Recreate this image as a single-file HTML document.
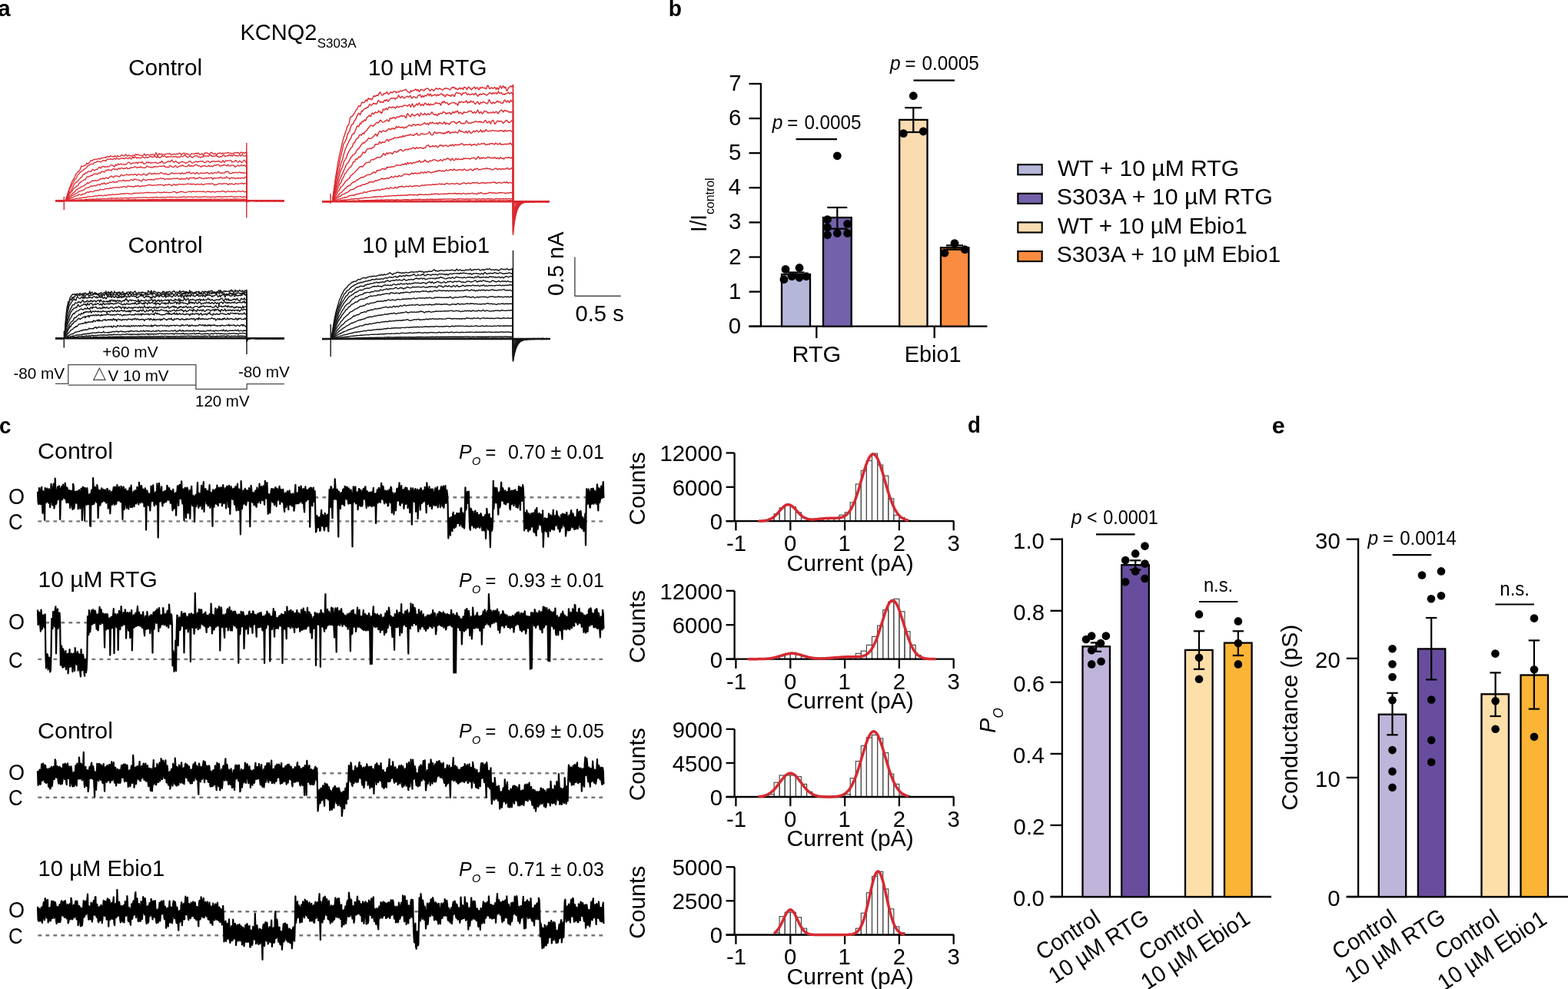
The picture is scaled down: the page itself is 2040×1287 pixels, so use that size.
<!DOCTYPE html>
<html><head><meta charset="utf-8"><title>KCNQ2 S303A figure</title>
<style>html,body{margin:0;padding:0;background:#fff;overflow:hidden}svg{display:block}text{font-family:"Liberation Sans", sans-serif}</style>
</head><body>
<svg width="2040" height="1287" viewBox="0 0 2040 1287">
<rect width="2040" height="1287" fill="#fff"/>
<text x="-2.7" y="21.0" font-size="30.39" font-weight="bold" textLength="16.41" lengthAdjust="spacingAndGlyphs">a</text>
<text x="869.7" y="20.6" font-size="28.84" font-weight="bold" textLength="17.18" lengthAdjust="spacingAndGlyphs">b</text>
<text x="-0.9" y="563.5" font-size="28.84" font-weight="bold" textLength="15.48" lengthAdjust="spacingAndGlyphs">c</text>
<text x="1259.1" y="563.0" font-size="28.84" font-weight="bold" textLength="16.81" lengthAdjust="spacingAndGlyphs">d</text>
<text x="1654.8" y="564.0" font-size="28.84" font-weight="bold" textLength="17.03" lengthAdjust="spacingAndGlyphs">e</text>
<text x="312.5" y="52.1" font-size="30.18" textLength="99.93" lengthAdjust="spacingAndGlyphs">KCNQ2</text>
<text x="412.8" y="61.7" font-size="17.00" textLength="50.75" lengthAdjust="spacingAndGlyphs">S303A</text>
<text x="166.9" y="98.3" font-size="30.18" textLength="96.35" lengthAdjust="spacingAndGlyphs">Control</text>
<text x="478.7" y="98.2" font-size="30.18" textLength="155.00" lengthAdjust="spacingAndGlyphs">10 µM RTG</text>
<text x="166.5" y="329.0" font-size="30.18" textLength="97.28" lengthAdjust="spacingAndGlyphs">Control</text>
<text x="471.3" y="329.2" font-size="30.18" textLength="165.93" lengthAdjust="spacingAndGlyphs">10 µM Ebio1</text>
<text x="133.2" y="465.3" font-size="21.12" textLength="72.43" lengthAdjust="spacingAndGlyphs">+60 mV</text>
<text x="17.4" y="493.4" font-size="21.12" textLength="66.70" lengthAdjust="spacingAndGlyphs">-80 mV</text>
<text x="140.6" y="495.5" font-size="21.12" textLength="78.96" lengthAdjust="spacingAndGlyphs">V 10 mV</text>
<text x="120.8" y="492.2" font-size="22.5" fill="#444" style="font-family:'DejaVu Sans', sans-serif">△</text>
<text x="309.9" y="490.6" font-size="21.12" textLength="66.91" lengthAdjust="spacingAndGlyphs">-80 mV</text>
<text x="254.0" y="529.0" font-size="21.12" textLength="70.57" lengthAdjust="spacingAndGlyphs">120 mV</text>
<text x="733.4" y="385.0" font-size="30.18" transform="rotate(-90 733.4 385.0)" textLength="83.39" lengthAdjust="spacingAndGlyphs">0.5 nA</text>
<text x="748.6" y="418.2" font-size="30.18" textLength="63.12" lengthAdjust="spacingAndGlyphs">0.5 s</text>
<text x="1004.7" y="167.6" font-size="25.23" font-style="italic" textLength="13.63" lengthAdjust="spacingAndGlyphs">p</text>
<text x="1024.3" y="167.6" font-size="25.23" textLength="13.97" lengthAdjust="spacingAndGlyphs">=</text>
<text x="1046.4" y="167.6" font-size="25.23" textLength="74.11" lengthAdjust="spacingAndGlyphs">0.0005</text>
<text x="1157.9" y="91.0" font-size="25.23" font-style="italic" textLength="13.63" lengthAdjust="spacingAndGlyphs">p</text>
<text x="1177.5" y="91.0" font-size="25.23" textLength="13.97" lengthAdjust="spacingAndGlyphs">=</text>
<text x="1199.6" y="91.0" font-size="25.23" textLength="74.11" lengthAdjust="spacingAndGlyphs">0.0005</text>
<text x="1030.5" y="471.0" font-size="30.18" textLength="63.86" lengthAdjust="spacingAndGlyphs">RTG</text>
<text x="1176.7" y="471.0" font-size="30.18" textLength="73.78" lengthAdjust="spacingAndGlyphs">Ebio1</text>
<text x="919.2" y="301.9" font-size="30.18" transform="rotate(-90 919.2 301.9)" textLength="22.70" lengthAdjust="spacingAndGlyphs">I/I</text>
<text x="929.0" y="279.1" font-size="17.00" transform="rotate(-90 929.0 279.1)" textLength="47.69" lengthAdjust="spacingAndGlyphs">control</text>
<text x="1375.9" y="228.6" font-size="30.18" textLength="236.20" lengthAdjust="spacingAndGlyphs">WT + 10 µM RTG</text>
<text x="1374.7" y="266.2" font-size="30.18" textLength="281.15" lengthAdjust="spacingAndGlyphs">S303A + 10 µM RTG</text>
<text x="1375.9" y="303.8" font-size="30.18" textLength="246.82" lengthAdjust="spacingAndGlyphs">WT + 10 µM Ebio1</text>
<text x="1374.7" y="341.4" font-size="30.18" textLength="291.56" lengthAdjust="spacingAndGlyphs">S303A + 10 µM Ebio1</text>
<text x="49.1" y="597.4" font-size="30.18" textLength="97.91" lengthAdjust="spacingAndGlyphs">Control</text>
<text x="10.9" y="655.5" font-size="30.18" textLength="21.01" lengthAdjust="spacingAndGlyphs">O</text>
<text x="10.9" y="689.0" font-size="30.18" textLength="18.65" lengthAdjust="spacingAndGlyphs">C</text>
<text x="596.9" y="597.4" font-size="25.75" font-style="italic" textLength="16.68" lengthAdjust="spacingAndGlyphs">P</text>
<text x="614.0" y="605.4" font-size="14.94" font-style="italic" textLength="11.28" lengthAdjust="spacingAndGlyphs">O</text>
<text x="631.5" y="597.4" font-size="25.75" textLength="13.85" lengthAdjust="spacingAndGlyphs">=</text>
<text x="660.9" y="597.4" font-size="25.75" textLength="124.93" lengthAdjust="spacingAndGlyphs">0.70 ± 0.01</text>
<text x="49.5" y="764.0" font-size="30.18" textLength="155.31" lengthAdjust="spacingAndGlyphs">10 µM RTG</text>
<text x="10.9" y="818.5" font-size="30.18" textLength="21.01" lengthAdjust="spacingAndGlyphs">O</text>
<text x="10.9" y="868.5" font-size="30.18" textLength="18.65" lengthAdjust="spacingAndGlyphs">C</text>
<text x="596.9" y="764.1" font-size="25.75" font-style="italic" textLength="16.68" lengthAdjust="spacingAndGlyphs">P</text>
<text x="614.0" y="772.1" font-size="14.94" font-style="italic" textLength="11.28" lengthAdjust="spacingAndGlyphs">O</text>
<text x="631.5" y="764.1" font-size="25.75" textLength="13.85" lengthAdjust="spacingAndGlyphs">=</text>
<text x="660.9" y="764.1" font-size="25.75" textLength="124.93" lengthAdjust="spacingAndGlyphs">0.93 ± 0.01</text>
<text x="49.1" y="960.6" font-size="30.18" textLength="97.91" lengthAdjust="spacingAndGlyphs">Control</text>
<text x="10.9" y="1014.5" font-size="30.18" textLength="21.01" lengthAdjust="spacingAndGlyphs">O</text>
<text x="10.9" y="1048.3" font-size="30.18" textLength="18.65" lengthAdjust="spacingAndGlyphs">C</text>
<text x="596.9" y="960.2" font-size="25.75" font-style="italic" textLength="16.68" lengthAdjust="spacingAndGlyphs">P</text>
<text x="614.0" y="968.2" font-size="14.94" font-style="italic" textLength="11.28" lengthAdjust="spacingAndGlyphs">O</text>
<text x="631.5" y="960.2" font-size="25.75" textLength="13.85" lengthAdjust="spacingAndGlyphs">=</text>
<text x="660.9" y="960.2" font-size="25.75" textLength="124.93" lengthAdjust="spacingAndGlyphs">0.69 ± 0.05</text>
<text x="49.6" y="1140.1" font-size="30.18" textLength="164.60" lengthAdjust="spacingAndGlyphs">10 µM Ebio1</text>
<text x="10.9" y="1194.4" font-size="30.18" textLength="21.01" lengthAdjust="spacingAndGlyphs">O</text>
<text x="10.9" y="1227.8" font-size="30.18" textLength="18.65" lengthAdjust="spacingAndGlyphs">C</text>
<text x="596.9" y="1140.2" font-size="25.75" font-style="italic" textLength="16.68" lengthAdjust="spacingAndGlyphs">P</text>
<text x="614.0" y="1148.2" font-size="14.94" font-style="italic" textLength="11.28" lengthAdjust="spacingAndGlyphs">O</text>
<text x="631.5" y="1140.2" font-size="25.75" textLength="13.85" lengthAdjust="spacingAndGlyphs">=</text>
<text x="660.9" y="1140.2" font-size="25.75" textLength="124.93" lengthAdjust="spacingAndGlyphs">0.71 ± 0.03</text>
<path d="M72 261.4l4 .1 4-.1 3.8-.1 1 0 1-1.7 1-3.7 1-3.3 1-2.9 1-2.9 1-2.8 1-2.5 1-2.7 1-2.5 1-2 1-1.6 1-1.6 1-2.2 1-2 1-1.5 1-1 1-1.4 1-.6 1-.5 1-3.1 1-2.6 1 .4 1-.2 1-.6 1-.5 1 .3 1-1.4 1-2 1 1.1 1 0 1-1.3 1-1.2 1-1.8 1 0 1 .5 1-1.2 1-.8 1 .3 1-.5 1-.3 1 .3 1-.2 1-.6 1 0 1 .6 1-.4 1-1.2 1 .1 1 0 1-.1 1-.5 1-.2 1 .5 1-1.4 1-.4 1 .7 1 .2 1-.7 1-1 1 .6 1 .3 1 0 1 .6 1-1.2 1-.4 1 1.6 1-.4 1-1.3 1 .6 1 .6 1 0 1-.4 1-1.6 1 .1 1 .6 1 .5 1 .3 1-1.5 1-.9 1 1.5 1 1.1 1-1 1-.5 1 .7 1 .2 1 .2 1-.1 1-.7 1-.3 1 .6 1-1.2 1-.8 1 1.4 1-.9 1 .2 1 .4 1 .3 1 .3 1-.1 1 .8 1-.2 1-1.4 1-1.2 1 1.6 1 .9 1-1.6 1 .2 1 .2 1 .5 1 .1 1-.6 1-.5 1 .3 1-.2 1 .1 1 1.5 1-1.4 1-2.5 1 1.3 1 3.1 1-1 1-2.4 1 1 1 .2 1-.7 1 .3 1 .6 1 0 1-.2 1 .1 1-.7 1-.1 1-.1 1 .2 1-.2 1-.7 1 1.6 1 .6 1-.9 1 .3 1-.2 1-.5 1 .5 1 .3 1-1 1 .3 1 .3 1-1.2 1-.2 1 .4 1 1.6 1-.5 1-1 1-.6 1-.1 1 1.9 1-.2 1-1 1 .3 1 .8 1 .3 1 .7 1-.3 1-1.6 1-.2 1 .3 1 .1 1 0 1 .1 1-1.1 1 .4 1 .7 1-1.3 1 .8 1 1.5 1-.1 1-.7 1-.9 1 1.6 1 1.2 1-2.6 1-1 1 .7 1-.5 1 .1 1 .6 1 .7 1 .9 1-2.5 1-.6 1 .7 1 .6 1 1.1 1-.4 1-.7 1 .8 1 1.9 1-1.9 1-1 1 .2 1-.2 1-.4 1 1.2 1 .1 1-1.3 1 .9 1-.3 1-.4 1 0 1 .1 1-.4 1-.2 1 .5 1 .1 1 .2 1 0 1 .4 1 0 1-.6 1-.2 1-.3 1-.4 1 .7 1 0 1-.8 1 1 1 .7 1-.5 1-1.6 1 .5 1 1.5 1-1.2 1 .3 1 .5 1-1.2 1 .4 0 64.6 .7-.7 1-.6 1-.3 1-.1 1-.1 1-.1 1 0 1 0 1 0 1 0 1 0 1 .1 1-.5 1 .9 1-.7 1-.2 1 .6 1-.3 1 .2 1-.2 1 .1 1 .1 1-.3 1 .4 1-.3 1-.1 1 .2 1 .1 1-.2 1-.1 1 .4 1-.6 1 .1 1 .3 1-.3 1 .3 1 0 1 .2 1-.4 1 0 1 .3 1-.7 1 1.4 1-1 1 0 1 .4 1-.2 1-.4 1 .6" fill="none" stroke="#dc2830" stroke-width="1.3" stroke-linejoin="round"/>
<path d="M72 261.5l4-.3 4 0 3.8 .1 1 0 1-1.6 1-2.9 1-3 1-3.1 1-2.4 1-2.3 1-1.9 1-1.7 1-2.1 1-1.8 1-2 1-2.1 1-1.4 1-.4 1-1.8 1-2.4 1-1.2 1-1.2 1-1.4 1-.7 1-.8 1-.3 1-.8 1-1.4 1-.3 1-1.1 1-.4 1-.9 1-1.8 1-.5 1-.2 1-1.1 1-.5 1-.6 1 .3 1 .4 1-1.5 1-.9 1-.2 1 0 1-.7 1-.7 1 .2 1-.1 1 .4 1 .7 1-.8 1-.6 1-1 1-.1 1 .6 1-.3 1 .7 1-1.7 1-1 1 .5 1 .1 1-.3 1-.7 1 .7 1 .5 1-.2 1-.9 1-.5 1 .9 1 .2 1-1.6 1 .4 1 1.2 1-.1 1-.5 1-.1 1-.5 1-.2 1 .2 1 0 1 .8 1-.9 1-.6 1 .4 1 .6 1 .4 1-1.5 1-.2 1 1.1 1 1 1-1.5 1-1.7 1 1.8 1-.5 1-1.6 1 1.1 1 1.3 1-.8 1-.3 1 .4 1 .6 1-.1 1-.4 1-.6 1-.7 1 .5 1 .7 1 .4 1-1.2 1 .1 1 .8 1-.5 1-.6 1-.1 1-.9 1 .2 1 1.1 1-.6 1 .3 1-.4 1-.8 1 .5 1 1.6 1-.8 1-.8 1 1.5 1-.2 1 .2 1-.9 1-2.1 1 1 1 .7 1-.7 1 0 1 .8 1 1.2 1-1.1 1 0 1 .5 1-.7 1 0 1-.1 1 .3 1 .3 1-.6 1 .4 1-.1 1-.5 1 .6 1 .7 1-.6 1 .2 1 .4 1-1.2 1-.6 1 .5 1 .4 1-1 1-.8 1 .4 1 .2 1 1 1 1.2 1-.1 1-.7 1-.8 1-.2 1 .8 1 1.3 1 0 1-1.5 1-.6 1-.1 1-.5 1 .1 1 .6 1 1.2 1-.1 1-.3 1 1.1 1-.8 1-.2 1 .4 1-1.2 1-.3 1 .2 1-.3 1-.1 1 .2 1 .4 1-.7 1-.3 1-.4 1 .2 1 1.3 1-.1 1-.2 1 .2 1-.6 1-.5 1 .7 1 .8 1-.1 1 .9 1-.3 1-1 1 .9 1-.7 1-1.3 1-.7 1 .6 1 1.4 1 0 1-.5 1-.4 1 .2 1-1.1 1-.2 1 1.3 1-1 1 1.3 1 0 1-2 1 .1 1 1.3 1 .2 1-.3 1 .9 1-.3 1-1.1 1-.6 1 1.8 1-.4 1-1.5 1 .7 1 .9 1 .3 1-.1 1-.8 1 .1 0 60.8 .7-.7 1-.5 1-.3 1-.1 1-.1 1-.1 1 0 1 0 1 0 1 0 1 .1 1-.5 1 .8 1 .2 1-.8 1 .2 1 .3 1-.7 1-.1 1 .2 1 .2 1 0 1 .3 1-.1 1-.4 1 .4 1 .4 1-.2 1-.1 1-.2 1 .2 1-.4 1 .4 1-.2 1 .3 1-.2 1-.4 1 .3 1 .3 1-.6 1 .2 1-.1 1-.2 1 .6 1 .1 1-.1 1-.1 1-.1 1 .1" fill="none" stroke="#dc2830" stroke-width="1.3" stroke-linejoin="round"/>
<path d="M72 261.1l4 .4 4 .1 3.8-.3 1 0 1-1.2 1-2.2 1-1.8 1-1.9 1-2.8 1-1.9 1-.7 1-1.5 1-1.9 1-1.7 1-2.4 1-2.1 1-1.1 1-.6 1-.6 1-.8 1-1.3 1-.9 1-1 1-1.6 1-.4 1-1 1-2.4 1-.8 1 .5 1-1.6 1-.9 1 .6 1-1.1 1-1.1 1-.1 1-.1 1 .3 1 0 1-1.8 1-1.1 1 .7 1 1 1-.5 1-1.2 1 .4 1-.5 1-1.4 1-1 1-.4 1 1.6 1-.7 1-1.4 1-.3 1-.1 1 1 1-.5 1-.2 1 .3 1-.4 1 .4 1 0 1-1.2 1-1 1-.4 1 .5 1 .1 1 1.1 1 1.1 1-1.8 1-1.3 1 1 1-1 1-1.3 1 1.5 1-.4 1-.8 1 .2 1 .5 1 .2 1-.2 1 .2 1-.3 1 .2 1-.5 1-1.5 1-.6 1-.2 1 .6 1 1.4 1 .4 1-1 1-.7 1 0 1 .3 1-.1 1-.6 1 0 1 1.3 1-1 1-.7 1 0 1 .2 1 .7 1-1.3 1 .4 1 2.2 1-.1 1-.4 1-.1 1-1.9 1 .3 1 .9 1-1.1 1 .7 1 .9 1-.8 1 .3 1-.2 1-.1 1-.1 1-.1 1-.1 1 .5 1 .7 1 0 1-.6 1-1.1 1 .9 1-1.3 1-1.1 1 2.1 1 .8 1 0 1-.5 1-.2 1-.3 1-1.1 1-.6 1 .5 1 .6 1-.1 1-1.7 1-.8 1 1.7 1 1.3 1-.1 1-.6 1-1 1 1.6 1 .6 1-.2 1 1.5 1-.8 1-1.2 1-.1 1-.4 1 .1 1 .6 1 .2 1 .5 1 .7 1-.8 1-.4 1-.3 1-1.1 1 .1 1-.1 1 .9 1 1.1 1 .2 1-.6 1-.6 1-.3 1-.8 1 .5 1 .8 1-.9 1 .2 1-.4 1-.4 1 .6 1-.2 1-.3 1 .8 1 1 1 .1 1-.3 1-1.4 1-.3 1 0 1 .5 1 1.3 1 0 1-1.1 1-.4 1 .5 1-.7 1 0 1 .9 1-.4 1-.4 1 .4 1-.2 1-.6 1 .9 1 .6 1 .5 1-.7 1-2 1 1.1 1 1.6 1-1 1-1.4 1 .4 1-.2 1-.2 1-.2 1 0 1 0 1 0 1 2.1 1 0 1-.5 1-.2 1-1 1-.5 1 1.1 1 .8 1 .4 1-.7 1-1.1 1 .8 1 .9 1 1 1-1.2 1-1.7 1-.7 1 1.4 1 1 1-1.2 0 53.4 .7-.6 1-.5 1-.2 1-.2 1 0 1-.1 1 0 1 0 1 0 1 0 1 0 1-.7 1 .3 1 .6 1-.1 1-.1 1-.3 1 .4 1 .3 1-.7 1 .3 1-.1 1 .2 1-.1 1-.1 1-.1 1 .2 1-.2 1 .1 1 .1 1 .2 1-.4 1 .1 1 .4 1-.4 1 0 1 .3 1-.1 1-.1 1 0 1-.3 1 .4 1 .2 1-.2 1-.5 1 .5 1-.3 1 .1 1 .1" fill="none" stroke="#dc2830" stroke-width="1.3" stroke-linejoin="round"/>
<path d="M72 261l4 .6 4-.3 3.8 0 1 0 1-.8 1-1.6 1-2 1-1.9 1-1.7 1-1.7 1-.7 1-1 1-1.1 1-1.6 1-1.5 1-1 1-.8 1-.5 1-1.6 1-.2 1-.7 1-2.5 1-.6 1-.4 1-.8 1-1.3 1-.3 1-.4 1-.7 1 0 1-1.8 1-1.7 1-.4 1 0 1-.1 1-.5 1-.8 1-.4 1 .6 1-1.3 1-1.1 1 .3 1-.3 1-.6 1 .6 1 .4 1-.8 1-1.3 1 .4 1 .3 1-1.7 1-.6 1-.2 1 1 1 .1 1-1.3 1-1.3 1 .1 1 .3 1-1.1 1 .7 1-.1 1 0 1 .8 1-1.5 1-.8 1 0 1-.1 1 1.1 1-.8 1 .3 1 .5 1-1.7 1 0 1 .9 1-.8 1-.5 1-.1 1 .6 1 .7 1-1 1 .4 1-.5 1-.9 1 1.6 1 .1 1-.4 1 .1 1-1.1 1-.3 1 .3 1-.1 1-.6 1-.2 1-.4 1 .4 1 .9 1 .3 1-1.2 1 0 1 .9 1-1.2 1 0 1 1.1 1 .2 1-.1 1 .2 1 0 1-.5 1-1.6 1-.4 1 1.2 1 .1 1 .2 1 .6 1-.4 1 .6 1-.6 1-.5 1 .2 1-.9 1 .5 1 .1 1 .1 1-.3 1-.5 1 .1 1-.1 1 .2 1-.5 1 .5 1-.1 1-.9 1 1.2 1 1 1-.2 1-.3 1 .8 1-.8 1-1.7 1 .1 1 .9 1 .7 1 .1 1 .3 1-.7 1-1 1-.4 1 1.6 1 1 1-.9 1-.7 1-.4 1-.1 1 0 1-1.2 1 .2 1 1 1 .2 1 .3 1 .3 1-.1 1-.1 1-1.4 1-1 1 2.3 1-.1 1-1.1 1 1 1-.3 1 0 1-.3 1-1.4 1 0 1 .1 1 .7 1 .7 1 .2 1-.4 1 1.2 1 .5 1-1.4 1 .2 1-.1 1-.6 1 .2 1 .8 1 .3 1 0 1-.7 1-.9 1 1.4 1 .3 1-.9 1 .5 1 .5 1-1.1 1-1 1 .4 1 .1 1-1 1 .1 1-.3 1 .2 1 1.8 1 .2 1-1 1 .2 1 .2 1-1.2 1-.1 1 .2 1 .6 1 .9 1-1.2 1-.8 1 1.7 1 .4 1-.3 1-.9 1 .2 1 0 1-.4 1 1.5 1 1 1-.5 1-.6 1-.6 1-.7 1 .9 1 .3 1-.7 1-.8 1 .1 1 1.1 1-.5 1-.6 1 1.3 1 .3 1-1 0 47.4 .7-.5 1-.4 1-.3 1-.1 1 0 1-.1 1 0 1 0 1 0 1 0 1-.3 1 .1 1 .1 1 .4 1-.5 1 .6 1-.6 1 .1 1 .3 1-.3 1-.1 1 .2 1 .1 1-.5 1 .3 1 .1 1-.1 1 .3 1-.3 1 0 1 .1 1 .2 1-.3 1 .5 1-.6 1 .5 1-.5 1 .2 1 .1 1 .4 1-.3 1-.3 1 .4 1-.4 1-.1 1 .3 1-.1 1 .2 1-.3" fill="none" stroke="#dc2830" stroke-width="1.3" stroke-linejoin="round"/>
<path d="M72 261.4l4 .1 4-.1 3.8-.1 1 0 1-.6 1-1.1 1-1.2 1-1.2 1-1.2 1-1.2 1-1 1-.6 1-.9 1-.9 1-.8 1-.7 1-.9 1-1.7 1-.6 1-.3 1-1.1 1-.4 1-.3 1-.7 1-.8 1-.7 1-.3 1 0 1-.9 1-1.1 1-.1 1-1.2 1-1.2 1 1.1 1-.5 1-1.1 1 0 1-.9 1-.9 1-.4 1 .8 1-.5 1-.5 1 .4 1 .3 1-.6 1-.6 1 .3 1-.9 1-1.3 1 .5 1-.1 1-1.1 1 .7 1 .5 1-.9 1-.7 1 0 1 .4 1 1 1-1.5 1-.9 1-.6 1-.6 1 .7 1 .7 1 .4 1-1.3 1-.5 1 0 1 .2 1 0 1 .1 1 .7 1-.1 1-1.4 1-1.1 1 .1 1 1.1 1 .1 1-.9 1 .1 1-.4 1-.7 1 .8 1 .3 1-.5 1 .2 1-.1 1-.5 1 0 1 .5 1 .2 1-.9 1-.3 1 .8 1 1 1-.9 1-.8 1 .4 1 .2 1 .3 1 .2 1 0 1-1 1-.5 1 .4 1 .4 1 .9 1 .5 1-1.7 1-.7 1-.1 1-1 1 1 1 1 1-.9 1 .5 1 0 1-1.4 1 .8 1 .6 1-.4 1-.2 1 .2 1-.1 1-.2 1-.9 1-.5 1 1.1 1 .3 1 0 1 .9 1-.5 1-.5 1 1.2 1 .1 1-.1 1 .4 1-.6 1-.8 1-.7 1-.5 1 .6 1 .7 1-.3 1 .1 1-.2 1 .1 1 .3 1-.5 1-.1 1 0 1 1.1 1-.7 1-1.1 1 1.3 1 .3 1-.8 1 .5 1-.4 1-1.5 1 .8 1-.1 1-1.4 1 1.1 1 1.5 1-.1 1-.6 1-.3 1-.2 1 .7 1 .8 1-.4 1-1.4 1 .1 1 1.6 1 .2 1-.4 1-.6 1-.5 1 .3 1 .3 1-.2 1-.3 1 .6 1-.4 1-.8 1 .3 1 .5 1 .9 1 .1 1-.3 1-1.3 1 .6 1 .9 1-1 1-.3 1-.1 1 .2 1 .3 1-.4 1-1.4 1 .2 1 1.4 1 .3 1-.3 1-.1 1 .6 1-.5 1 .2 1-.7 1-1.3 1 .5 1-.6 1 0 1 1.7 1 1.1 1-.6 1 .3 1 0 1-1.1 1 0 1 .2 1 .2 1-.6 1 .1 1 .5 1-.1 1-.5 1-.6 1 .7 1 .7 1-.7 1 .4 1 .8 1-1.1 1 .4 1 .3 1 0 0 37.2 .7-.4 1-.3 1-.2 1-.1 1-.1 1 0 1 0 1 0 1 0 1 0 1 .6 1-.4 1-.3 1 0 1 .2 1 0 1-.3 1 0 1 .4 1 .4 1-1.3 1 .9 1-.3 1 .3 1 0 1-.2 1-.3 1 0 1-.2 1 .8 1-.4 1 0 1 0 1-.2 1 .4 1 .2 1 0 1-.7 1 .7 1-.5 1-.3 1 .2 1 .1 1 .2 1-.3 1-.1 1 .3 1 .6 1-.7" fill="none" stroke="#dc2830" stroke-width="1.3" stroke-linejoin="round"/>
<path d="M72 261.4l4-.1 4 .7 3.8-.7 1 0 1-.4 1-1 1-.8 1-.3 1-.8 1-1.5 1-.4 1-.5 1-1 1-.5 1-.6 1-.6 1-.6 1-.4 1-.4 1-.8 1-.9 1-.7 1-.2 1-.2 1-.5 1-.2 1-.1 1-.6 1-.7 1-.8 1-1 1-.1 1-.4 1 0 1-.4 1-.6 1-.7 1-.7 1 .4 1 0 1-.8 1-.2 1 .7 1-.1 1-.8 1-.7 1-.4 1 .2 1 .7 1-.7 1-1.3 1 0 1 .7 1-1.3 1-.4 1 1.7 1 0 1-.7 1-.4 1 .1 1-.7 1-.9 1 .3 1 0 1-.2 1-.7 1 .1 1 .9 1-.4 1-.4 1 .5 1-.6 1-1.1 1-.1 1 .1 1-.1 1 .1 1 0 1-.7 1-.5 1 1 1 .5 1-.6 1-.1 1 0 1 .2 1 .2 1-.6 1-.7 1-.2 1-.3 1 1 1 0 1-1.5 1 0 1 .5 1 .4 1-.1 1 0 1 .5 1 .2 1 .7 1 .6 1-.3 1-1.8 1-.8 1 .6 1 1 1 .1 1-.4 1-.4 1-.3 1 .3 1-.4 1-.1 1 .7 1-.5 1 0 1 .7 1-.4 1-.8 1-.2 1-.3 1 .2 1 .1 1-.3 1-.2 1-.5 1-.1 1 .8 1-.2 1-.4 1 1.2 1 .7 1-1 1-.3 1 0 1 .4 1 0 1-.6 1 .8 1-.4 1-.1 1 0 1-.5 1 .2 1-.1 1 .1 1 0 1-.5 1 .4 1 .7 1 .2 1 .3 1-1.2 1-.1 1 1.2 1-.8 1-.2 1 .9 1-.7 1-1.2 1 0 1 1.8 1 .2 1-1.7 1-.2 1 .1 1-.1 1 .4 1-.9 1 .1 1 1.7 1-.3 1-.7 1 .5 1-.4 1-1 1-.1 1 .5 1 .7 1 .1 1 0 1 .4 1 0 1-.7 1-.4 1 .9 1-.4 1-.6 1 .2 1 .1 1-.3 1-.5 1 1.5 1 1 1-1.4 1-.5 1 .6 1-.1 1 0 1-.2 1-.4 1 .2 1 0 1-1.1 1 .2 1 1.2 1 .2 1-.5 1-.1 1 .5 1-.9 1-1.1 1 1 1 .5 1 .2 1 1.4 1-.7 1-1.2 1 .2 1 .6 1-.5 1 .2 1 .9 1-.2 1-.7 1 .1 1 .6 1-.9 1 .5 1 .4 1-.7 1-.2 1 0 1 .8 1-.5 1-1.3 1 .2 1 .1 0 31.5 .7-.3 1-.3 1-.1 1-.1 1-.1 1 0 1 0 1 0 1 0 1 0 1-.2 1 .2 1 0 1 .3 1-.6 1 .4 1-.2 1 .4 1 .3 1-.5 1 .3 1-.5 1-.3 1 .1 1-.1 1 .2 1 .1 1 .4 1-.1 1-.1 1-.2 1-.1 1 .2 1 0 1 .1 1 0 1-.1 1-.5 1 .2 1 .1 1 .6 1-.5 1 .3 1 .2 1-.3 1-.2 1 0 1-.2 1 .4" fill="none" stroke="#dc2830" stroke-width="1.3" stroke-linejoin="round"/>
<path d="M72 261.6l4-.2 4 .1 3.8-.2 1 0 1-.2 1-.6 1-.4 1-.3 1-.9 1-.7 1-.1 1-.6 1-.2 1-.2 1-.6 1-.8 1-.6 1-.2 1-.1 1-.4 1-.9 1-.4 1 0 1 .4 1 .4 1-.8 1-.7 1 .2 1-.2 1-.7 1-.9 1-.4 1-.4 1-.1 1 .5 1-.9 1-.4 1 .3 1 .2 1 .1 1-.4 1-.8 1-.5 1 .3 1-.2 1-.6 1 .4 1-.1 1-1 1-.4 1 .5 1-.2 1 0 1 .3 1-.7 1-.7 1 0 1-.3 1 0 1 .2 1 0 1-.3 1-.7 1 .7 1-.1 1-.9 1-.1 1 0 1-.2 1 0 1-.1 1-.2 1 .2 1 .3 1-.1 1-.5 1-.2 1 .2 1-.3 1-.6 1 .1 1 .5 1 .3 1 .2 1-1.1 1-.8 1 .8 1 .1 1-.3 1 .1 1 .5 1 0 1-.2 1 .3 1-.7 1-.7 1 .7 1 0 1-.9 1 .4 1 1.2 1-.5 1-.5 1-.1 1 0 1-.1 1-.1 1 .3 1-.6 1-.2 1-.1 1-.6 1-.2 1 .4 1-.1 1 .2 1 .5 1 0 1-.4 1-.2 1 .1 1 .4 1-.3 1-.6 1 .1 1 .1 1-.2 1-.2 1 .6 1-.1 1 0 1 .9 1 .1 1-1.4 1-.2 1 .8 1-.1 1-.8 1 0 1 .2 1 .2 1 .8 1 .4 1-.6 1-1.5 1 .5 1 .9 1-.6 1 .2 1 .4 1-1 1-.4 1 .3 1 0 1 .2 1-.2 1-.2 1 .5 1 0 1-.3 1-.1 1 0 1-.6 1 .1 1 .3 1 0 1-.2 1 .3 1 .6 1-.8 1-.1 1 .3 1 .5 1 .5 1-1 1-.1 1 .3 1 .3 1 .1 1-.2 1-.6 1 .1 1 1.2 1-.1 1-.8 1-.2 1-.3 1 0 1-.1 1-.1 1 .3 1-.3 1 .3 1-.2 1-.3 1 .1 1 .7 1 1.2 1-.4 1 0 1-.1 1-.5 1-.4 1-.6 1 .2 1 .1 1-.2 1 .5 1 .1 1-.9 1 0 1 .3 1-.1 1-.1 1 .6 1 1.1 1-.9 1-.5 1 .7 1-.7 1-.2 1 .9 1 .3 1 .1 1-.8 1-.9 1 .6 1 .4 1-.1 1-.3 1-.2 1-.1 1 .3 1-.8 1 .5 1 .8 1-1.2 1 .4 1 0 1 0 0 23.2 .7-.3 1-.2 1-.1 1 0 1-.1 1 0 1 0 1 0 1 0 1 0 1-.1 1 .3 1 0 1 .1 1-.4 1 0 1 .1 1-.3 1 .5 1-.2 1-.3 1 .6 1 .1 1-.7 1 .5 1 .1 1-.1 1-.4 1-.1 1 .3 1-.1 1 .1 1 0 1 .1 1-.2 1 .1 1 .7 1-.7 1 .2 1-.1 1 0 1-.3 1 .3 1-.1 1 .2 1 .3 1-.4 1 .1 1-.4" fill="none" stroke="#dc2830" stroke-width="1.3" stroke-linejoin="round"/>
<path d="M72 261.3l4 .4 4-.4 3.8 0 1 0 1-.1 1-.2 1-.3 1 0 1-.3 1-.4 1-.2 1 0 1-.1 1-.2 1-.2 1-.3 1-.4 1 0 1 .1 1-.3 1-.2 1-.3 1-.3 1 0 1 .1 1-.4 1-.3 1 0 1-.1 1 .1 1 .1 1-.6 1-.4 1-.1 1-.1 1-.1 1 .1 1 0 1-.1 1-.3 1 0 1-.3 1-.2 1 .2 1 0 1-.6 1-.3 1-.2 1 .5 1-.1 1-.5 1 .6 1 .2 1-.2 1-.4 1-.2 1 .6 1-.2 1-.7 1-.1 1-.2 1 .1 1 .2 1-.3 1-.7 1 .1 1 .3 1 .2 1 .1 1-.5 1-.1 1 .3 1-.1 1-.4 1 0 1-.1 1-.6 1 .3 1 .1 1-.5 1 .2 1 0 1-.1 1-.3 1 .1 1 .3 1-.1 1 .2 1 .2 1 0 1 .2 1-.3 1-.9 1-.1 1 .3 1 0 1-.2 1-.3 1 .3 1 .4 1-.5 1-.1 1 .2 1-.3 1 .2 1 0 1-.3 1 0 1-.4 1-.2 1 .3 1-.2 1 .1 1 .4 1-.2 1-.2 1 .3 1 .3 1-.4 1-.2 1 .4 1-.1 1-.5 1-.2 1 .1 1-.1 1 .6 1 .1 1-.5 1 .2 1 0 1-.1 1-.6 1 .5 1 .3 1-.4 1 .1 1 .3 1 .1 1-.1 1 0 1-.2 1-.2 1-.3 1-.6 1 .1 1 .2 1 .8 1 .7 1-.4 1-.6 1 .2 1-.3 1-.9 1 .2 1 .1 1 .2 1 .3 1 .5 1 .2 1-.2 1-.2 1-.4 1-.3 1-.4 1 0 1 .3 1 .4 1-.4 1-.6 1 .5 1 .1 1 0 1 .2 1-.3 1-.3 1 .2 1 .1 1-.1 1 0 1 .2 1 .2 1-.5 1-.1 1 .6 1 .3 1 .1 1-.3 1-.5 1-.3 1 .6 1 0 1 0 1 .6 1-.6 1-.3 1 .3 1 .4 1 .3 1-.7 1-.2 1-.1 1-.1 1 .3 1 0 1 .1 1-.3 1-.7 1 .2 1 .3 1-.1 1 .8 1 .5 1-.7 1-.7 1-.3 1 .5 1 .6 1-.1 1-.3 1 .1 1 .3 1-.6 1-.3 1 .7 1 .2 1 0 1-.6 1-.3 1-.1 1 .2 1 .5 1 .1 1-.4 1-.4 1 .7 1 .3 1 .1 1 0 1-.9 0 12.9 .7-.2 1-.1 1 0 1-.1 1 0 1 0 1 0 1 0 1 0 1 0 1 .2 1 .1 1-.4 1-.4 1 .7 1-.2 1 .1 1-.8 1 .8 1-.8 1 .5 1 .4 1-.7 1 0 1 .4 1 .5 1 0 1-.6 1 .4 1-.1 1 0 1 0 1-.3 1 .4 1 .1 1 .4 1-.5 1-.8 1 .3 1 .4 1-.1 1-.5 1 .5 1-.1 1 .1 1 0 1 .2 1 .2 1-.2" fill="none" stroke="#dc2830" stroke-width="1.3" stroke-linejoin="round"/>
<path d="M72 261l4 .1 4 0 3.8 .2 1 0 1 0 1-.1 1-.1 1 0 1 0 1-.2 1 0 1-.2 1-.1 1-.1 1 .1 1-.1 1-.2 1 0 1 .1 1-.1 1-.1 1-.1 1-.1 1 0 1-.1 1 .1 1 .1 1 0 1-.1 1-.3 1-.1 1-.1 1 .1 1-.3 1-.1 1 0 1-.1 1 .3 1-.1 1-.5 1 .2 1 .4 1-.1 1-.1 1-.2 1 0 1 .2 1-.1 1-.2 1 .1 1 0 1-.3 1 0 1 .2 1-.2 1 0 1 .1 1-.1 1-.2 1-.1 1-.1 1-.1 1-.2 1-.2 1 .2 1 .2 1 0 1 0 1 0 1-.2 1-.1 1 .1 1-.1 1 0 1-.1 1-.1 1 0 1 .1 1 .4 1-.2 1-.3 1-.1 1 .1 1 .2 1-.3 1 .2 1 .2 1-.5 1-.1 1 .2 1 0 1 0 1 0 1 0 1-.2 1 .2 1-.3 1-.3 1 .1 1 0 1 .1 1 0 1 0 1-.1 1-.2 1 0 1 .3 1-.1 1-.2 1 0 1 .4 1 .1 1-.2 1-.1 1-.2 1-.1 1 .3 1-.1 1-.3 1 .3 1-.1 1-.3 1-.2 1 .5 1 0 1 0 1 .2 1-.1 1 .1 1-.4 1-.2 1 .3 1-.1 1 .1 1 .1 1-.3 1-.1 1 .1 1 0 1-.1 1-.1 1 .3 1-.1 1-.2 1 .3 1 0 1-.2 1 .1 1 .3 1-.1 1-.2 1 0 1 0 1-.1 1 0 1 .2 1-.4 1-.5 1 .2 1 .4 1 .2 1 .1 1-.3 1-.3 1 .1 1 .1 1-.2 1 .1 1 .4 1 0 1-.4 1 0 1 0 1-.3 1 .3 1 .1 1 .1 1 .2 1-.4 1 0 1 .4 1-.1 1-.4 1-.1 1 0 1-.1 1-.1 1 .3 1 .4 1-.1 1-.1 1 .2 1 .2 1-.2 1-.4 1 .1 1 .1 1 0 1 .2 1-.2 1-.2 1-.1 1 0 1 0 1-.1 1 .1 1 0 1 .1 1 .3 1-.4 1 0 1-.1 1-.1 1 .5 1-.2 1-.2 1 0 1 .2 1-.4 1-.4 1 .3 1 .2 1 .5 1 .2 1-.1 1-.2 1-.2 1 .1 1 .3 1-.4 1-.3 1 0 1 .4 1 .4 1 .1 1-.4 1-.4 1 .4 1 .1 1-.1 0 5.3 .7-.1 1 0 1-.1 1 0 1 0 1 0 1 0 1 0 1 0 1 0 1-.3 1 .2 1 .1 1-.1 1 0 1-.3 1 .8 1-.4 1-.4 1 .7 1-.3 1 .2 1-.2 1-.2 1 0 1 .3 1 .1 1-.1 1 .1 1 .1 1-.2 1 .2 1 0 1-.2 1-.1 1-.1 1-.2 1-.1 1 .7 1-.3 1-.1 1 .5 1-.1 1-.3 1 .3 1-.3 1 .1 1 .4 1-.2" fill="none" stroke="#dc2830" stroke-width="1.3" stroke-linejoin="round"/>
<path d="M72 261.2l4 .3 4 .1 3.8-.3 1 0 1 0 1 0 1-.1 1 0 1 .1 1 0 1-.1 1-.1 1-.1 1 .1 1 0 1 0 1 0 1-.1 1 .1 1-.1 1-.1 1 0 1 0 1-.1 1 0 1 .1 1-.1 1 0 1 0 1 0 1 0 1 0 1-.1 1-.1 1 .1 1-.1 1-.1 1 .1 1 .1 1 0 1 0 1-.1 1 0 1 .1 1-.1 1-.1 1 0 1-.2 1 0 1 .1 1 .1 1-.1 1 0 1 0 1-.1 1 .1 1-.1 1-.1 1 .1 1-.1 1 0 1 0 1 0 1-.2 1 .1 1 0 1 0 1 .1 1-.1 1-.1 1 .1 1 0 1 0 1-.1 1-.1 1 0 1-.1 1 0 1 .2 1 .1 1 .2 1-.2 1-.1 1 .1 1-.2 1-.3 1 .2 1 .3 1-.3 1 0 1 .2 1-.1 1 0 1-.1 1-.2 1 .2 1 .1 1 0 1 0 1 0 1-.1 1 .1 1 0 1-.1 1 0 1-.1 1 .1 1 0 1 .1 1 0 1-.2 1 0 1 0 1-.1 1-.1 1 .1 1 0 1-.2 1 .1 1 .1 1 0 1-.1 1-.1 1 .3 1 0 1-.2 1 .3 1 0 1-.3 1-.2 1 .1 1 0 1 0 1 0 1-.2 1 .3 1 .2 1-.1 1 .1 1-.2 1-.1 1 0 1 .1 1 .1 1-.1 1 .1 1 .1 1-.2 1-.1 1 0 1-.1 1 0 1 .1 1-.1 1 .1 1 0 1 .1 1-.1 1 0 1-.2 1-.2 1 .3 1 .3 1-.3 1 .1 1 .1 1-.2 1 .1 1 0 1 0 1-.2 1 0 1 .1 1 0 1 0 1-.1 1-.1 1 .2 1 0 1-.1 1 .2 1-.1 1 0 1 .1 1-.1 1-.1 1 .3 1-.1 1-.3 1 0 1 .3 1-.1 1-.2 1 .2 1-.1 1-.1 1 0 1-.1 1 .1 1 .2 1-.1 1 0 1 .1 1 .1 1-.2 1-.1 1 .1 1-.3 1 0 1 .3 1 .1 1-.2 1 .1 1 .2 1-.2 1-.1 1 .1 1 0 1 .1 1 0 1 0 1-.1 1-.3 1 .1 1 .1 1-.1 1 .1 1-.1 1 .2 1-.1 1 0 1 .1 1 0 1 .2 1-.2 1-.3 1 .2 1 .2 1-.2 1-.2 0 2.5 .7-.1 1 0 1 0 1 0 1 0 1 0 1 0 1 0 1 0 1 0 1-.4 1 .5 1 .3 1-.6 1 0 1 .3 1 0 1 0 1-.2 1-.4 1 .9 1-.5 1 .4 1-.8 1 .6 1-.2 1-.2 1 .5 1 .1 1-.4 1 .3 1-.5 1 .1 1 .1 1 0 1 .3 1-.5 1 .5 1 0 1-.3 1-.2 1-.3 1 .6 1-.2 1 .2 1-.3 1 .3 1 0 1 0" fill="none" stroke="#dc2830" stroke-width="1.3" stroke-linejoin="round"/>
<path d="M72 261.4l4 0 4 .1 3.8-.2 1 0 1 0 1 0 1 0 1 0 1 0 1 0 1-.1 1 .1 1-.1 1 0 1 0 1 0 1 0 1 0 1 0 1-.1 1 .1 1 0 1 0 1 0 1-.1 1 0 1 .1 1 0 1-.1 1 0 1 .1 1 0 1 0 1-.1 1 0 1 0 1 0 1 .1 1 0 1-.2 1 0 1 .1 1 0 1-.1 1 0 1 .1 1 0 1-.1 1 .1 1 0 1-.1 1 0 1 .1 1-.2 1 0 1 .1 1 0 1 0 1-.1 1 .1 1-.1 1 0 1 .1 1 0 1-.1 1 .1 1-.1 1-.1 1 .1 1 0 1 .1 1 0 1-.1 1 .1 1 0 1 0 1-.1 1 0 1 0 1 .1 1-.1 1-.1 1 .1 1 .1 1-.1 1 0 1-.1 1-.1 1 .1 1 .2 1 0 1-.1 1 0 1 0 1 0 1-.1 1 .1 1-.1 1 0 1 0 1 0 1 0 1 0 1 .1 1 .1 1-.2 1 .1 1 .1 1-.1 1-.1 1 0 1 .1 1 0 1 0 1-.1 1 .1 1 .1 1-.1 1-.1 1 0 1 .1 1 0 1 0 1-.1 1 .1 1-.1 1-.1 1 0 1 0 1 .1 1 0 1-.1 1 0 1-.1 1 .1 1 0 1 0 1 .2 1 0 1-.1 1-.1 1 0 1 0 1 0 1 0 1 .2 1 0 1-.2 1 0 1-.1 1 .1 1 .2 1-.1 1-.1 1 0 1 0 1 .1 1-.1 1-.1 1 .1 1-.1 1 0 1 .1 1-.1 1 0 1 .1 1 0 1-.1 1 0 1 .2 1-.1 1 0 1-.1 1 0 1 .3 1 .1 1-.2 1-.1 1 .1 1 0 1-.1 1 0 1-.1 1 0 1 .2 1 .1 1-.1 1-.1 1 0 1 0 1 0 1-.1 1-.1 1 .1 1 .1 1 0 1 0 1 .1 1 0 1-.2 1 .1 1 0 1 0 1-.1 1-.1 1 .1 1 .1 1 0 1-.1 1 0 1 .1 1 0 1-.1 1-.1 1 .2 1 0 1-.1 1 0 1-.1 1 0 1 .1 1 0 1 .1 1 0 1-.3 1 .1 1 0 1 .1 1 .1 1-.1 1 0 1 0 1 .1 1 0 1 0 1 0 1-.1 1 .1 1-.1 1 0 0 .7 .7 0 1 0 1 0 1 0 1 0 1 0 1 0 1 0 1 0 1 0 1-.1 1 .3 1-.3 1-.1 1 0 1 .6 1-.8 1 0 1 .6 1-.5 1 .2 1 0 1 .7 1-.8 1 0 1 .1 1 .2 1 0 1-.5 1 .5 1 .4 1-.9 1 .5 1 .1 1-.2 1-.1 1-.5 1 .9 1-.4 1 0 1 .4 1-.9 1 .6 1 .1 1 .1 1 0 1 .3 1-.4 1 .2" fill="none" stroke="#dc2830" stroke-width="1.3" stroke-linejoin="round"/>
<line x1="72.0" y1="261.3" x2="370.0" y2="261.3" stroke="#dc2830" stroke-width="2.4"/>
<line x1="83.3" y1="256.0" x2="83.3" y2="273.0" stroke="#dc2830" stroke-width="1.4"/>
<line x1="320.8" y1="186.0" x2="320.8" y2="283.5" stroke="#dc2830" stroke-width="1.4"/>
<path d="M419 262.3l4-.1 4 0 3.5 .1 1 0 1 0 1-8.2 1-7.8 1-7.1 1-7.5 1-6.2 1-6 1-6.4 1-5.7 1-4.7 1-4.4 1-4.4 1-4.6 1-4.2 1-4 1-3.1 1-2.5 1-3.5 1-2.8 1-3.8 1-2.3 1-.2 1-4.1 1-5.1 1-2 1 .1 1-.6 1-1.5 1-1.2 1-2.2 1-1.8 1-1.7 1-.8 1-2 1-2.2 1 .1 1 .8 1-1.8 1-3.3 1-.7 1 .9 1-.5 1-.4 1-2.1 1-.9 1 1.9 1-2.7 1-1.4 1 1.8 1-.6 1-.6 1 1.5 1-1 1-2.8 1-1.3 1 .5 1 .1 1-1 1-.3 1 .5 1-1.2 1-2.2 1-1.4 1 2.1 1 2 1 .1 1-.3 1-2.2 1 .2 1 .4 1-1.7 1-.9 1 2.5 1 .9 1-1.3 1-.7 1-1.2 1 .9 1 .4 1-1.6 1-.2 1-.2 1 .2 1 1.7 1-1.1 1 .2 1 .1 1-1.3 1-.2 1-.5 1 .7 1-.3 1-.7 1-.3 1-.2 1-.9 1 .4 1 1.7 1 1 1 .2 1 1.3 1-.4 1-2.7 1 1.3 1-.6 1-.8 1 0 1-.6 1-1 1 .4 1 1.6 1-1.7 1 1.6 1 1.5 1-1.6 1-1.4 1-.1 1 .5 1 .6 1 .8 1-1.3 1-1.3 1 .1 1-.8 1-.1 1 1.1 1 1.1 1 1.3 1-1.4 1-.8 1 .3 1 1.4 1 .3 1-1.5 1-.8 1-1.3 1 1 1 .4 1 .1 1-1.1 1 .2 1 .6 1 .9 1 .5 1-.6 1-1 1-.7 1 .4 1-.8 1 .8 1 .1 1 .2 1 .9 1 .3 1-.8 1-1.8 1-.7 1 1 1-1.2 1 .8 1 1.7 1-.9 1 1 1 .8 1-.7 1-1.5 1 0 1 1.2 1-1.1 1 .6 1 1.3 1-2.8 1-.4 1 .6 1 .9 1 1.9 1-2.1 1-1.6 1 1.1 1 .6 1 1.3 1 .8 1-1.6 1-.2 1-1.6 1-.3 1 2.6 1-.5 1-1.4 1 .6 1 2.4 1-.3 1-2.8 1 1.1 1-.7 1-.9 1 1.1 1 .4 1-.3 1 .4 1 1 1-2.8 1-2.1 1 1.3 1 2.9 1 .4 1-1.1 1-.4 1 .6 1 .6 1-.5 1-1.2 1 .8 1 2.1 1-2.3 1 .9 1 1.8 1-2.6 1-2.4 1 1 1 2.3 1-1.2 1-2.2 1 1.6 1 1.1 1-1.5 1 3.1 1 2.4 1-1.7 1-2.4 1-.3 1-1.7 1-.5 1 1.4 1-1.3 1-.8 0 193.2 .7-6.7 1-7.8 1-6.1 1-4.7 1-3.7 1-2.9 1-2.2 1-1.8 1-1.3 1-1.1 1-.7 1-.7 1-.5 1-.2 1-.7 1-.4 1-.3 1 .2 1 .2 1-.3 1 .1 1-.5 1 .1 1-.1 1-.1 1 .7 1-.2 1-.4 1-.1 1 .2 1-.3 1 .4 1-.4 1 .2 1-.1 1 .1 1-.2 1-.1 1 .2 1 0 1 .1 1 .1 1 .4 1-.2 1-.3 1 .3 1-.4" fill="none" stroke="#dc2830" stroke-width="1.4" stroke-linejoin="round"/>
<path d="M419 262.7l4-.3 4-.4 3.5 .3 1 0 1 0 1-7.7 1-6.4 1-6.7 1-6.4 1-5.3 1-4.8 1-4.4 1-3.7 1-4.9 1-5.1 1-3.8 1-4.4 1-4.4 1-4.9 1-3.1 1-1.4 1-1.3 1-2.9 1-3.4 1-3.5 1-1.7 1-.7 1-3.6 1-3.1 1-2.3 1-.7 1-.6 1-2.9 1-1.5 1-1.1 1-2 1-2.7 1-2 1-1.6 1 .3 1 2.1 1-2.8 1-2.7 1 .8 1-1.8 1-1 1-.9 1 0 1-.3 1-1.6 1 .4 1-1 1-2.7 1-.6 1 1.6 1-.2 1-.9 1-1.3 1-.6 1 1.2 1-.5 1 .6 1-.6 1-2.9 1-1.5 1 1.5 1 1.1 1-.5 1 .2 1 .3 1 .4 1-2 1-1.1 1 1.1 1-1.6 1 .1 1 2 1-.6 1-1.5 1-.7 1-1 1-.4 1 .3 1-.1 1-.1 1 .1 1 1.3 1-1.6 1-.3 1-.7 1-2.8 1 1.5 1 1.8 1 .3 1-1.5 1-.6 1 1.5 1 1 1-.3 1-.7 1-.8 1-.8 1 .4 1 .7 1-.5 1-1.5 1 1.3 1 2.3 1-.3 1-1.4 1-.7 1 .7 1 .7 1 .5 1-.3 1-2.4 1-.8 1-.1 1-.7 1 1.9 1 1.8 1-2.3 1 .8 1 1.3 1-2.5 1 .1 1 .7 1-1.1 1-1.7 1 .7 1 1.9 1-2.3 1 .2 1 2.7 1-.9 1-.5 1 .1 1-.9 1-.1 1 1.9 1-1 1-1 1 1.4 1-.9 1-.6 1-.6 1-.4 1 1.2 1 1 1-.8 1 2.3 1 .3 1-2.6 1 .2 1-.5 1 1.4 1-.1 1 0 1 1.4 1-2.2 1-.1 1 .3 1 1.5 1 .2 1-3.3 1-1.4 1-.3 1 1.1 1 .3 1-.6 1 .2 1 .9 1 1.9 1-1.4 1-1.8 1 .6 1-.8 1-.3 1 .5 1 1.7 1 .6 1-1.1 1 .7 1 .7 1-.8 1 .1 1-.6 1 .2 1 1.1 1-.9 1-1.5 1 1.7 1 1.1 1 1.3 1-.6 1-2 1 .2 1-.6 1 1.1 1-.9 1-.9 1 .8 1 .2 1 .4 1 .8 1 .2 1-.7 1-1.1 1-1.3 1-.3 1 .5 1 1.2 1 .2 1-1.8 1 .9 1 .4 1-1.3 1 .5 1 1.1 1-2 1-1.4 1 2.3 1 .6 1-.9 1-.2 1 2 1 .1 1-.6 1 1.1 1-1.1 1-.3 1 0 1-1 1-.6 1 1.3 1 .6 1-1.2 1-.7 1 2.1 1 1.6 0 178.2 .7-6.4 1-7.4 1-5.8 1-4.4 1-3.5 1-2.7 1-2.2 1-1.6 1-1.3 1-1 1-.8 1-.7 1-.7 1 .1 1-.3 1-.7 1 .5 1-.2 1-.6 1 0 1 0 1 .1 1-.1 1-.4 1 .8 1-.4 1 .3 1 0 1-.4 1 .1 1 .1 1 0 1-.2 1-.1 1 .1 1-.2 1 .1 1-.4 1 .5 1-.3 1 .2 1 .1 1 .1 1 .4 1-.4 1-.5 1 .4" fill="none" stroke="#dc2830" stroke-width="1.4" stroke-linejoin="round"/>
<path d="M419 262.2l4 .2 4-.3 3.5 .2 1 0 1 0 1-6 1-5.6 1-4.7 1-4.3 1-4.7 1-5 1-3.9 1-3.6 1-3.4 1-3.6 1-4.3 1-3 1-2.3 1-4.1 1-3.7 1-3.5 1-3 1-2.1 1-2.4 1-2 1-2.2 1-1.9 1-1.6 1-1.7 1-2.6 1-2.8 1-.4 1 .3 1-2.8 1-2.1 1-2.2 1-2.9 1-.3 1 1 1-1.8 1-2.8 1 .9 1-1.9 1-1.7 1 .9 1-1.6 1-1.1 1 1.4 1-1.8 1-3 1-.1 1-1 1-1.5 1 1.2 1 .6 1-3.3 1-1.3 1 1.2 1 .4 1-2 1-.9 1 1 1-.1 1-.3 1-2.2 1 .8 1 1.3 1-.4 1 1.8 1-1.9 1-3.7 1 .6 1 .5 1-1.3 1-1 1 1.5 1 .2 1-2.8 1-.2 1 0 1 .3 1 .4 1-1.2 1 .6 1 .2 1-.1 1 1.4 1-1.1 1-1.7 1 .3 1 1.1 1-.3 1-.8 1-.1 1 0 1 .4 1-1 1-1 1 .5 1-.3 1 0 1 .9 1-.2 1-1.1 1-.7 1 1.9 1 1.3 1-2.6 1-1.5 1 2.4 1 1.9 1-1.5 1-.4 1-1.4 1-1.1 1 1.8 1-1.6 1-1.4 1 2.2 1 1.6 1-1.3 1-.7 1 1.7 1-.6 1-2.5 1 .2 1 .7 1 1.1 1 .4 1-1.8 1 1.9 1 .2 1-1.7 1 .9 1 .2 1-.4 1-.2 1-.3 1-1.7 1-.2 1 1 1 0 1 .2 1-.4 1 1 1 1.8 1-3 1-1.4 1 1.2 1-2.2 1 .9 1 1.6 1-.7 1 0 1 1.2 1 1.6 1-.8 1-.5 1-.3 1-.5 1-.6 1-.1 1 0 1 .2 1 1.3 1-.1 1 .3 1 2 1-2.8 1-2.3 1 1.3 1-.5 1-.7 1 .4 1 1 1-.7 1 0 1 0 1-1.8 1 1.4 1 1.7 1-1.7 1 .5 1 .2 1-2.1 1 1.3 1 .4 1-1 1 1.5 1 1.3 1 .9 1-1 1-1.7 1-.5 1 1.5 1 1.9 1-.5 1-2.1 1 .4 1 .2 1-1.2 1 .1 1 .8 1 .4 1 .4 1 .8 1-.4 1-3.1 1-1.9 1 2.1 1 1.4 1 1.6 1 .1 1-2 1 .8 1 1 1-1 1-.5 1-.8 1-1.2 1 2 1-.4 1-.3 1 1.7 1-.1 1 .2 1-.2 1-2.6 1-1.4 1 1.3 1 1.6 1-.4 1-1.4 1 .6 1 1.7 1-.9 1-2.3 1 1.8 1-.7 1-.3 0 168 .7-5.9 1-6.8 1-5.3 1-4.2 1-3.2 1-2.5 1-1.9 1-1.5 1-1.2 1-1 1-.8 1-.8 1-.2 1-.5 1 .1 1-.2 1 .1 1-.5 1 0 1-.3 1 .1 1 .2 1-.8 1 .7 1-.4 1 .2 1 0 1 .1 1-.1 1-.2 1 .2 1-.1 1 0 1 .1 1 .1 1-.2 1 0 1-.3 1 .3 1-.5 1 .7 1-.4 1 .5 1 .4 1-.8 1 .4 1-.2" fill="none" stroke="#dc2830" stroke-width="1.4" stroke-linejoin="round"/>
<path d="M419 262.2l4-.1 4 .3 3.5-.1 1 0 1 0 1-4.9 1-4.1 1-3.5 1-3.8 1-4 1-3.3 1-3.7 1-3.8 1-3.2 1-3.9 1-2.7 1-1.8 1-2.4 1-3.5 1-3.5 1-1.3 1-1.6 1-2 1-2.8 1-2.8 1-1.9 1-1.8 1-1.7 1-1.6 1-.7 1-1.5 1-3.4 1-1.4 1 .1 1-2.7 1-2.3 1-.5 1-.3 1-1.5 1-2.6 1-.6 1 .2 1 .5 1-2 1-.9 1 1.3 1-2.4 1-.9 1-.9 1-1.3 1-1.4 1-1.3 1-.9 1-1.9 1-.1 1 .1 1 0 1 .9 1-1.1 1-1.4 1-.3 1-1.8 1-.4 1 .8 1-.6 1-1.3 1-1.9 1 .3 1 1.4 1 .8 1 .3 1-.3 1-.9 1-.5 1-.8 1-.7 1 .6 1 1.4 1-.8 1-3.4 1 .7 1 .1 1-1.3 1 .1 1-.9 1 1.1 1 1 1-1.7 1-.6 1-.1 1 .3 1-.1 1-1.3 1-.4 1 .1 1 .6 1-.5 1-.4 1 .9 1 1.8 1 .2 1-4.3 1-1.3 1 2 1 .5 1 1.5 1 .2 1-3.2 1-.4 1 1.8 1 0 1 .9 1-1.3 1-.3 1-.5 1-.9 1 1.5 1 1.7 1-.9 1-3.3 1 1 1 .8 1 .6 1-.1 1-2 1 1.5 1 .7 1-.2 1-1.3 1 .4 1 .7 1-.8 1-.4 1-1.9 1 .5 1 1.4 1 1.4 1 .1 1-.8 1 .2 1 1.9 1-1.2 1-1.5 1 .5 1-.9 1-.4 1 .7 1-.6 1-2 1 .8 1 .1 1 .7 1 1.6 1-1.2 1-.1 1 0 1-.7 1 .5 1 1.5 1 0 1-2.3 1-.8 1 1.7 1-.6 1-1.4 1 1 1-1.6 1-.1 1 2.7 1 .6 1-1.6 1 .4 1 1.1 1 1 1-1 1-2 1 .6 1 .2 1 0 1 0 1-.6 1-1.3 1 .1 1 .2 1-.5 1 .7 1 1.2 1 1.1 1-1.2 1-.5 1 1.5 1-.3 1-2 1-1.8 1 2 1 2.4 1-.4 1-1.6 1 .9 1 1.8 1-1.2 1-1.2 1-1.5 1 .7 1 .3 1-.1 1 1.9 1-.5 1 .7 1-.4 1-.8 1 .9 1-.3 1-1 1 .8 1 .6 1-1.1 1-.5 1 .2 1 2 1 0 1-2.1 1-1 1-.8 1-.6 1 1.1 1 1.6 1-1.1 1-1.2 1 .5 1 .8 1-.8 1 .6 1 1.2 1-.3 1 .5 1-.5 1 .5 1-.3 1-.7 0 150.3 .7-5.3 1-6.1 1-4.8 1-3.7 1-2.9 1-2.3 1-1.7 1-1.4 1-1 1-.9 1-.5 1-.7 1-.2 1-.8 1-.2 1 .1 1-.3 1 .2 1-.2 1 .1 1-.1 1-.1 1-.1 1-.1 1-.1 1 .7 1-1 1 .4 1 .3 1-.2 1 .3 1-.3 1-.4 1 .2 1-.3 1 .6 1 .2 1-.5 1 .2 1-.2 1-.3 1 .3 1-.3 1 .2 1 .2 1 .2 1 .1" fill="none" stroke="#dc2830" stroke-width="1.4" stroke-linejoin="round"/>
<path d="M419 262.2l4 .1 4 .1 3.5-.1 1 0 1 0 1-3.4 1-3.4 1-3.3 1-2.6 1-3.6 1-3.3 1-2 1-2.6 1-3.3 1-2.4 1-2 1-2.2 1-1.8 1-2.8 1-2.2 1-2.1 1-2.4 1-2.4 1-1.6 1-.5 1-1.5 1-2.1 1-2 1-1.9 1-.7 1-2 1-.6 1-.5 1-1.2 1-.5 1-2.8 1-1.5 1-.7 1-1.2 1-.8 1-1.6 1-1.9 1-.9 1-1.4 1-.8 1 .2 1-.5 1-.9 1-1.2 1-.4 1-1.8 1-1.5 1 .5 1 .2 1 0 1-.7 1-1 1-.5 1-1.3 1-1.1 1-1.3 1 .6 1 2.1 1-2.1 1-2.2 1-1.5 1-.9 1 1.1 1 .6 1-1.5 1-.7 1 .3 1 .3 1 .6 1-.8 1-.7 1-.2 1-1.9 1-.2 1 1.2 1 .2 1-1.6 1-.3 1 .7 1-.6 1 1.1 1-1.5 1-2.1 1 1.6 1-.1 1-1.6 1 1.1 1 .3 1 0 1 .2 1-.8 1 .3 1 1.5 1-1 1-.6 1 .7 1-1.1 1-.7 1-.9 1-.9 1 .7 1 .3 1 .7 1-1.1 1-1.3 1 .4 1 0 1 1.2 1-.9 1-.3 1 .3 1-.9 1 1.1 1-.1 1-.3 1 .2 1-.7 1-.5 1-1.2 1-.4 1 1.4 1 .6 1-1.3 1 .5 1 1.5 1-1.8 1-1.3 1 1.3 1-.6 1-1 1 1.2 1 .4 1 0 1 .3 1-.6 1-.7 1 2.1 1-.8 1-1.9 1 1.1 1-.2 1 .8 1 .5 1-.4 1-2.1 1 .3 1 2.8 1-1.5 1 .1 1 .7 1-.3 1 1.1 1-.6 1-2.2 1-.1 1-.3 1-.6 1 .4 1 0 1 1.4 1 1.2 1-1.6 1 .2 1-.6 1-1.4 1 1.1 1 1.4 1 .6 1-.6 1 .5 1 .1 1 .1 1-1.2 1-2.4 1 .3 1 1.9 1 .5 1 0 1 .3 1-.3 1 .1 1-1 1 .2 1-.2 1-1 1-.3 1 .4 1-.1 1 .7 1 .1 1-.9 1 .9 1-.9 1 1.1 1 .3 1 .2 1-.5 1-1.8 1-.7 1 1 1 2.2 1-.3 1-.8 1-.9 1 1.9 1 1.3 1-3.3 1-.8 1-.6 1 1.5 1 3.5 1-.2 1-1.5 1-1.6 1-1.1 1 .9 1 .5 1-.7 1 0 1 .1 1 1.1 1 1.6 1-.6 1-1.3 1-1 1-1 1 .1 1 1.6 1 1 1 0 1 .2 1-1.1 1-1.3 1 0 1-.1 0 134.8 .7-4.7 1-5.5 1-4.2 1-3.3 1-2.6 1-2 1-1.6 1-1.2 1-1 1-.7 1-.1 1-.9 1-.5 1 .3 1-.8 1 .1 1-.3 1 0 1-.2 1 .1 1 .2 1-.7 1-.3 1 .9 1-.3 1 .2 1-.3 1 .4 1 .1 1-.8 1 .5 1-.4 1-.2 1 .3 1 .2 1-.5 1 .1 1 .6 1-.3 1 .1 1-.4 1 .1 1 .2 1 0 1 0 1 .4 1-.4" fill="none" stroke="#dc2830" stroke-width="1.4" stroke-linejoin="round"/>
<path d="M419 261.9l4 .2 4 .2 3.5 0 1 0 1 0 1-2.7 1-2.7 1-2.7 1-2.4 1-1.9 1-2.1 1-2.6 1-2.2 1-2.4 1-1.8 1-1.2 1-2.2 1-2.8 1-1.1 1-2.3 1-3.1 1-.7 1-.9 1-1.8 1-1.7 1-.8 1-1.7 1-.9 1-.4 1-1.5 1-2.2 1-2.6 1-.3 1 0 1-3 1-.8 1 .8 1-1.2 1-2.4 1 .4 1 .1 1-2 1-.6 1-2.4 1-1.5 1 .4 1 .7 1-1 1-2.5 1-1.2 1-.9 1 .1 1 0 1-.6 1 .5 1-.1 1-1.5 1 0 1-.5 1-1.8 1-1.9 1 .1 1-.1 1 .2 1-.4 1-2.8 1 .1 1 1.8 1-.6 1-1 1-.2 1 .7 1-.3 1-1.5 1-1 1-1.4 1 1.1 1 1.5 1-1.9 1-.6 1 .5 1-.9 1-.7 1 .5 1-.9 1-1.1 1 .5 1 .1 1-.3 1-.1 1 .3 1-1 1-.5 1 .1 1 .8 1-.9 1-1.4 1 1.3 1-.2 1-.9 1-.3 1 .3 1-.6 1-.5 1 .6 1-1.1 1 .1 1 .6 1-.1 1 .8 1-.1 1-1.6 1-.1 1-.4 1-.9 1 2.2 1 .4 1-.1 1-.3 1-1.2 1-.7 1 .5 1 .6 1-.3 1 .3 1-.1 1-.2 1-.5 1-.3 1-.5 1-1.6 1 .8 1 2.9 1 .4 1 .1 1-.5 1-2.4 1-1.2 1 1.2 1 .9 1-.7 1 .2 1-.6 1-.2 1 .4 1-.3 1 1 1-.3 1 .1 1 1 1-1.6 1 .7 1-.4 1-1.8 1 1.4 1-1.6 1 .2 1 2.4 1-.9 1-.6 1 .2 1-.4 1 .6 1-.2 1-.8 1 .5 1 .6 1 .5 1-1.8 1-2.3 1 1 1 1.4 1-.7 1 .2 1 1.2 1 0 1 .7 1-1 1-1.2 1 2.1 1 .4 1-2.2 1-.4 1 1.7 1 1.3 1-.4 1-.7 1-1.3 1-1 1 1.6 1-.5 1-1 1-.6 1 1.1 1 1.2 1-.7 1-1 1-1.4 1 2.4 1 .7 1-1.8 1 .7 1 .7 1-1.8 1-1.1 1 1.4 1 .7 1 .2 1-.3 1-.5 1 .5 1-.3 1-.8 1 .1 1 .6 1 .2 1-.3 1-.1 1 .3 1 .4 1 .3 1-1.2 1 .4 1-.2 1-.4 1 .7 1 0 1 1.3 1-1.8 1-.4 1 1.6 1-.8 1 0 1 0 1-.2 1-.4 1 .5 1 1.1 1 0 1-.9 0 118 .7-4.1 1-4.9 1-3.7 1-3 1-2.3 1-1.7 1-1.4 1-1.1 1-.8 1-.7 1 0 1-.4 1-.8 1-.4 1-.1 1 .1 1 0 1-.6 1-.4 1 .6 1-.2 1 .1 1 0 1-.4 1 .3 1-.1 1 .1 1 .2 1-.3 1-.2 1 .5 1-.1 1-.3 1-.4 1 .3 1 .2 1 .1 1-.2 1 .2 1-.3 1 .1 1 .2 1-.2 1 .1 1 .2 1 .1 1-.5" fill="none" stroke="#dc2830" stroke-width="1.4" stroke-linejoin="round"/>
<path d="M419 262.2l4-.2 4 0 3.5 .3 1 0 1 0 1-2 1-1.7 1-1.9 1-1.5 1-1.5 1-1.8 1-2.2 1-1.4 1-1.1 1-2.1 1-2 1-.5 1-.6 1-1.7 1-1.1 1-1.4 1-2 1-.9 1-.2 1-1.2 1-.9 1-.5 1-2 1-2 1-.3 1-.7 1-1.3 1-.5 1-.7 1-1.5 1-1.2 1-.9 1-1 1-1 1-1.7 1-.5 1 0 1 0 1 .4 1-1.2 1-1.2 1-1 1-1.4 1-.4 1-.3 1-.3 1-.3 1 .2 1-.8 1-2.3 1-.3 1 0 1-.5 1 .5 1-.9 1-1.1 1 .2 1-1 1-.6 1 .5 1-.1 1-.1 1-.5 1-.8 1-1.5 1-2.1 1-.1 1 2 1 .3 1-2.5 1-.6 1 1.2 1-1.1 1-.2 1 .1 1 0 1 .5 1 .9 1-1.1 1-1.9 1-.3 1 .2 1 .8 1-.4 1-.2 1-1.5 1-.7 1-.3 1-.4 1 .6 1 1.1 1 .3 1-.5 1-1.1 1-.2 1-.3 1-.4 1 .9 1-.4 1-1 1-.3 1 .5 1-.1 1-1.4 1-.2 1 .1 1 1.1 1 .5 1-2 1 .1 1 1.2 1-.1 1-.7 1-.3 1 .3 1 .4 1 0 1 .6 1-.4 1-.6 1 .1 1-2.2 1-.8 1-.2 1-.4 1 1.8 1 .6 1-.5 1-.2 1-.5 1-.2 1 .5 1 .5 1-1 1 0 1 1.6 1 .4 1-1 1-1.1 1-1 1 .9 1-.8 1 .6 1 1.3 1-1 1-.3 1-.2 1-.3 1 1 1 .7 1-.1 1-.7 1-1.4 1 1 1-.2 1-1.3 1 1.1 1 1.1 1-1.4 1-.9 1 .8 1 .1 1-.6 1 .5 1 .1 1-.6 1-1.1 1 0 1 .2 1 .5 1 1.5 1-.8 1-.3 1 .4 1-.2 1 .1 1 0 1-.6 1-.4 1 1.3 1 .6 1-1.1 1 .3 1-.2 1-.8 1 .7 1 .9 1-.1 1-1.6 1-.4 1 .9 1 .2 1-.6 1-.9 1 .4 1 .1 1-.6 1 .5 1 1.2 1 .2 1 .1 1-.8 1-.3 1 .6 1-1 1-.3 1 0 1 .1 1 .1 1 .9 1 .3 1-1.8 1 .1 1 1.1 1 0 1 .2 1-.4 1-1.1 1 1.6 1 .6 1-.7 1 .3 1 0 1-.3 1-.5 1 .6 1-.2 1-.6 1 .7 1-.3 1-1.4 1 .5 1 1.7 1-.2 1-1.8 0 97.4 .7-3.4 1-4 1-3.1 1-2.4 1-1.8 1-1.5 1-1.1 1-.9 1-.7 1-.5 1-.3 1 0 1-1.1 1-.5 1 .5 1-.1 1 .1 1 0 1-.3 1 .1 1-.1 1-.1 1 0 1-.1 1 .2 1-.1 1-.2 1 .4 1-.5 1 .2 1 0 1-.5 1 .4 1 .3 1 0 1-.5 1 .1 1-.1 1 .2 1 .1 1-.4 1 .5 1-.1 1 0 1-.2 1 .2 1-.4" fill="none" stroke="#dc2830" stroke-width="1.4" stroke-linejoin="round"/>
<path d="M419 262.4l4 0 4-.1 3.5 0 1 0 1 0 1-1.2 1-1.3 1-.9 1-1.6 1-1 1-.5 1-1 1-1.1 1-1.3 1-1.1 1-.7 1-.5 1-1.2 1-1.3 1-.5 1-1.4 1-.9 1-.3 1-1.6 1-.5 1-.4 1-.7 1 0 1-1.4 1-1.6 1-.3 1-.9 1-.4 1 .1 1-.6 1-1.4 1-.9 1 .3 1-1.4 1-.4 1-.4 1-.8 1-.5 1-.3 1 .7 1-.8 1-1.2 1 .1 1-.7 1-1 1 .1 1-.3 1-.1 1-.1 1-.3 1-.9 1-.8 1-.7 1-.5 1 .8 1 .3 1-1.7 1-1.5 1 .5 1-.6 1-.5 1 .4 1-.8 1-.9 1-.5 1 .1 1 .8 1-.3 1 .4 1-1.1 1-1.9 1 .8 1-.6 1-.4 1 .7 1-.3 1-.8 1 .2 1 .1 1-.4 1-.1 1-.9 1-1.1 1 0 1 .4 1-.1 1 .2 1 0 1-.2 1-.2 1-1.1 1 .2 1 .5 1-1.1 1-.6 1 1.7 1-1.7 1-1 1 1.6 1-.8 1-.3 1-.4 1 1.3 1-.1 1-1.6 1 .5 1 .3 1-.7 1-.5 1-.7 1 .6 1 0 1-2 1 1.1 1 1.5 1-.5 1-.7 1 .3 1-.4 1-1.9 1 .5 1 1.5 1 .2 1 .6 1 0 1-1.3 1-.7 1 .6 1-.1 1-.6 1-1 1-.2 1 .2 1 .2 1 .7 1 .2 1 .8 1-.5 1-.3 1-.6 1-.8 1 1.1 1 .9 1-1.2 1-1.2 1 .6 1 0 1-.6 1-1 1-.2 1 .8 1-.1 1 1 1 1.4 1-2.1 1-1 1 1.7 1 1 1-.1 1-1.7 1-.8 1 1.4 1 .2 1-1 1 .2 1 .8 1-.3 1-.4 1 .5 1-.5 1-1.2 1 .7 1-.2 1-.2 1 .3 1 .1 1-.3 1 .2 1 .7 1-.8 1-.7 1 .1 1-.1 1-.6 1 1.1 1 1 1 0 1-1.1 1-1.8 1-.2 1 1.5 1 1.3 1-1.5 1 .1 1 .8 1-1.3 1 .2 1 1 1-.1 1-.5 1-.3 1-.8 1 .3 1-.2 1 .6 1 .4 1 .4 1-.5 1 .1 1 .3 1-1.3 1 .7 1 1 1-.2 1-.8 1 1.2 1 .4 1-1.8 1-.4 1 1.6 1 .3 1-.5 1 1 1-.9 1-.9 1-.1 1-.2 1 .7 1-.8 1-.2 1 .8 1 .5 1-.4 1-1.4 1 .6 0 73.8 .7-2.6 1-3 1-2.3 1-1.9 1-1.4 1-1.1 1-.9 1-.6 1-.6 1-.4 1-.6 1 .1 1-.1 1-.5 1 .1 1-.3 1-.6 1 .3 1-.2 1 .5 1-.3 1 .2 1 0 1 .3 1-.4 1 0 1 .2 1 .3 1-.4 1 .1 1-.1 1-.2 1-.2 1 .4 1-.1 1 0 1 .6 1-.6 1 .2 1-.2 1 .4 1-.4 1 .6 1-.6 1 .3 1 .1 1-.4" fill="none" stroke="#dc2830" stroke-width="1.4" stroke-linejoin="round"/>
<path d="M419 262.5l4-.2 4-.2 3.5 .2 1 0 1 0 1-.7 1-.8 1-.7 1-.8 1-.7 1-.9 1-.5 1-.6 1-.8 1-.3 1-.5 1-1 1-.9 1-.5 1-.1 1-.4 1-.9 1-.4 1-.2 1-.5 1-.8 1-1.1 1-.9 1-.4 1-.1 1-.1 1-.3 1-.8 1-.3 1-.7 1-1 1-.5 1-.4 1-.1 1-.4 1-.6 1 .4 1-.7 1-1.2 1 .1 1 .1 1-.1 1-.6 1-.7 1-.3 1 .1 1-.6 1-1.5 1 .1 1 .1 1-.4 1 .7 1-.3 1-.1 1-.9 1-1 1 .5 1 0 1-.7 1-.6 1 .1 1-.3 1-.8 1-1 1 .5 1 .6 1-.4 1-.1 1 .2 1-1 1-.4 1 .9 1-.1 1-.6 1-.3 1-1.1 1-.7 1 .9 1 .6 1-.4 1-1 1-.4 1 .3 1 .8 1-.2 1-1.3 1-.2 1 .2 1 .7 1-.1 1-1.2 1-.5 1-.7 1-.6 1 .2 1 0 1 .1 1 .3 1 .2 1 .5 1-.5 1-.9 1-1 1 .1 1 1 1-.6 1-.6 1-.1 1 .5 1 .5 1 0 1-1 1 .6 1 0 1-1.8 1 .4 1 .1 1 .7 1 0 1-1.3 1 .5 1 .8 1-.9 1-.9 1 .2 1 0 1 .9 1 .6 1-.4 1-.1 1-.6 1-.2 1-.2 1-.8 1 .7 1-.5 1-.9 1 .5 1-.8 1 0 1 .7 1 .4 1-.5 1 0 1 .5 1 0 1-1.1 1-.7 1 .6 1 .4 1-.1 1-.6 1-.3 1-.3 1 0 1 1 1-.1 1-1.7 1 .6 1 .9 1 .1 1 .4 1-.5 1-.5 1-.2 1 .2 1-.2 1 .1 1 1 1-.5 1-1 1 0 1 .6 1 .5 1 .4 1 0 1-.7 1-.1 1-.8 1 0 1 .7 1 .7 1 .6 1-1.5 1-.9 1 .8 1-.8 1-.9 1 1.1 1 .8 1-.1 1 .2 1-.3 1-.5 1 0 1-.6 1 .1 1 .2 1 0 1-1 1 0 1 .9 1-.3 1 .2 1 .1 1 .4 1 .8 1 0 1-.2 1-.3 1-.5 1-.8 1-.2 1 1.2 1 .5 1-.8 1-.4 1 .8 1-.2 1 .3 1-.3 1-.5 1 .7 1-.3 1-.2 1 .2 1-1.3 1-.1 1 1.7 1 0 1-.1 1-.8 1-.6 1 .8 1-.1 0 55.2 .7-2 1-2.2 1-1.8 1-1.4 1-1.1 1-.8 1-.7 1-.5 1-.4 1-.3 1 0 1-.3 1-.4 1 .2 1-.1 1-.4 1 .2 1-.1 1 0 1-.4 1 .6 1-.2 1-.2 1 .1 1 0 1-.2 1 0 1 .1 1-.1 1 0 1-.2 1 .2 1 .4 1-.2 1-.1 1-.1 1 0 1-.3 1 .8 1-.6 1-.2 1 .5 1 0 1-.2 1-.3 1 .1 1 .7" fill="none" stroke="#dc2830" stroke-width="1.4" stroke-linejoin="round"/>
<path d="M419 262.3l4-.2 4 .7 3.5-.5 1 0 1 0 1-.3 1-.3 1-.5 1-.5 1-.4 1-.3 1-.3 1-.4 1-.4 1-.1 1 0 1-.4 1-.7 1-.3 1-.2 1-.4 1 .2 1-.1 1-.6 1-.2 1-.9 1-.6 1-.1 1-.1 1-.3 1-.3 1 .3 1 .5 1-1.2 1-.6 1 .4 1-.4 1-.6 1 .1 1 0 1-.8 1-.1 1 0 1 0 1-.4 1-1.2 1 0 1 .7 1-.1 1-.4 1-.6 1 0 1-.5 1-.2 1 0 1-.6 1-.2 1-.2 1 .6 1-.3 1-.5 1-.1 1 .1 1-.3 1-.5 1 .5 1 .6 1-.8 1-1.1 1 .2 1 .6 1-.5 1-.3 1 0 1-.8 1-.4 1 .2 1 .7 1-.2 1-1.1 1-.3 1 .9 1 .3 1-.3 1 0 1-.6 1-1 1 1.1 1 .5 1-.9 1-.5 1-.9 1 .3 1 .1 1-1 1 .5 1 1.1 1-.2 1-.5 1-.1 1-.1 1-.5 1 .5 1 .1 1-.6 1-.4 1 .3 1 .7 1 0 1-.4 1-.4 1 .1 1-.5 1 .4 1-.3 1-.3 1 .9 1 .3 1-.4 1-.5 1-.8 1 .3 1 0 1-.1 1 .1 1-.5 1 0 1 .2 1-.2 1-.3 1 0 1 0 1 .2 1 0 1-.5 1-.1 1 .3 1 0 1 0 1-.7 1 .2 1 .1 1-.2 1-.6 1 0 1 1 1-.6 1-.1 1 .2 1 .2 1 .4 1-1 1-.4 1-.2 1-.1 1 .8 1 .4 1-.3 1-.4 1 0 1-.1 1 0 1 .6 1-.1 1-.1 1-.4 1-.6 1 .4 1 .9 1 .2 1-.1 1-.4 1-.2 1-.7 1-.3 1-.2 1 .3 1 .9 1-.1 1 0 1-.7 1-.4 1 .2 1 .8 1 .2 1-.8 1-.5 1-.1 1 .1 1 .2 1-.1 1 0 1-.4 1 .5 1 .7 1-.1 1 0 1-.6 1-.1 1 .1 1-.3 1-.2 1 .9 1 .5 1-.9 1-.2 1-.2 1 .3 1 0 1-.2 1 .3 1-.3 1-.3 1-.2 1 0 1-.2 1 .4 1 1.3 1-.3 1-.6 1 .1 1-.7 1 .5 1 .5 1-.1 1-.2 1-.4 1-.4 1-.1 1 .9 1-.8 1-.5 1 1.4 1 .2 1-.3 1-.4 1 .1 1 .5 1-.4 1 .2 0 31.7 .7-1.2 1-1.3 1-1.1 1-.8 1-.7 1-.4 1-.4 1-.3 1-.3 1-.2 1-.2 1-.6 1 .5 1-.1 1-.2 1 0 1 0 1-.4 1 .8 1-.3 1 .6 1-.7 1 .1 1-.5 1 .7 1-.6 1 .5 1 0 1 0 1-.4 1 0 1 .4 1 .1 1 .1 1-.4 1 0 1 .5 1-.6 1 .3 1-.3 1-.3 1 .1 1 .4 1 0 1 0 1-.2 1 0" fill="none" stroke="#dc2830" stroke-width="1.4" stroke-linejoin="round"/>
<path d="M419 262.4l4-.1 4-.4 3.5 .4 1 0 1 0 1-.2 1-.1 1-.1 1-.2 1-.2 1-.1 1-.1 1-.2 1-.1 1 0 1-.1 1-.2 1-.2 1-.4 1-.1 1 .2 1 0 1-.1 1-.3 1-.3 1 .1 1 0 1-.2 1-.2 1-.3 1 .1 1 .1 1-.3 1-.2 1-.1 1 0 1 .2 1 .1 1 0 1-.5 1-.3 1-.1 1-.1 1 .1 1-.1 1-.2 1-.3 1 0 1 .1 1-.1 1 .1 1-.2 1-.1 1-.2 1 0 1 0 1-.4 1-.1 1-.2 1-.2 1 .2 1 0 1 0 1-.2 1-.1 1-.3 1-.1 1 .5 1 0 1 .1 1-.3 1-.3 1-.1 1-.1 1 0 1 .3 1-.4 1-.4 1 .3 1-.2 1 0 1-.1 1-.2 1-.1 1 0 1 .1 1 .1 1 0 1-.4 1-.1 1 .2 1 .1 1-.2 1-.1 1 0 1 .2 1-.2 1-.1 1-.2 1 .1 1 .3 1-.3 1-.2 1-.4 1 .1 1 .2 1-.3 1-.1 1 .4 1 .1 1-.1 1-.2 1 .1 1 0 1 0 1 .5 1-.7 1-.7 1 .5 1-.1 1 .2 1 0 1 .1 1 .2 1-.3 1-.2 1 .1 1 .1 1 .1 1-.1 1-.1 1 0 1-.2 1-.5 1-.1 1 .4 1-.3 1-.4 1 .1 1 .4 1-.3 1-.1 1 .6 1-.1 1-.2 1 .1 1-.2 1 0 1 .2 1-.4 1 0 1 .4 1-.4 1 0 1 .2 1-.6 1-.2 1 .1 1 .4 1 0 1-.2 1-.2 1 .1 1-.1 1-.2 1 .5 1 .3 1-.3 1-.2 1 .2 1 0 1 .2 1 .3 1-.4 1-.6 1 0 1 .6 1 .3 1-.1 1 0 1-.4 1-.3 1 .4 1 0 1-.1 1-.3 1-.5 1 .7 1 .5 1-.4 1 .2 1 .3 1 .4 1-1.2 1-.6 1 .8 1-.6 1-.7 1 .5 1 .8 1 .3 1 .1 1-.2 1-.3 1 .3 1-.2 1-.4 1-.1 1-.9 1 .1 1 .4 1-.3 1 .6 1 .3 1-.7 1 .1 1 .6 1-.1 1 0 1 .1 1-.6 1-.2 1 .3 1-.2 1 0 1 .1 1 0 1 0 1 .2 1 .8 1-.4 1-.6 1 .2 1 .1 1-.1 1-.7 1 .1 1 .6 1-.4 1 0 0 15 .7-.6 1-.6 1-.5 1-.4 1-.3 1-.2 1-.2 1-.1 1-.1 1-.1 1-.2 1 .1 1-.1 1-.1 1 .1 1 0 1 0 1 .2 1-.2 1-.3 1 .6 1-.4 1 .4 1-.7 1 .4 1 .3 1-.1 1-.3 1-.1 1-.1 1 .1 1-.1 1 0 1-.1 1 0 1 .4 1-.5 1 .4 1 .2 1-.4 1 0 1 .2 1 0 1 .2 1-.7 1 .5 1 .3" fill="none" stroke="#dc2830" stroke-width="1.4" stroke-linejoin="round"/>
<path d="M419 262.3l4 .4 4 .1 3.5-.5 1 0 1 0 1 0 1-.1 1 0 1-.1 1 0 1 0 1 0 1-.1 1-.1 1 0 1-.1 1-.1 1 .1 1-.2 1 .1 1 .1 1-.1 1-.2 1 0 1-.1 1 0 1 0 1-.1 1 .1 1 .1 1-.2 1 0 1 0 1 0 1 .1 1-.1 1-.1 1-.1 1-.1 1-.2 1 .1 1 .1 1 .1 1-.1 1-.3 1 0 1 .2 1-.1 1-.1 1-.1 1 .1 1 .1 1 0 1 0 1-.2 1-.1 1 .1 1 .1 1 0 1-.2 1 0 1 0 1-.2 1 0 1 .2 1 .1 1-.3 1-.1 1 0 1 .1 1 .2 1-.1 1-.1 1-.3 1-.1 1 .1 1 0 1-.1 1 .3 1 0 1-.2 1-.1 1 0 1 .3 1 0 1 0 1 .1 1-.3 1-.2 1 .2 1 0 1 .1 1 0 1 0 1 0 1-.1 1-.1 1-.1 1-.1 1 .1 1 0 1-.1 1 .1 1 0 1 .2 1 .1 1-.2 1-.2 1 0 1 .1 1-.1 1-.2 1 0 1 .2 1-.2 1-.1 1 0 1-.1 1 0 1 .3 1 0 1 .1 1-.1 1-.2 1 .3 1 0 1 0 1-.4 1 0 1 .4 1-.2 1-.4 1 .1 1 .2 1-.2 1 .3 1 .2 1-.2 1-.2 1 .1 1 .3 1-.3 1-.3 1 .1 1-.1 1 .2 1 .2 1-.3 1 0 1-.2 1-.1 1 .2 1-.2 1 0 1 .2 1-.1 1-.1 1 0 1 0 1 0 1 0 1 .4 1 0 1 .1 1-.1 1-.2 1 0 1-.1 1-.3 1-.1 1 .1 1 .2 1 0 1-.1 1 .2 1 .1 1 .2 1-.1 1-.4 1 .2 1 .1 1-.2 1 .1 1 .1 1-.1 1-.1 1-.1 1 .1 1 0 1-.1 1 0 1 .3 1 .2 1-.2 1-.2 1-.1 1 .1 1 .2 1-.1 1-.2 1-.1 1 .3 1-.1 1 .2 1-.1 1-.2 1 0 1-.1 1 .1 1 .2 1-.3 1 .1 1 .3 1 0 1 0 1-.1 1-.2 1-.2 1 .1 1 .2 1-.1 1 0 1-.1 1 .1 1 .1 1-.1 1-.1 1 .1 1 .1 1-.2 1 0 1 0 1 .1 1-.2 1-.3 1 .5 1 .1 1-.2 1 0 1-.1 0 4.8 .7-.2 1-.2 1-.1 1-.2 1-.1 1 0 1-.1 1 0 1-.1 1 0 1 .7 1-1.2 1 .6 1-.1 1 0 1-.3 1 0 1 .6 1-.2 1-.5 1 .3 1-.3 1 1 1-.6 1-.5 1 .7 1-.1 1-.1 1 0 1-.2 1 .1 1-.5 1 .8 1 .2 1-.4 1 .1 1-.5 1 .2 1-.2 1 0 1 .5 1 .2 1-.4 1 .6 1-.4 1-.7 1 .4" fill="none" stroke="#dc2830" stroke-width="1.4" stroke-linejoin="round"/>
<path d="M419 262.6l4-.2 4 .2 3.5-.3 1 0 1 0 1 0 1 0 1 0 1-.1 1 0 1 0 1 0 1 0 1 0 1-.1 1 .1 1 0 1-.1 1 .1 1-.1 1 0 1 0 1 0 1 0 1 .1 1-.1 1-.1 1 0 1 0 1 0 1-.1 1 .1 1-.1 1 0 1 0 1 0 1 0 1 .1 1-.1 1 0 1 0 1 0 1 0 1-.2 1-.2 1 .1 1 .1 1 0 1 0 1 0 1 .1 1 0 1-.1 1 .1 1 0 1 .1 1-.1 1 0 1 0 1-.1 1 0 1 .1 1-.1 1 0 1 0 1 0 1 0 1-.2 1 0 1 .2 1 .1 1 0 1-.1 1-.1 1-.1 1 0 1 .2 1 0 1 0 1-.1 1-.1 1 0 1 0 1 .1 1-.1 1 0 1-.1 1 0 1 .1 1-.1 1 .1 1 .1 1-.1 1 0 1 .2 1 0 1-.1 1-.1 1 0 1 0 1-.2 1 .1 1 0 1 0 1 .1 1-.1 1-.3 1 .1 1 .3 1 .1 1-.1 1-.1 1 0 1 0 1 0 1-.1 1-.1 1 .1 1 .1 1-.1 1 .1 1 0 1-.1 1 0 1 .1 1 0 1-.1 1 0 1-.1 1 0 1 0 1 .1 1 0 1-.2 1 .1 1 .1 1 0 1-.2 1 .1 1 .1 1-.1 1 0 1 0 1-.1 1 .1 1 0 1 0 1 .2 1 .1 1 0 1-.1 1-.3 1 0 1 .1 1-.1 1 .1 1 0 1 .1 1 0 1-.3 1 0 1 .1 1 .1 1 .1 1 0 1 0 1-.1 1-.2 1 0 1 .1 1 0 1 0 1 .1 1 0 1 .1 1-.1 1-.1 1 .1 1 0 1 0 1-.1 1-.1 1 0 1-.1 1 .2 1 0 1 0 1 .3 1-.1 1-.2 1 0 1-.2 1 0 1 .3 1-.1 1-.2 1 .1 1-.1 1 .1 1 .1 1 0 1 0 1-.2 1 0 1 .2 1 0 1 0 1 0 1-.2 1 0 1 0 1-.2 1 .2 1 0 1 0 1 .1 1 0 1 0 1 .3 1 0 1-.3 1-.2 1 .1 1 .3 1 0 1-.3 1 0 1 .1 1 .2 1-.1 1-.1 1 0 1 0 1-.1 1-.1 1 0 1 .1 1 0 1 0 1 0 0 1.8 .7 0 1-.1 1-.1 1 0 1-.1 1 0 1 0 1 0 1-.1 1 0 1 .2 1 .1 1-.2 1-.3 1 .2 1 .2 1-.2 1 .2 1-.6 1 .3 1 .5 1-.2 1-.2 1 0 1 .5 1-.2 1-.5 1 .3 1-.2 1-.1 1-.1 1 .5 1 .4 1-.4 1-.5 1 .4 1-.5 1 .5 1 .2 1 .1 1-.4 1 .1 1-.1 1 0 1 .4 1-.6 1-.2" fill="none" stroke="#dc2830" stroke-width="1.4" stroke-linejoin="round"/>
<line x1="419.0" y1="262.3" x2="715.0" y2="262.3" stroke="#dc2830" stroke-width="2.4"/>
<line x1="430.0" y1="252.0" x2="430.0" y2="265.0" stroke="#dc2830" stroke-width="1.4"/>
<line x1="667.5" y1="110.0" x2="667.5" y2="306.0" stroke="#dc2830" stroke-width="1.4"/>
<path d="M72 440.8l4-1.1 4 .7 3.8-.1 1-16.6 1-11.7 1-9.9 1-4.6 1-4.9 1 .9 1-5.2 1-2.2 1-1.1 1-1.3 1-1 1 .3 1 .6 1-1 1 1.1 1-1.4 1 .1 1 1.6 1-1.2 1-1.1 1 .3 1 .7 1 1.4 1-2.3 1 0 1 1.3 1-2.1 1 .7 1 1.2 1-.4 1-.5 1 .6 1-3.7 1 4 1-2.1 1-.8 1 2.1 1 .4 1-1.2 1-.7 1 1.1 1-.1 1 1.5 1-.7 1-.6 1 1 1-1.5 1-.7 1 1.5 1 0 1-.8 1-.7 1 1.1 1-2.9 1 3.3 1-.2 1-2.3 1 1.8 1-1.1 1 1.8 1-3 1 1.2 1 1.7 1 .5 1-3.6 1 1.8 1 .8 1-1 1 2.4 1-3 1 1.6 1-1.5 1 2.6 1-1.6 1-.4 1-1.4 1 3.6 1-1 1 0 1 .4 1-.9 1-1.1 1-.1 1-.1 1 2.3 1-3 1 .9 1 .3 1 .6 1 .3 1-2 1-.5 1 1.8 1 1.3 1-.5 1-.6 1-.6 1 .7 1-.6 1 1.1 1-1.7 1 1 1-.3 1 .7 1-.4 1 2.5 1-1.2 1 0 1-3.8 1 1.8 1-.3 1 1.2 1-3 1 3.7 1-.1 1-2.6 1 .3 1 .2 1 .9 1 .6 1 1.5 1-2.4 1 1 1-.6 1 1.7 1-1.1 1 .6 1-2.6 1 .9 1-.7 1 2.5 1-.9 1-1 1-.2 1 1 1-1.3 1-.3 1 1.5 1 2.2 1-3 1-.3 1-.7 1-.2 1 2 1 .3 1-.9 1 .4 1-.3 1 0 1-1.8 1 1.2 1 .6 1-1 1 .3 1-.4 1 .5 1 1.3 1-1.4 1 .3 1 1 1-.2 1 1.2 1-4.1 1 3.1 1-1.4 1 .6 1 .8 1 .2 1 0 1-1 1 1.6 1-2.1 1 .2 1 1 1-1.5 1 2.9 1-1.2 1 1.2 1-2.4 1-.4 1 .6 1 .6 1-1.4 1 1 1-.4 1 1.7 1-2.4 1 1.8 1-1.8 1-.4 1 .3 1-.6 1 1.5 1 .9 1-.9 1 .5 1 1 1-1.4 1-.1 1-.6 1-1.4 1 2.6 1-2.8 1 2.6 1-.7 1 1.2 1-1.3 1-.8 1 1.3 1-1.1 1 .5 1 .2 1-.2 1-.1 1-.7 1 .7 1-2.1 1 2.1 1-1.1 1 2.5 1 .1 1-3.5 1 2.3 1-.3 1-1 1 1.7 1-1.1 1-1.4 1 1.6 1 .1 1 .3 1-1.5 1 2 1 .2 1-2.1 1 .5 1 .6 .2 65.1 .7-1.4 1-1.2 1-.6 1-.3 1-.1 1-.1 1-.1 1 0 1 0 1 0 1-.1 1 .5 1-.3 1-.4 1 .1 1 .2 1 .6 1-.6 1 0 1 .1 1-.1 1 .6 1-.7 1 .3 1-.2 1 .2 1-.5 1 .7 1-.4 1 0 1-.2 1 0 1 .3 1 .1 1 0 1 .1 1-.1 1-.2 1 .2 1-.1 1-.1 1 .2 1 .1 1-.2 1-.2 1 .3 1 .3 1-.6 1 .1" fill="none" stroke="#141414" stroke-width="1.4" stroke-linejoin="round"/>
<path d="M72 440.3l4 .3 4-.8 3.8 .5 1-13.2 1-11.6 1-6.1 1-6.6 1-5.4 1-2.6 1-4.2 1-1 1 1 1-3.8 1 1.9 1-2.5 1 .6 1-1.3 1-2.7 1 1.5 1 .7 1-1.6 1-.3 1 1.7 1-1.1 1-1.1 1 1 1 1.5 1-1.4 1 1.4 1 .6 1-1.5 1-1.3 1-.2 1 1.3 1 .9 1-.6 1 .3 1-1.1 1 .8 1-.9 1 .2 1-1.1 1-.3 1 1.1 1-.6 1 .1 1 1.7 1-.9 1 3.2 1-2.1 1-1.7 1 1.5 1-.5 1-1.1 1 1.9 1-2 1-2.4 1 4 1-1.5 1 2.2 1-2.3 1-.5 1 2.8 1-2.8 1 1.4 1 1.2 1-1.4 1-.2 1 .2 1 .7 1-1.7 1 1.5 1-.1 1 1.8 1-2.8 1-.6 1 1.7 1-1.2 1 .7 1-.2 1 1.1 1-1.9 1 .5 1-2.6 1 1.8 1 2.5 1-2.3 1-.1 1-.5 1 1.8 1-.4 1-1.5 1 2 1-.5 1 .5 1-1.4 1 2.4 1-1.4 1-.5 1-.5 1 .3 1 1.1 1-1.2 1 1.5 1-.6 1 .8 1-.6 1-.9 1-2 1 2.3 1 .5 1-.6 1 .4 1-1.1 1 .1 1-.6 1 2.4 1-1.3 1-.7 1-.9 1 1.2 1 1.7 1-1.1 1-1.2 1 2.2 1 0 1-.5 1-.2 1 .4 1-.7 1 .3 1-1.7 1 2.4 1-1.3 1 1.8 1-4.3 1 2.9 1 .3 1-1.4 1 .8 1 .3 1-.2 1-1.2 1 .4 1 1.3 1 .2 1-1.2 1-.1 1 .1 1 .9 1-2.2 1-.3 1 1.5 1-1.3 1 .5 1 .7 1 .4 1-1.6 1 2 1-2.8 1 2.5 1-2.3 1 .3 1 2 1-1.1 1-.4 1 .4 1 .9 1-.6 1 .1 1 1.1 1-1.9 1 .3 1-.1 1 1.8 1-.2 1 .3 1-1.4 1-.2 1 1.1 1-1.3 1 1.3 1-.2 1-1.5 1 .7 1-.1 1 2 1 .9 1-2.9 1 .1 1-2.4 1 2.6 1-.2 1-1.2 1 2 1-2.5 1 1.4 1 .4 1-1.5 1 2.2 1 .2 1-2.6 1 0 1 2.1 1-.7 1-1.2 1 .9 1 .2 1 0 1 1 1-.5 1 1.5 1-.4 1-.8 1 .4 1 .3 1-.7 1-2.1 1 2.3 1-.9 1 1.6 1-1.6 1 .5 1-.2 1 1.4 1-1.6 1-.5 1 .6 1-.8 1 .6 1-.2 1 .3 1 1.8 1-2.5 1 .5 1-.3 1 .9 1-2 1 .5 1 .7 .2 62.6 .7-1.3 1-1.1 1-.6 1-.3 1-.1 1-.1 1-.1 1 0 1 0 1 0 1 .1 1-.1 1-.1 1-.1 1 .3 1 .3 1-.3 1-.1 1 .1 1-.3 1 .1 1 0 1 .2 1-.1 1-.3 1 .6 1 .1 1-.5 1 .2 1 0 1 .1 1-.6 1 .8 1-.5 1 .4 1-.3 1-.1 1 .1 1 .2 1-.4 1 .1 1 0 1-.3 1 .7 1-.2 1-.1 1 .3 1-.5 1 .2" fill="none" stroke="#141414" stroke-width="1.4" stroke-linejoin="round"/>
<path d="M72 440.7l4-.2 4-.8 3.8 .6 1-12.2 1-7.9 1-8.1 1-5.4 1-3.6 1-4.7 1-1.6 1-1.5 1-1.9 1-1.3 1-2 1 .3 1-1.5 1 1.3 1 .9 1-3.6 1-1.7 1 1.5 1 .7 1 .6 1-.1 1-2 1 0 1 2 1-2.5 1 2.2 1-1.4 1 1 1-.1 1 .1 1 0 1-1.9 1 1.3 1-.3 1 .3 1 .9 1-1.6 1-.4 1-.1 1 .4 1 1.1 1-1.6 1 2 1-.9 1-.6 1-1.1 1 1.6 1 .4 1-2.5 1 3 1 .4 1-1.3 1 .1 1 2 1-1.3 1-2.2 1 .9 1-.1 1 0 1-2.3 1 3.2 1-1.5 1 .8 1-.3 1 1 1-1.2 1-.5 1 1.3 1 .9 1-1.8 1 1.7 1-1.1 1-.9 1 2.1 1-2.4 1 1.9 1-1.6 1 1 1-1.8 1 .4 1 1.9 1-.9 1-.1 1-.5 1 .9 1-1.9 1 .2 1 1 1-.7 1 .1 1 .6 1 0 1-.1 1 1.9 1-.7 1 .2 1-1.3 1-.5 1-1 1 1.1 1-1.8 1 1.6 1 1.3 1 .9 1-.7 1-1.9 1 1.4 1-1.3 1 1.6 1-1 1 1 1 1.8 1-1.7 1 1.4 1-2.2 1-.6 1 1.7 1 .4 1-2.3 1 .6 1-1.6 1 1.3 1 1.1 1-1 1-.5 1-.9 1 1.8 1 .4 1-.2 1-.3 1-1.6 1 3.1 1-1.9 1-.1 1 .9 1-3 1 2.1 1 0 1 .5 1 1 1-.9 1-2.4 1 1.5 1 .5 1 0 1-1.5 1-.4 1 2.3 1-.3 1-.4 1-1.7 1 3.6 1-4.9 1 2.6 1 2.6 1-2.4 1 .4 1-1.4 1 2.6 1-2.8 1 1.6 1-.1 1-1.3 1 2 1-2.4 1 .8 1 .7 1-.4 1 .9 1 .4 1-1.3 1-.2 1 0 1 .1 1 1.2 1-1 1 .6 1-.5 1-.8 1 1.8 1-2 1 1.1 1 1.5 1-2.7 1 1.1 1-1.6 1 1.1 1-1.1 1 1.2 1-.2 1 .7 1 1.5 1-1.4 1 .4 1-.7 1-.2 1-.7 1-1 1 2 1 1.6 1-1.2 1-1.1 1 2.3 1-2.2 1-.2 1-.6 1 .2 1 .8 1 2.3 1-2.3 1-.9 1 .5 1 .3 1-1.5 1 1.9 1 .6 1-.4 1 .3 1-2 1-.4 1 3.1 1-.3 1-2.7 1 1.8 1-.2 1 .5 1-.3 1-.8 1 .8 1-.1 1-.2 1-1.9 1-1.2 1 2.3 1-.9 1 2 1 .4 .2 58.6 .7-1.2 1-1.1 1-.5 1-.3 1-.2 1 0 1-.1 1 0 1 0 1 0 1 .1 1-.2 1 .1 1 .3 1-.5 1 .4 1 0 1-.1 1 .3 1-.6 1 .4 1-.4 1 0 1-.1 1 .4 1-.3 1 .2 1-.3 1 .6 1 .2 1-.4 1 .3 1-.3 1 .4 1-.5 1-.4 1 .8 1-.4 1-.3 1 .1 1-.2 1 .4 1-.3 1 .7 1-.2 1-.6 1 0 1 .3 1-.4" fill="none" stroke="#141414" stroke-width="1.4" stroke-linejoin="round"/>
<path d="M72 440.3l4 0 4-.2 3.8 .2 1-8.5 1-6.5 1-5.6 1-5.7 1-3.3 1-4.4 1-1.7 1-3.3 1-.3 1-3.2 1-1 1-.1 1-.3 1-2.5 1 .3 1 .2 1-.3 1-1.3 1 .6 1-.5 1 1.4 1-1 1-1.9 1-.9 1 2.1 1 .9 1-1 1 .6 1-1.3 1-.9 1 2 1-.7 1 .5 1-2 1 1.5 1-.8 1 1.4 1-1.4 1-.1 1 0 1 1.8 1-1.2 1-.8 1-.3 1 0 1 2.4 1-3.2 1 .9 1 1.5 1 .5 1-1.3 1 .9 1-.1 1 .2 1-.9 1 1.5 1-1.4 1 1.3 1-2.6 1 2 1-2.1 1-.3 1 1.9 1-1.3 1 1.3 1-1.5 1 2.6 1-1.6 1-1.1 1 1.2 1 .7 1-1.6 1 1.2 1 1.5 1-1.2 1-.8 1-.6 1 1.1 1-2 1-1.5 1 2.3 1-.5 1 2.8 1-1.6 1-1.1 1-.2 1 1.6 1-1.3 1 .2 1 .5 1 .2 1 0 1 0 1 1.1 1 .4 1-3.3 1 4.1 1-2.4 1 1.1 1-1.9 1 1 1-.1 1-.1 1 .7 1-.3 1-1.6 1 .9 1 .8 1-.1 1-1 1 .1 1 .1 1-.9 1-.2 1 2.7 1-1.9 1 .5 1-.9 1 2 1 .5 1-2 1 .7 1-1.2 1 2.4 1-.8 1-1.7 1 2 1-.9 1 .1 1-.1 1-1 1 .1 1 1.1 1-.7 1-.8 1 2.9 1-2.2 1-.4 1-.1 1 1.3 1 .3 1-.8 1 .6 1-2.3 1 1.1 1-.1 1 .5 1 .4 1-2.5 1 5.1 1-3.9 1 1.1 1 .5 1 0 1-.6 1-3.1 1 1.8 1 1.8 1-1.7 1-.1 1-1.3 1 3.5 1-.7 1-1.4 1 .7 1 0 1-1 1 .9 1 .5 1 .2 1 .7 1-1.2 1-.5 1 .9 1-1.1 1-.6 1 2.4 1-1.6 1 .5 1 .5 1-1.7 1 1.7 1-.2 1-.5 1 .5 1-1.2 1-1.4 1 1.9 1-.7 1 1.8 1-.6 1-.8 1 .5 1 1.3 1-.2 1-.8 1 .1 1-.7 1 .1 1 .7 1-.7 1 .4 1-1.4 1-.5 1-.1 1 1.3 1 1.7 1-.2 1-2.1 1-.6 1 2.3 1-.3 1-1.8 1 2.4 1-.9 1 1.1 1-.9 1 .5 1-.6 1-1.2 1 .7 1-.5 1 1.5 1-1.8 1-.6 1 2.2 1 .5 1 .3 1-.4 1-2.6 1 .8 1 .2 1 .5 1-2.1 1 2.1 1 .3 1-1.3 .2 54.6 .7-1.2 1-.9 1-.5 1-.2 1-.2 1 0 1-.1 1 0 1 0 1 0 1 0 1 .3 1-.3 1 .3 1 0 1-.2 1 0 1-.2 1 .4 1-.4 1-.1 1 .4 1-.4 1 .3 1 .2 1-.3 1 0 1 .2 1 0 1-.6 1 .1 1 .6 1-.2 1-.6 1 .2 1 .3 1-.2 1 .3 1-.1 1 .1 1-.4 1 .5 1 .3 1-.7 1 .5 1 0 1-.1 1-.2 1-.3" fill="none" stroke="#141414" stroke-width="1.4" stroke-linejoin="round"/>
<path d="M72 440.1l4 .4 4 .1 3.8-.3 1-6.4 1-5.6 1-5.6 1-4.6 1-2.6 1-2.7 1-2.8 1-3.4 1-1 1-2.4 1 .1 1-2.1 1-.2 1-.4 1-.8 1 .5 1-2.7 1-1.4 1 2.5 1 .1 1-.2 1-1.3 1 .1 1-.6 1-1.4 1 .5 1 .9 1-1.1 1 2.2 1-3.2 1 1 1 1.3 1-1.6 1-.5 1-.3 1 .6 1 2 1-1.1 1 .1 1-1 1 1.3 1-.7 1-1 1 .4 1 .6 1 .9 1-1.2 1 .5 1 1.4 1-2.6 1-.5 1 2.1 1-.5 1-.5 1 .3 1-.6 1 .8 1-.8 1 1 1-1.8 1 .3 1 .8 1-.5 1 1.1 1-.7 1-.5 1 .7 1-.7 1-1 1 .4 1 .3 1 .3 1 .5 1 .7 1-.3 1 1.1 1-.5 1-1.3 1 1.7 1-.5 1-1.5 1 .7 1 .7 1-.8 1 .7 1-.6 1 .3 1-1 1 .6 1-.7 1 1 1-2.2 1 1.9 1 .8 1-.6 1-.6 1 .5 1-1.3 1 0 1 .4 1 .2 1 1 1-1.7 1 1.8 1-2.5 1 .8 1 .6 1 1.2 1-1.7 1-1.5 1 2.4 1-.4 1-1 1 0 1 .3 1 .8 1 .5 1-2 1 3.5 1-2.2 1-.3 1 1 1-.6 1 2.1 1-1.2 1-1.4 1 0 1-.1 1 .1 1 1 1-1.3 1 2.1 1-1.6 1 0 1 1 1-2.8 1 1 1 1.4 1-.5 1-.1 1 .4 1-.9 1 .3 1-1.1 1-.5 1 3 1-2.1 1 .2 1 2 1-.4 1-1.5 1 0 1 .4 1-.8 1 1.4 1-.4 1 0 1 .6 1-.1 1 1.1 1-.3 1-3.1 1 2.5 1-1.9 1-.3 1 2 1-1.4 1 .4 1 1.3 1-1.7 1-.2 1 1.2 1 .8 1-.7 1-1.9 1 .8 1 .5 1 1.9 1-1 1 0 1 .3 1-1.4 1 .7 1 0 1-1.4 1 .9 1 .6 1-1.6 1 1.8 1-.1 1 .3 1-1.7 1 .8 1 1.3 1-.7 1-1.5 1 1 1 1.1 1-1.4 1 .4 1 2.1 1-2.5 1-.1 1-.8 1 .3 1 2 1-1.5 1-1 1 .2 1 .9 1 .7 1-1.4 1 1.3 1-1.1 1 .8 1 .1 1 .1 1-1 1 .2 1 .7 1-1.7 1 1.3 1 .4 1 .5 1-1.1 1-.1 1 .3 1-.9 1 .5 1 .6 1-.1 1-1.3 1 .7 1-1.7 1 2.7 1-1.2 1 .7 .2 49.3 .7-1.1 1-.9 1-.4 1-.3 1-.1 1 0 1-.1 1 0 1 0 1 0 1-.3 1 .3 1 .1 1 .1 1-.5 1 .5 1-.2 1-.2 1 .3 1-.2 1 0 1-.1 1 .3 1-.1 1 0 1-.2 1 .1 1 .2 1 .2 1-.3 1 .3 1-.3 1-.3 1 .5 1-.4 1 .3 1 .2 1-.4 1 .1 1 .6 1-.5 1 0 1 .1 1-.2 1 0 1 .1 1-.7 1 .9 1-.6" fill="none" stroke="#141414" stroke-width="1.4" stroke-linejoin="round"/>
<path d="M72 440l4 .4 4-.1 3.8 0 1-5.1 1-5.1 1-3.8 1-3.9 1-2.6 1-1.8 1-2.4 1-1.8 1-1.2 1-2.2 1-1.7 1-.8 1 .6 1-2.1 1-.5 1-1 1-.3 1-.3 1-.8 1-.4 1-.9 1-.3 1 .8 1 .1 1 0 1-.9 1-.9 1 1.1 1-.1 1-2 1 1.9 1-.2 1 .9 1-2.5 1-.2 1 1.7 1-2.3 1 .9 1-.3 1 0 1-.8 1 1.4 1 1.1 1-.5 1-.1 1-.7 1 1.6 1-.8 1 .4 1-2.3 1 1.6 1-1.3 1 1.3 1-.1 1-1.2 1 1.1 1 .9 1-.6 1 0 1-1.2 1 .1 1-.4 1 1.1 1 .9 1-.7 1-.4 1-1 1 1.4 1-.6 1-1.5 1 .2 1 1.2 1-.5 1 2.2 1-1.4 1-1 1 .5 1 1.8 1-2.2 1 1.5 1-.4 1 .9 1-.8 1-.8 1 .8 1-.4 1 .8 1-1 1 1.8 1-1.8 1 .4 1-.9 1 .6 1 0 1 .1 1 .6 1-1.3 1-.3 1 1.8 1-1.3 1-.3 1 1.6 1-.4 1-3 1 2 1 1 1 0 1-1.2 1 1.9 1-2.1 1 .5 1 .3 1-.2 1 .7 1 .2 1-.9 1 1.2 1-1.8 1 .4 1 1.7 1-1.4 1 .8 1-1.3 1 .1 1 .1 1 .3 1-.5 1 .3 1 .6 1 .5 1-1 1 .5 1 .2 1-1.8 1-.4 1 2.8 1-.3 1-1.1 1 .2 1-1.1 1-.4 1 1.5 1-1.6 1 2.1 1-1.4 1 .8 1 1.5 1-.1 1-1.9 1 1.2 1-1.9 1 .4 1 .8 1 .9 1-1.7 1 1 1-.4 1-1.3 1 1 1 1.5 1-1.4 1 .5 1 .3 1-1.4 1 1.7 1 .2 1 .1 1-.2 1-1.6 1-.1 1-.2 1-.1 1 0 1 1.6 1 .4 1-1.8 1 1.2 1-1.8 1 .8 1-.6 1-.6 1 1.5 1 0 1-.4 1-.1 1-.4 1 .7 1-.4 1 .7 1-1.2 1 1.2 1 .3 1 .6 1-.2 1-.7 1-.8 1-1.1 1 1.7 1 1.2 1 .2 1-3.7 1 1.6 1 .3 1-.6 1 1.1 1-.1 1-.5 1 .4 1-1.4 1 .5 1 .1 1 1.6 1-2.3 1 1.3 1 .9 1-.8 1 .8 1-1.3 1 .9 1 .4 1 1.2 1-1.3 1 .6 1-1.3 1 .1 1 1.3 1-.9 1 .8 1-.7 1 1.3 1 .2 1-2.9 1 2.4 1-1.2 1 0 1-.5 1 .7 .2 43.2 .7-.9 1-.8 1-.4 1-.2 1-.1 1 0 1-.1 1 0 1 0 1 0 1-.3 1 .1 1 0 1 .3 1 .1 1 0 1-.1 1-.2 1-.3 1 .5 1-.1 1 .1 1 .3 1-.4 1 0 1-.6 1 .7 1-.1 1-.2 1 .3 1-.4 1 .2 1 .6 1-.3 1 0 1 0 1 0 1-.1 1 .5 1-.6 1 .2 1-.2 1-.1 1-.5 1 .1 1 .9 1 0 1-.5 1 .1" fill="none" stroke="#141414" stroke-width="1.4" stroke-linejoin="round"/>
<path d="M72 440.5l4-.4 4 .6 3.8-.4 1-3.8 1-4.1 1-1.3 1-3.2 1-1.5 1-3.6 1-1.1 1-1.8 1-1.5 1 0 1-1.1 1-1.7 1-2.2 1 .1 1-.5 1-1.2 1-.7 1-.6 1-1.6 1 .5 1 .6 1-2.4 1 .5 1 .3 1-2 1 .8 1-1.5 1 .7 1-.8 1 .2 1 .2 1 0 1 0 1-1.9 1 3.1 1-1.6 1-.7 1 .3 1 .7 1-1.2 1 .5 1-.1 1 .8 1-1.1 1 .9 1-.1 1-.5 1 1.2 1-1.1 1-1 1 1.2 1-.2 1-.1 1 .2 1 1.7 1-1.8 1 .2 1-.6 1 1.3 1-1.2 1-.6 1-.4 1 1.5 1 .1 1-1.9 1 .7 1 1.1 1 .3 1-1.9 1 .7 1 1 1-1.1 1 0 1-.1 1-.6 1 1.1 1 .2 1-1.4 1 1.2 1 .8 1-.7 1 .6 1-1.3 1 1.6 1-1.8 1 2.2 1-1.9 1-.3 1-.1 1 .4 1-.1 1-.2 1 .3 1 .8 1 .2 1-1 1 1.3 1-1.9 1 0 1-.1 1 1.4 1-1.8 1 .1 1 2.2 1 .4 1-.3 1-2.4 1 1.3 1 .6 1-.6 1-1.4 1 1 1-1.1 1 .4 1 2.8 1-1.3 1-1.8 1 0 1 1.6 1-.9 1 1 1-1 1 .4 1 .3 1-1.1 1-.7 1 .6 1 .4 1 .4 1 .1 1 0 1 .5 1-1.2 1 1.9 1 .5 1-1.4 1-.1 1 .8 1-.5 1-.4 1-.3 1-.5 1-.3 1 1.5 1 .4 1-1.8 1 .8 1 .2 1-.5 1-.3 1 .3 1-1.4 1 1.6 1-.2 1 2 1-1 1-1 1 .2 1 1.5 1-.1 1-1.2 1-.3 1-1.1 1 .9 1 .2 1-.5 1 2 1-3 1 1.5 1 .4 1 0 1 1.1 1-2.6 1 .5 1 .7 1 0 1-.4 1-.3 1 1.5 1-1.8 1 .4 1 1.7 1 .2 1-.7 1-1.4 1 0 1-.1 1-.2 1 .6 1 1.4 1-.9 1-.8 1 0 1-.4 1 2 1-2.7 1 1.9 1-1.4 1 .3 1-.4 1 2.1 1-.9 1 2.4 1-3.2 1-.1 1 1.4 1 0 1-.7 1-1.5 1 2.9 1-.7 1-.2 1-.8 1 1 1-1 1 .5 1-.2 1 1.2 1-1.4 1 .1 1 1.2 1-.8 1-.2 1-.2 1 1 1-1.3 1 .9 1 1.3 1-1.4 1-1 1-.3 1 1.1 1-1.1 1-.4 1 .7 1-.2 1 1.6 .2 38.3 .7-.9 1-.7 1-.3 1-.2 1-.1 1 0 1-.1 1 0 1 0 1 0 1-.4 1 .8 1-.6 1 .2 1 .2 1-.2 1 .2 1-.5 1-.3 1 .5 1-.3 1 .2 1 .4 1-.3 1-.1 1-.1 1 .2 1 0 1-.3 1 .5 1-.4 1 .3 1-.1 1 .3 1 0 1-.2 1 0 1 .1 1 .2 1-.1 1-.2 1 .1 1 .3 1-.8 1 .5 1-.3 1 .5 1-.4 1 .1" fill="none" stroke="#141414" stroke-width="1.4" stroke-linejoin="round"/>
<path d="M72 440l4 .3 4 .2 3.8-.2 1-2.9 1-2.3 1-.6 1-3.1 1-2.2 1-1.5 1-3.2 1 .9 1-2 1-2.2 1 .5 1-2.1 1-1.1 1 .2 1-.9 1-1.2 1-.4 1-1.4 1-.6 1 1.1 1-.1 1-1 1-.4 1-.9 1-.2 1-.8 1 1.7 1-2 1 .5 1-.5 1-1.2 1 2.3 1-1.8 1-.5 1 .6 1-.9 1 .6 1-.9 1 1.1 1-.5 1-1.2 1 1.8 1-.7 1-1.1 1 1.1 1 0 1 1 1-2.1 1 1.3 1-.8 1 .5 1-.7 1 .1 1 .4 1-1.3 1-.7 1 1.5 1-.3 1 .4 1 .4 1-.7 1 1.1 1-1 1 .1 1 .5 1-.2 1-.5 1 .2 1-.7 1 .1 1 .5 1 .5 1-.9 1 .9 1 .9 1 .1 1-1.6 1 .8 1-.4 1 .1 1 .1 1-.3 1 .2 1-.5 1-.3 1 .4 1 .1 1 .6 1-.7 1 .3 1 .5 1-1.8 1 .5 1 .6 1-.4 1-.8 1 1.5 1-.8 1-.7 1 2.2 1-2.5 1 1 1-.5 1 .6 1 .3 1-1 1 .5 1 0 1-.7 1 1.7 1-.8 1-.4 1-.3 1 .3 1 .3 1-.5 1 1.4 1-3 1 .3 1 1.5 1-1.3 1 1.4 1-.5 1 1 1-.1 1 .7 1-.4 1 .3 1-.6 1 .4 1-.4 1-.9 1-.5 1 0 1 1.4 1-2.3 1 2 1-.7 1 1.1 1-.4 1-.8 1 .6 1-1.8 1 2 1 .2 1-1.8 1 2.1 1-.8 1 .2 1-1.2 1 1.5 1 0 1-.4 1-.8 1 1.3 1 .4 1-.6 1 .4 1-1.2 1 .5 1 .2 1-.2 1 2.1 1-1.9 1-.7 1 1.1 1-1.6 1 1.2 1 .3 1-1 1 .1 1-.5 1 .9 1-.7 1 1.9 1-.8 1-.7 1-1 1 2.7 1-.5 1-.7 1-.2 1 0 1-.5 1 1.8 1-1.3 1-1.3 1 .6 1-1.5 1 2.5 1 .1 1 .8 1 .2 1-2.2 1 .9 1 .5 1-.2 1-1 1 1 1-.3 1 .7 1-1.1 1-.2 1-.2 1 .1 1-.3 1 .3 1 .7 1 0 1 .6 1-.2 1-.3 1-1.4 1 1.3 1 .5 1-2 1 .2 1 .1 1-.1 1 .6 1-.5 1 1 1-1.2 1 .8 1-.3 1-.4 1 1.6 1-.8 1 .4 1-.7 1 .8 1 0 1-.7 1-1.2 1 2 1-.1 1-.4 .2 33.9 .7-.8 1-.6 1-.3 1-.1 1-.1 1-.1 1 0 1 0 1 0 1 0 1 .1 1-.1 1 .1 1-.3 1 .2 1 .1 1-.2 1-.1 1 .7 1-.3 1-.3 1 0 1-.5 1 .3 1 .3 1 .3 1-.8 1 .3 1 .7 1-.3 1-.1 1 .2 1-.3 1 0 1 .2 1 0 1-.5 1 .7 1-.8 1 .2 1 1 1-.9 1 .3 1-.4 1 .1 1-.1 1 .1 1 .3 1 .3" fill="none" stroke="#141414" stroke-width="1.4" stroke-linejoin="round"/>
<path d="M72 440.5l4 .2 4-.5 3.8 .1 1-1.4 1-1.2 1-1.9 1-1.2 1-.6 1-1.4 1-1.2 1-1.3 1-.7 1-.5 1-.7 1-1.4 1-.6 1-.2 1-1.5 1 .6 1-1.1 1-.6 1-1.8 1 0 1-.1 1-.1 1-.7 1 .6 1-.5 1-.5 1-1.4 1 1.9 1-1.3 1 .3 1-1 1 .2 1 .2 1-.4 1 .3 1-.9 1 1.2 1-2.6 1 .7 1 .9 1-.9 1-.3 1-1 1 1.9 1-2.1 1 1.5 1-.3 1 .4 1 .3 1-1.5 1-.2 1 .3 1-1 1 1.7 1-.9 1 .3 1-.9 1 .7 1-.4 1 .3 1-.7 1 1.4 1-1.2 1-1.3 1 2.1 1-.6 1-.5 1 2.3 1-1.8 1-.9 1 .5 1 .7 1-.5 1 1 1-.1 1-1.3 1 .5 1 .4 1-.7 1 0 1 .9 1-.3 1-1.3 1 .5 1 .1 1 .2 1-.4 1 1.4 1-1.6 1-.1 1 .9 1-1.7 1 .8 1 1.1 1-1.3 1 .3 1 1.3 1-.4 1-.3 1 .1 1-.6 1 .7 1-.4 1 1.9 1-1.4 1-.6 1 .2 1 0 1-1 1 .4 1 1.6 1-2 1 .6 1 1.1 1 .3 1-1.8 1 1.8 1-1.3 1 1.4 1-.8 1-.6 1 .7 1-.1 1-.9 1 2 1-1.7 1 1 1-1.1 1-1 1 .5 1 .7 1 .5 1 .8 1-1.2 1-.2 1-.7 1 .8 1 .2 1-1.7 1 2.4 1-.1 1 .8 1-2.2 1 .6 1 0 1-.9 1 .3 1-.1 1 1 1 0 1 .6 1-1.2 1-.7 1 1.3 1-.1 1 .2 1 .4 1-1.3 1 1 1-1.3 1 .8 1 .4 1-.6 1 .2 1-1.1 1 .5 1 .6 1-1 1 .3 1 2.3 1-1.6 1-.7 1-.2 1 1.7 1-2.9 1 1.7 1 .6 1-.8 1 .7 1-1.1 1 .8 1 0 1 0 1 0 1 0 1 .7 1-1 1-.2 1 .2 1 0 1-.9 1-.2 1 .4 1 1.1 1-.7 1 .2 1 2.3 1-1.2 1-1 1-.3 1 1.4 1-1.5 1 1.4 1-.4 1 .5 1-1.5 1 1.2 1-1.9 1 1.1 1 .9 1-.3 1-1.8 1 1.8 1-.2 1-.3 1-.5 1 .3 1-.2 1 1.1 1-.4 1 .4 1-.2 1-1.4 1 1 1 1.4 1-2.3 1 1 1-.8 1-.1 1 .8 1 .5 1-.1 1-.2 1 .3 1-1.8 1 1.7 1-.3 .2 26.7 .7-.6 1-.5 1-.2 1-.2 1 0 1-.1 1 0 1 0 1 0 1 0 1-.1 1 .1 1-.2 1 .5 1-.5 1-.2 1 .4 1-.2 1 .1 1 .4 1-.4 1 .1 1 .5 1-.9 1 .5 1 .2 1 0 1 .2 1-.7 1 .3 1-.2 1 0 1-.1 1-.2 1 .5 1 .1 1-.5 1 .5 1-.4 1-.1 1-.4 1 .9 1-.1 1-.2 1 0 1-.3 1 .5 1-.1 1 .1" fill="none" stroke="#141414" stroke-width="1.4" stroke-linejoin="round"/>
<path d="M72 440.3l4-.4 4 0 3.8 .4 1-.9 1-.5 1-.5 1-1.1 1-.1 1-.8 1-.4 1-.8 1-.3 1-.4 1 .1 1-.8 1-.5 1-1.1 1 .2 1-.7 1-.1 1-.2 1 0 1-.5 1-.5 1-.4 1 .4 1-1.3 1 .2 1 .4 1-.9 1 .2 1-.1 1 .3 1-.6 1-1.5 1 .6 1 0 1 .1 1-.4 1 .6 1-.5 1-1.3 1 .2 1-.9 1 1.8 1-1 1-.2 1-.8 1 .5 1 .3 1-.5 1-.1 1-.2 1 1.3 1-1.4 1-.6 1 .5 1 0 1 .1 1-.2 1-.5 1 .4 1 .3 1-1.1 1 1.9 1-.2 1-2 1 .7 1 .7 1 .2 1 .2 1-2.1 1 .4 1 .3 1 .6 1-1 1 .8 1 0 1 .2 1-1.2 1 .8 1-.1 1-.3 1 1 1-1 1 1 1-1.2 1 1.3 1 0 1-1.4 1 .6 1 0 1-.8 1 1 1-.1 1-.9 1 .6 1 .4 1-.6 1-.3 1 1.3 1-1.5 1 .8 1 .4 1-.2 1-1.5 1 .8 1 .1 1 0 1 .5 1-.1 1-.2 1 0 1 .4 1 .2 1-1.8 1 2.3 1-1.6 1 .8 1-1.4 1 .6 1-.4 1 1.3 1-.1 1-.5 1-.1 1 .3 1-.8 1 .2 1-.1 1 .9 1-.4 1-.8 1 .9 1 .1 1 .5 1-1.1 1 .6 1 .9 1-1.4 1 0 1 .5 1-.6 1 .3 1-.3 1-.2 1 1 1-.7 1-.4 1 .4 1 .1 1 .2 1 .4 1 .5 1-1.8 1 .6 1-.9 1 1.2 1 .1 1-.7 1-.1 1-.1 1-.3 1 1.3 1 .7 1-1.8 1 1.6 1-1 1-.7 1 1.1 1 .1 1-.2 1-.4 1 1.1 1-1.1 1 .5 1 0 1-.9 1-.5 1 0 1 .8 1 .4 1-1.2 1 .6 1 1.3 1-1.9 1 1.3 1-.1 1 .3 1-1.4 1 1.1 1-1 1 1.6 1-1.3 1 .7 1-.7 1 .6 1-1 1 1 1 .2 1-.3 1 .9 1-.7 1 .2 1-.2 1 .8 1-1.4 1 .2 1 0 1 .5 1-.2 1 .3 1-.3 1-.5 1 .3 1 .3 1-1.6 1 2.1 1-1.1 1 .1 1 .4 1-.3 1-.7 1 .7 1 .9 1-.2 1 .1 1-1 1 .2 1 .7 1 .3 1-.9 1-.6 1-.5 1 1.9 1-1.7 1 1.2 1 .2 1 1.4 1-1.8 .2 17.8 .7-.3 1-.4 1-.1 1-.1 1-.1 1 0 1 0 1 0 1 0 1 0 1 0 1 .1 1 0 1 .2 1-.1 1-.4 1-.3 1 .6 1-.3 1 .6 1-.7 1 .4 1-.3 1 0 1 .6 1-.4 1 0 1 .2 1-.4 1 .1 1-.1 1 .7 1-.4 1 .1 1 .1 1-.3 1 0 1-.4 1 .5 1 0 1-.2 1 .4 1-.8 1 .6 1-.5 1 .1 1 .2 1 .4 1-.6" fill="none" stroke="#141414" stroke-width="1.4" stroke-linejoin="round"/>
<path d="M72 440l4 0 4 .8 3.8-.5 1-.3 1-.1 1-.5 1-.6 1 0 1-.5 1 .4 1-.9 1 .1 1-.4 1-.2 1-.1 1-.3 1-.3 1-.4 1 0 1-.3 1-.2 1 .2 1-.3 1 0 1-.3 1 .5 1-1 1-.2 1 .5 1-.7 1 .1 1 .2 1-.5 1-.2 1 .4 1-.4 1-.4 1-.3 1 .2 1-.6 1 .2 1-.2 1 .4 1 .1 1-.6 1 0 1-.3 1-.2 1 .3 1 .3 1-.1 1 0 1-.4 1-1.1 1 1.5 1 .1 1-.3 1 0 1 0 1 .6 1-1 1 .5 1-.4 1-.1 1-.4 1-.1 1-.4 1 .7 1-.4 1-.4 1 .1 1-.2 1 1.2 1-.9 1 .2 1-.6 1 0 1 .9 1-.6 1 .2 1 .6 1 .1 1-.6 1-.1 1-.1 1-.3 1 1 1-1.4 1 .4 1-.8 1 .3 1 .7 1 0 1-.1 1-.3 1-.2 1 .1 1 0 1 .7 1 .1 1-.4 1-.5 1-.2 1 .6 1-.3 1-.7 1 1.4 1-.6 1-.2 1-.2 1-.1 1 .8 1-.8 1 .4 1 .3 1 .5 1-.6 1-.3 1-.1 1 .5 1 .1 1-.7 1 .5 1-.3 1-.7 1 .2 1 .9 1 .2 1-.3 1-.4 1-.3 1 .6 1-.1 1-.9 1 1 1-.6 1 .6 1 0 1 0 1 .2 1-.2 1-.8 1 0 1 1 1-.3 1-.9 1-.2 1 1.3 1 .6 1-.7 1-.4 1 .2 1-1.4 1 .8 1 .9 1-.1 1-1.3 1 1.5 1-.3 1 .1 1-.5 1 .1 1-.5 1 .7 1 .2 1-.8 1 .6 1-.4 1 .7 1-.1 1-1.5 1 1.3 1 .2 1-.7 1 .2 1 0 1-.4 1 .4 1 .8 1-.5 1 .5 1-.3 1 .1 1-.5 1 .3 1 .6 1-.3 1-.5 1-.5 1-.1 1 .5 1 .1 1-1 1 .9 1 .1 1 0 1-.4 1 1.3 1-.7 1-1 1 .3 1 .7 1-.2 1-.1 1-.1 1-.1 1-.1 1-.3 1 .8 1-1.6 1 1 1 .8 1-.9 1-.2 1 1.4 1-.4 1-.5 1-.2 1 .2 1-.1 1 .1 1-.3 1 .6 1-.5 1-.6 1 .3 1 .6 1-.5 1-.7 1 1.8 1-.4 1-.5 1 0 1 .5 1 .4 1-1 1 .5 1-.5 1 .5 1-.7 .2 11.1 .7-.2 1-.2 1-.1 1 0 1-.1 1 0 1 0 1 0 1 0 1 0 1-.5 1 .5 1 0 1 .2 1-.4 1 .5 1-.3 1 .4 1-.5 1 .5 1-.4 1 0 1 .2 1-.7 1 .2 1 .8 1-.9 1 .3 1 .2 1 .3 1-.5 1 .1 1-.3 1 .2 1 .3 1-.1 1-.1 1 .1 1-.1 1 0 1-.1 1-.2 1 .5 1-.5 1 .5 1 .3 1-.1 1 .2 1-.9" fill="none" stroke="#141414" stroke-width="1.4" stroke-linejoin="round"/>
<path d="M72 440.3l4-.2 4 0 3.8 .2 1-.2 1 0 1-.2 1 0 1-.2 1-.1 1-.4 1 0 1 0 1 0 1-.4 1-.1 1-.1 1 .3 1-.3 1-.3 1-.2 1 .1 1-.5 1 .2 1-.1 1-.1 1 .1 1-.1 1 .6 1-.8 1 .1 1-.5 1-.3 1 .7 1 .1 1-.8 1 .2 1 .2 1-.3 1-.8 1 .9 1-.4 1 .2 1-.5 1 .4 1 0 1-.5 1 .3 1-.4 1 0 1-.2 1 .1 1-.1 1 .5 1-.5 1-.3 1 .7 1-.2 1 .1 1-.4 1 .2 1-.3 1-.3 1 .3 1 0 1-.1 1 .2 1-.8 1 .6 1-.4 1 .2 1 .2 1-.2 1-.2 1 .4 1-.3 1 .3 1 .1 1-.6 1-.2 1 .3 1 .2 1-.1 1-.5 1-.2 1 .2 1 0 1 .5 1-.2 1 .2 1-.3 1 .5 1-.5 1 .1 1-.3 1 .3 1 .2 1-.2 1 .2 1-.6 1 .3 1 .4 1-.5 1-.2 1 0 1-.1 1 .2 1 .4 1-.3 1-.2 1-.2 1-.2 1 1.2 1-1 1 .2 1-.2 1 .2 1-.2 1 .2 1 .4 1-.7 1 .4 1-.2 1 .2 1-.5 1 .4 1-.5 1-.3 1 .2 1 .1 1-.1 1 .3 1 .5 1-.8 1 .5 1-.1 1-.3 1-.1 1 .5 1 0 1-.3 1 .1 1 0 1-.4 1 .5 1 0 1 .5 1-1 1 .1 1 .3 1-.2 1 0 1 .2 1-.1 1 .1 1 .1 1-.7 1 .7 1-.9 1 1.3 1-.2 1-.6 1 .6 1-.4 1 .2 1 .1 1-.2 1-.1 1 .2 1-.3 1 0 1-.2 1-.3 1 1.1 1-.2 1-.8 1 .6 1 0 1-.9 1 .5 1 .2 1 .7 1-.2 1 0 1-.3 1 .2 1-.7 1 .6 1 0 1-.7 1 .5 1 .5 1 .1 1-.2 1-.7 1 .2 1-.1 1 .6 1-.7 1-.1 1-.2 1 .6 1 .1 1-.4 1 0 1 .2 1 .5 1-.9 1 .4 1 .1 1 .1 1 .3 1-.2 1-.2 1 .4 1-.1 1-.3 1 0 1-.5 1 .5 1-.4 1-.1 1 .3 1-.5 1 .3 1 .1 1 .3 1-.2 1 .2 1 .4 1-.2 1-.7 1-.2 1 .3 1 0 1-.4 1 .1 1 0 1 .4 1 .7 1 .1 .2 5.9 .7-.2 1-.1 1 0 1-.1 1 0 1 0 1 0 1 0 1 0 1 0 1-.3 1 .2 1-.3 1 0 1 .4 1 0 1-.2 1 .3 1-.2 1 .4 1-.4 1 .3 1-.3 1 .1 1 .1 1-.5 1 .2 1 .2 1-.1 1 .1 1-.2 1-.2 1 .4 1 0 1-.2 1 .5 1-.1 1 0 1 0 1-.4 1 .7 1-.7 1 .3 1 .1 1-.1 1-.1 1-.2 1 .1 1 .1" fill="none" stroke="#141414" stroke-width="1.4" stroke-linejoin="round"/>
<path d="M72 440.6l4-.5 4 .4 3.8-.2 1 0 1-.1 1 0 1-.2 1 .1 1-.1 1-.1 1 .1 1-.1 1-.1 1 .1 1-.2 1 .3 1-.4 1 0 1 0 1 0 1 .1 1-.2 1-.1 1 .3 1-.2 1-.2 1 0 1-.2 1 .2 1 .2 1-.5 1 0 1 .2 1-.4 1 .5 1-.5 1 .1 1 .1 1 .2 1-.2 1-.4 1 0 1 .3 1-.4 1 .3 1-.1 1 .2 1 .1 1-.7 1 .5 1 0 1-.3 1 0 1-.1 1 .1 1 .1 1 .2 1 0 1-.3 1-.2 1 .4 1-.8 1 .3 1 .3 1 .3 1-.6 1 .2 1-.3 1 .2 1 0 1-.2 1 .2 1-.1 1 .1 1-.1 1-.2 1 .2 1 .2 1-.4 1 .4 1-.2 1-.1 1 0 1-.1 1-.1 1 .4 1 0 1-.3 1 0 1 0 1 .2 1 .1 1-.4 1 .1 1 0 1 .1 1 .2 1-.5 1-.3 1 .4 1-.3 1 .7 1-.6 1 .1 1 .1 1 0 1-.1 1 0 1 .2 1-.2 1 .4 1-.3 1-.6 1 .7 1-.6 1 .5 1 .4 1-.3 1-.5 1 .1 1 .1 1 .4 1-.5 1 .4 1-.2 1-.1 1 0 1 .4 1-.8 1 .1 1 .5 1 0 1-.5 1 0 1 0 1 .4 1-.3 1 .5 1-.2 1-.1 1 0 1 0 1 .1 1-.2 1 .1 1 .1 1-.2 1 .2 1-.3 1-.1 1 .2 1 .3 1 0 1-.7 1 .4 1-.2 1 .1 1 0 1 0 1-.1 1 .1 1 .1 1-.4 1 0 1 0 1 0 1 .4 1-.4 1 .3 1 0 1 .1 1-.1 1 .2 1-.2 1 0 1 .1 1-.5 1 .4 1 .3 1-.3 1-.1 1 .5 1-.4 1 .2 1-.8 1 .6 1-.2 1 .2 1 .2 1-.3 1 0 1-.6 1 .8 1 .1 1-.3 1-.1 1 .2 1 .1 1 0 1 .3 1-.6 1-.2 1 .4 1 .2 1-.4 1 .1 1-.2 1-.1 1 .1 1-.3 1 .5 1 .1 1 .1 1-.4 1 0 1-.2 1 0 1 .6 1 .4 1-.9 1 .2 1 .3 1-.4 1 .3 1-.2 1 0 1 .3 1-.3 1-.3 1 .5 1-.2 1-.1 1-.1 1 .4 1-.3 1 .2 1 .2 1-.3 1 .3 1-.6 .2 3.5 .7-.1 1 0 1-.1 1 0 1 0 1 0 1 0 1 0 1 0 1 0 1 .2 1-.1 1 .4 1-.5 1 .2 1-.2 1-.3 1 .1 1 0 1 .4 1-.4 1 .2 1 .2 1 .1 1-.1 1 .2 1-.7 1 .2 1 .2 1 .2 1-.2 1-.3 1 .2 1-.4 1 .6 1-.6 1 .5 1 .2 1-.1 1-.6 1 .5 1-.2 1 0 1 .5 1-.3 1-.5 1 .1 1 .5 1-.1" fill="none" stroke="#141414" stroke-width="1.4" stroke-linejoin="round"/>
<path d="M72 440l4-.1 4 .3 3.8 .1 1 0 1 0 1 0 1 0 1-.1 1 0 1 .1 1-.1 1 0 1 0 1-.1 1 0 1-.1 1 .1 1 0 1 0 1-.2 1 .2 1 0 1-.1 1 .1 1-.3 1 .2 1-.1 1 .3 1-.4 1 .1 1 0 1 .1 1 0 1 0 1-.1 1 .2 1-.3 1 .1 1 .1 1-.2 1 0 1 .2 1-.1 1-.2 1 .1 1 .2 1-.2 1 .1 1-.1 1-.1 1 .2 1 0 1 0 1-.2 1 .1 1 0 1 0 1-.1 1 0 1 .1 1-.2 1 0 1 0 1 0 1-.1 1 .1 1 .1 1-.1 1 0 1 .2 1-.3 1 .2 1 0 1-.2 1 .1 1 0 1 .1 1 0 1-.2 1-.1 1 0 1 .1 1-.1 1 .1 1 0 1 .1 1 .1 1-.2 1 .1 1-.1 1 .1 1 0 1 .1 1 0 1-.3 1-.1 1 .3 1 0 1-.2 1 .3 1-.2 1 0 1 0 1-.2 1-.1 1 .2 1-.1 1 .1 1 0 1-.3 1 .2 1 .2 1-.4 1 .3 1-.2 1 0 1 .3 1 0 1-.2 1 0 1 .3 1-.1 1-.1 1 .1 1-.1 1-.1 1 .2 1-.2 1 .1 1-.1 1 0 1 0 1 .1 1 .1 1-.1 1-.2 1 .2 1-.2 1 0 1 .1 1 .1 1 0 1 0 1 .1 1-.1 1-.1 1 .1 1-.1 1 .1 1 0 1-.1 1-.2 1 .2 1 0 1 0 1-.1 1-.1 1 0 1 .3 1 0 1-.1 1 0 1 .3 1-.2 1-.1 1 .1 1-.1 1 .1 1-.1 1 0 1 0 1-.1 1 .1 1 .1 1-.3 1 .1 1-.1 1 .3 1-.2 1 .2 1-.3 1 .3 1-.2 1 0 1 .1 1-.1 1 0 1 .2 1-.2 1 .2 1 .2 1-.4 1 0 1-.2 1 .1 1 .2 1 0 1 0 1 0 1-.2 1-.1 1 .4 1-.1 1 .1 1-.2 1 .1 1-.2 1 .1 1 0 1 .1 1 .1 1-.1 1-.5 1 .4 1 0 1 .1 1-.1 1-.1 1 0 1 .1 1-.1 1 .3 1-.1 1-.1 1 .1 1 .2 1-.3 1 0 1-.1 1-.1 1 .1 1 0 1 .2 1 0 1 0 1-.2 1 .2 1-.3 1 .2 1 .2 .2 1 .7-.1 1 0 1 0 1 0 1 0 1 0 1 0 1 0 1 0 1 0 1 .3 1 0 1 .2 1-.2 1-.4 1 0 1-.1 1 .3 1-.3 1 0 1 0 1-.2 1 1 1-.4 1-.7 1 .6 1-.2 1-.4 1 .4 1 .2 1 0 1 .2 1-.5 1 .2 1 .2 1-.1 1 0 1-.1 1 .3 1-.6 1-.1 1 .8 1-.3 1 .2 1-.2 1-.2 1 0 1 .1 1-.1" fill="none" stroke="#141414" stroke-width="1.4" stroke-linejoin="round"/>
<line x1="72.0" y1="440.3" x2="370.0" y2="440.3" stroke="#141414" stroke-width="2.4"/>
<line x1="83.3" y1="431.0" x2="83.3" y2="452.4" stroke="#141414" stroke-width="1.4"/>
<line x1="321.0" y1="376.8" x2="321.0" y2="461.0" stroke="#141414" stroke-width="1.4"/>
<path d="M419 440.8l4 .2 4 .4 3.7-.4 1-4 1-7.3 1-6.3 1-5.8 1-5.4 1-4.8 1-3.7 1-3.4 1-3.5 1-3.4 1-3.4 1-2 1-2.4 1-2.5 1-1.3 1-2.5 1-1.6 1-1.4 1-1 1-.9 1-.7 1-1.7 1-1.4 1-.5 1-.5 1-1.2 1-1.1 1 .2 1-1 1-.2 1 .1 1-.4 1-.2 1-1.1 1-1.1 1-.1 1 .3 1 .1 1-.9 1-.9 1-.3 1-.3 1 0 1-.1 1 .7 1-.4 1-1.1 1 .1 1-.4 1-.6 1 .2 1 .3 1-.7 1 0 1 .2 1-.6 1 .3 1 0 1 0 1-.4 1-.6 1 0 1-.6 1 .2 1 0 1-1.1 1 1 1 .3 1-1.4 1 .6 1 .3 1-.5 1-.3 1-.6 1-.5 1-.8 1 .2 1 .6 1 .7 1 .9 1-.9 1-.7 1 .1 1-.5 1-.5 1-.6 1 .2 1 0 1 .2 1 .1 1 .5 1 .2 1-.5 1 .3 1 .1 1-.6 1-.3 1-.1 1 .4 1 .3 1-.4 1 0 1-.5 1-.2 1-.4 1 .3 1 .6 1-.6 1 .2 1-.2 1-.4 1 .4 1 .1 1-.9 1 .1 1-.4 1 .4 1 .6 1-.7 1 1 1 .8 1-1 1-.6 1 .3 1 .4 1-.5 1-.7 1 .5 1 0 1-.2 1 .1 1-.9 1-.6 1-.7 1 .2 1 1.6 1-.4 1 0 1 .8 1-.6 1-.4 1 0 1-.4 1-.2 1 .3 1 .4 1 .3 1-.6 1-.1 1 0 1-.4 1 .4 1 0 1-.2 1 .1 1-.2 1-.4 1 .1 1 .6 1 .1 1 .3 1 .1 1-2 1-.3 1 1.9 1 .1 1-.9 1-.4 1 .8 1 .7 1-.3 1-.2 1 .3 1 .1 1-1.1 1-.1 1 .6 1-.4 1 .2 1 .1 1-1.6 1 .6 1 1.7 1-.7 1-.7 1 .2 1-.4 1 0 1 .4 1-.3 1-.3 1-.1 1 .8 1 .8 1-.2 1-.6 1-.6 1 .3 1 1 1-1 1-.2 1-.2 1-.7 1 1.1 1-.5 1-.8 1 .7 1 1 1-.3 1 .2 1-.2 1 .2 1 .4 1-.7 1 .2 1 0 1 .5 1 .8 1-.5 1-1.1 1-.7 1-.2 1 .4 1 .3 1 0 1 0 1 .2 1-.5 1-.7 1 1 1 .8 1-.7 1 .2 1-.1 1-.6 1-.5 .8 120.5 .7-4.2 1-4.9 1-4 1-3.2 1-2.6 1-2 1-1.6 1-1.3 1-1.1 1-.8 1-.5 1-.7 1-.2 1-.4 1-.5 1-.2 1 .1 1-.5 1-.1 1 0 1 .1 1 0 1 .2 1-.6 1 .3 1-.5 1 .3 1-.1 1 .4 1-.3 1-.3 1 .3 1-.1 1-.2 1 .1 1-.2 1 .9 1-.6 1 .2 1-.6 1 0 1 .3 1 0 1 .2 1-.4 1 .3 1 .3 1-.6" fill="none" stroke="#141414" stroke-width="1.4" stroke-linejoin="round"/>
<path d="M419 441.2l4-.4 4 .3 3.7-.1 1-3.1 1-6.3 1-5.8 1-4.8 1-4.9 1-4.5 1-3.8 1-3.8 1-2.7 1-2.6 1-2.1 1-2.2 1-2.6 1-2.5 1-2.4 1-1.6 1-2.3 1-.9 1-.8 1-2.2 1-1 1-.4 1-.3 1-1.4 1-1.1 1-.6 1-1.3 1-.6 1-.2 1-1.2 1-.2 1-.5 1-.8 1-.2 1-.8 1-.3 1 .2 1-.6 1-.6 1 .7 1-.5 1-.9 1 .3 1-.5 1-.3 1-.3 1-.1 1 0 1-.8 1 .3 1 .1 1-.8 1-.6 1-.2 1 .1 1 .1 1 .3 1-.7 1-.7 1 .8 1 0 1-.4 1 .4 1-.2 1-.5 1-.3 1 .4 1 .3 1-1.1 1-.3 1-.3 1 .1 1 .6 1-.6 1-.6 1-.7 1 .3 1 .6 1-.5 1 .2 1-.2 1-.6 1-.2 1-.4 1 1.2 1 .4 1-1.2 1 .3 1-1.2 1-.4 1 1.2 1-.5 1 .1 1-.5 1-.3 1 1.1 1-1 1-1 1 .8 1 .5 1-.3 1 .1 1 .3 1-.8 1-.2 1-.1 1-.8 1-.5 1 1.1 1 .9 1 .3 1-.6 1-1 1 .7 1 0 1 0 1 .1 1-.5 1-1 1-.2 1 1.6 1 .6 1-.2 1-.6 1-.6 1-.2 1 .2 1 .3 1 0 1 .7 1-.6 1-.4 1-.3 1 .1 1 .4 1-.6 1 .2 1 .7 1-.1 1-.9 1-.5 1 .3 1 .1 1-.4 1 .3 1 .5 1-.3 1-.1 1 1 1-.9 1-.2 1 1.5 1-.9 1-.6 1-.4 1-.1 1 .4 1 0 1-.3 1-.5 1 .2 1 0 1-.1 1 .2 1-.3 1 0 1 .7 1-.9 1-.2 1 .6 1-.5 1-.3 1 .1 1 .2 1 .5 1-.3 1 .3 1 .2 1-.2 1 .8 1-.8 1 0 1 1.3 1-.6 1-.7 1 .2 1-.2 1-.1 1-.2 1 .3 1 .6 1-.3 1 .2 1 .5 1-.4 1-.7 1 .5 1 .8 1-1.7 1-1 1 .7 1 .8 1 .7 1-.5 1-.4 1 .4 1-.7 1 0 1 .4 1-.2 1 .1 1-.6 1-.4 1 .5 1 .5 1-.2 1 .4 1 0 1-1 1 0 1 .4 1 .1 1 .6 1 .2 1 0 1 0 1-.5 1 .1 1 0 1-.3 1-.3 1-.1 1 .3 1 .1 1 .8 1 .9 .8 111.3 .7-3.9 1-4.7 1-3.8 1-3 1-2.4 1-1.9 1-1.6 1-1.2 1-1 1-.8 1-.4 1-.8 1-.2 1-.4 1-.5 1-.1 1-.2 1-.2 1 .4 1-.6 1 0 1 .2 1-.4 1-.1 1 0 1 .3 1 0 1-.1 1-.2 1-.1 1 .5 1-.6 1 .3 1-.3 1 .2 1 .1 1 .3 1-1 1 1.1 1-.6 1 .3 1 .1 1-.4 1 .2 1 .1 1-.1 1-.2 1 .3" fill="none" stroke="#141414" stroke-width="1.4" stroke-linejoin="round"/>
<path d="M419 441l4-.4 4 .7 3.7-.3 1-3 1-5.7 1-4.3 1-4.1 1-4.4 1-4.5 1-3.6 1-2.6 1-2.8 1-3.1 1-2.8 1-2 1-2 1-2.1 1-1.6 1-1.2 1-1.7 1-1.8 1-2 1-.9 1-.3 1-1.4 1-2.1 1-1.1 1 0 1 .1 1-.5 1-1.2 1-.6 1-.4 1-1.2 1-1.3 1-.6 1-.2 1-.2 1-.2 1-.7 1-.4 1-.3 1 .4 1-.1 1-.2 1 .5 1-1.6 1-.6 1 .5 1-1.2 1-.2 1 .3 1-.3 1-.5 1-.4 1 .3 1-.2 1-.6 1-.1 1-.4 1 .1 1-.8 1 .3 1 .9 1-.6 1 .2 1-.8 1 .4 1-.1 1-.8 1 .4 1 .2 1-.2 1-1.2 1 0 1-.5 1-.3 1 .7 1 .6 1-.1 1-.8 1-.3 1-.3 1 0 1 .5 1-.4 1-.4 1-.2 1 0 1 .5 1-.5 1-.3 1 .4 1 .4 1 .3 1-.4 1-.9 1-.6 1 .6 1 1.1 1-.2 1 0 1-.4 1-.8 1 .7 1-.3 1-.4 1 .4 1-.2 1 .5 1-.5 1-.9 1-.5 1-.3 1 .5 1 .3 1 0 1 .2 1-.2 1-.9 1 .2 1 .9 1-.5 1-.6 1 1.2 1 .6 1-.3 1-.2 1-.4 1-.5 1 .1 1 .1 1-.4 1 0 1 .1 1 .3 1-.3 1 .6 1-.1 1-1.2 1 .8 1-.2 1-.6 1 .3 1-1.1 1-.2 1 .8 1 0 1 .6 1 .3 1 .4 1 .3 1-.2 1-.7 1 0 1-.4 1-.5 1 1 1 .3 1-1.1 1-.6 1 .9 1 .4 1 .1 1-1 1-1 1 .6 1 .1 1 .1 1 .4 1 .1 1-.1 1 .1 1 .3 1-.2 1-.8 1 .5 1 .5 1-.3 1-.1 1-.8 1 .1 1 .4 1-.7 1 .7 1 .4 1-.4 1 .4 1 .5 1-1.1 1-.9 1 1 1 0 1-1.6 1 .3 1 1.4 1 .2 1 0 1-.5 1 0 1 .1 1-.3 1 .1 1 .4 1-.5 1 .2 1 .7 1-.1 1-1.4 1-.3 1 1 1-.4 1 .3 1-.3 1 .3 1 .7 1-.7 1 .4 1 .4 1-.4 1-.7 1 0 1 1.1 1 .2 1-1.1 1 .1 1 1.2 1-.2 1-.8 1-1 1-.2 1 .4 1 .4 1 .5 1-.5 1-.8 1 .1 1 .1 1 .7 .8 106.5 .7-3.7 1-4.4 1-3.6 1-2.8 1-2.3 1-1.8 1-1.5 1-1.1 1-1 1-.7 1-.9 1-.1 1-.3 1-.7 1 .2 1-.5 1-.3 1-.1 1 .1 1 .2 1-.8 1 .6 1-.3 1-.2 1 .2 1 0 1-.1 1 .2 1-.4 1 .7 1-.3 1-.3 1-.4 1 .5 1-.1 1 .3 1 0 1 .3 1-.5 1 .2 1-.3 1 0 1 .5 1-.4 1 0 1-.1 1 .2 1 0" fill="none" stroke="#141414" stroke-width="1.4" stroke-linejoin="round"/>
<path d="M419 441l4-.3 4 .4 3.7-.1 1-2.6 1-4.5 1-4.2 1-4.5 1-3.4 1-2.7 1-3.1 1-2.5 1-3.3 1-3.3 1-2 1-1.8 1-2.2 1-2.2 1-1.2 1-1.8 1-1.8 1-.7 1-1.5 1-1.3 1-1 1-1.8 1-1.2 1-.4 1-.8 1-.7 1-.5 1-.6 1-.8 1-.8 1-.8 1-.5 1-.6 1 .1 1-.9 1-.9 1-.3 1-.7 1 .5 1-.2 1-.1 1-.6 1-.9 1-.2 1-.2 1-.1 1-.4 1-.1 1 .3 1-.2 1-.6 1-.3 1-.5 1-.6 1-.4 1 .4 1-.5 1 .1 1 .4 1-.8 1-.2 1 .5 1 .2 1-.3 1 .4 1 .6 1-1.2 1-.7 1 .1 1-.9 1 0 1 .8 1-.1 1-.6 1 .5 1 .3 1-.6 1 .4 1 .1 1-1 1-.7 1 0 1 .4 1 .5 1 .1 1-.4 1-.8 1 .2 1 .4 1-.8 1-.6 1 .5 1 .5 1 .1 1-.6 1 .3 1-.3 1-.8 1 1.1 1 .4 1-.9 1-.3 1 .8 1 0 1-.9 1 .3 1-.3 1-.7 1 .2 1-.3 1 .3 1 .3 1-.4 1-.2 1 .9 1-.1 1-.3 1 .1 1-.5 1-.4 1 .3 1 .2 1 .8 1 .4 1-1 1-.9 1-.2 1-.8 1 .9 1 1 1-1.3 1-.2 1 1.6 1 .2 1-.8 1-.1 1-.5 1-.6 1 0 1 .4 1 .2 1 .2 1 .8 1-.1 1-.4 1-.4 1-.8 1 .9 1 .8 1-.4 1-.5 1-1.1 1 .6 1-.2 1-.6 1 .6 1 .1 1 .5 1 .3 1-1.2 1 0 1 .1 1-.1 1 .5 1-.7 1-.1 1-.1 1 .2 1 .9 1 .3 1-.4 1 .1 1 .2 1 .4 1-.1 1-1 1-.4 1-.1 1 0 1 .3 1 .3 1 .4 1-.3 1-.2 1-.3 1-.4 1-.7 1-.1 1 .8 1 1.3 1-.4 1-1 1 .4 1-.6 1 .2 1 .6 1-.7 1-.9 1 .5 1 .4 1 .2 1 .5 1-.1 1 0 1 .4 1 .4 1 0 1-.3 1-1 1-.6 1 .2 1 .7 1-.1 1 .8 1 .3 1-.8 1 0 1-.7 1 .4 1 .8 1-.1 1-.6 1-.4 1 .4 1 .4 1-.5 1-.2 1 1 1-.4 1-.8 1 .6 1 .4 1 0 1 .2 1-.1 1-.3 .8 98.9 .7-3.5 1-4.1 1-3.3 1-2.7 1-2.1 1-1.7 1-1.3 1-1.1 1-.9 1-.7 1-1.1 1 .3 1-.7 1 0 1-.5 1 .4 1-.7 1 .2 1 0 1-.4 1 0 1-.1 1-.3 1 .6 1-.6 1-.2 1 .2 1 .2 1 0 1-.1 1-.1 1-.4 1 .7 1 .3 1-.7 1-.2 1 .6 1-.2 1-1 1 .8 1-.2 1 .1 1 .8 1-.2 1-.3 1 0 1 .4 1-.7" fill="none" stroke="#141414" stroke-width="1.4" stroke-linejoin="round"/>
<path d="M419 441.2l4-.4 4 .4 3.7-.2 1-2 1-3.7 1-3.4 1-3.1 1-3.2 1-3.2 1-2.8 1-2.3 1-2.4 1-2.5 1-1.6 1-1.8 1-2 1-1.8 1-1.6 1-1.4 1-1.6 1-2.1 1-.8 1-.9 1-1 1-.6 1-.5 1-.6 1-1.8 1-.9 1-1.4 1-.9 1-.4 1-.7 1-1.2 1-1.3 1 .4 1 .2 1-.9 1-.5 1-.5 1-.6 1 0 1-.2 1-.4 1-.5 1-1.2 1-.3 1 .2 1-.4 1-.4 1 0 1 .2 1 .2 1-.1 1-.8 1-.5 1 .5 1-.2 1-.7 1-.6 1 .2 1 .2 1-.1 1-.3 1 .2 1-.1 1-1.3 1-.1 1 .5 1 .3 1-.5 1-.8 1 0 1-.1 1-.8 1 .3 1 1.1 1-.6 1-.9 1 .1 1 0 1 .2 1 0 1-.2 1-.3 1-.8 1-.2 1-.1 1 .7 1 .7 1-.2 1-.3 1-.9 1 .2 1 .3 1 0 1 1.3 1-.5 1-.7 1 .1 1-.8 1-.7 1 .2 1 .4 1 .5 1 0 1 0 1-.3 1-1 1 .2 1 .4 1-.6 1 .4 1 .1 1-.7 1 .4 1-.2 1 .1 1 .5 1-.1 1-.1 1-.4 1-.4 1 .3 1 .8 1 .1 1-.4 1 0 1 .4 1-.9 1-.6 1 .9 1-.2 1-.7 1 .4 1 .1 1 .2 1-.1 1-.2 1 1 1 .2 1-1.5 1-.9 1 .1 1 .4 1-.2 1 .2 1 1.2 1 .3 1-.9 1-.8 1 .2 1-.3 1 .8 1 0 1-1.1 1 .4 1 .5 1 .4 1 .5 1-.7 1-1.4 1 .3 1 1.1 1 .4 1-.9 1-1.2 1 1.2 1 1 1-.1 1-.6 1-.1 1-.2 1-1 1 .2 1 .5 1 .3 1 .4 1-1 1-.3 1 .8 1-.6 1-.3 1 .5 1 .2 1-.3 1-.5 1-.1 1 .4 1 .3 1-.4 1 .4 1 .1 1-.7 1 .5 1 .8 1-.3 1-.8 1 .3 1 .1 1-1.1 1 .2 1 1.3 1-.1 1-.5 1 .7 1-.2 1-.6 1-.1 1 .4 1-.3 1 0 1 .3 1-.2 1 0 1 .4 1-.4 1-.3 1 .1 1 0 1-.1 1-.3 1 .1 1 .6 1 .2 1-.6 1 0 1 .5 1-.5 1-.1 1 .3 1-.3 1 .1 1 .1 1-1 1 .2 1 .4 1-.1 1 .6 .8 91.9 .7-3.2 1-3.8 1-3.1 1-2.5 1-1.9 1-1.6 1-1.2 1-1.1 1-.8 1-.6 1-.6 1-.5 1-.1 1-.2 1-.6 1-.1 1 .2 1 .1 1-.5 1 .2 1-.5 1 .2 1 0 1-.4 1 .3 1-.1 1-.6 1 .6 1 .1 1 0 1 0 1-.4 1 .1 1 .1 1-.1 1 .1 1 .4 1-.5 1 .1 1 .5 1-.4 1-.3 1 .3 1 0 1 0 1-.4 1 .5 1 0" fill="none" stroke="#141414" stroke-width="1.4" stroke-linejoin="round"/>
<path d="M419 441.5l4-.3 4-.3 3.7 .1 1-1.6 1-3 1-3 1-2.6 1-2.4 1-2.6 1-2.5 1-2.2 1-2.3 1-1.8 1-1.5 1-1.8 1-1.2 1-2 1-1.5 1-1 1-1.3 1-1.4 1-1.7 1-.7 1-.7 1-1.3 1-1.4 1-.5 1-.7 1-1.2 1-.9 1-.6 1-.3 1-.7 1-.8 1-.8 1-.1 1 .2 1-1.1 1-1.3 1-.2 1-.7 1-.4 1 .1 1-.4 1 .1 1 .2 1-.7 1-1 1-.2 1 .2 1-1 1-.8 1 0 1-.5 1-.6 1 .9 1-.3 1-.5 1 0 1-.2 1 .2 1-.2 1-.7 1-.4 1 .1 1 0 1 .3 1-.4 1-.4 1-.2 1 0 1-.3 1-.3 1-.2 1-.3 1 .4 1-.2 1 0 1 .6 1-1.1 1-1 1 .5 1 .2 1-.1 1 .6 1 0 1-.5 1-.2 1 .4 1-.1 1 0 1 .8 1-.8 1-.7 1 .7 1-.4 1-.5 1 .5 1-.6 1-.3 1 .4 1-.4 1 .4 1 .1 1 .2 1 .3 1-1.1 1-.2 1-.1 1 .2 1 .4 1-.7 1-.5 1 .6 1 .1 1-.6 1 .4 1 .7 1-.9 1 0 1-.2 1-.6 1 .4 1-.2 1 .3 1-.3 1-.1 1 .9 1 .2 1-.1 1 .1 1-1.1 1 .3 1 .8 1-.4 1-.5 1-.4 1-.3 1 .1 1 .4 1 0 1-.2 1-.6 1-.2 1 .3 1 .4 1 .1 1-.3 1 .1 1 0 1-.1 1 .5 1 0 1-.7 1 .2 1 .6 1 0 1-.8 1 .1 1 .5 1-.3 1 0 1 0 1 .2 1 .3 1-.1 1-.6 1 .2 1-.1 1 .2 1 .1 1-.2 1-.2 1 0 1 .4 1-.6 1-.4 1 .3 1-.3 1-.4 1 .6 1 .5 1 .3 1-.6 1-.6 1-.3 1 .7 1 .2 1-.7 1 1.1 1 .6 1-1 1 .3 1 .4 1-1.1 1-.1 1 .6 1 .1 1-1 1 .4 1 .2 1-.7 1 1 1 .2 1-.5 1-.3 1 .2 1 .6 1-.4 1-.3 1 0 1-.3 1-.5 1 .2 1 1 1-.1 1 0 1 .1 1 .1 1-.1 1-.5 1-.2 1 .1 1 .3 1-.3 1-.2 1-.2 1-.4 1 .7 1 .6 1 0 1 0 1-.3 1 .6 1-.4 1-.5 1 .8 1 .6 1-.3 .8 83.2 .7-3 1-3.5 1-2.8 1-2.2 1-1.8 1-1.4 1-1.2 1-.9 1-.7 1-.6 1-.5 1-.6 1-.1 1-.2 1-.2 1 0 1-.1 1-.4 1-.2 1 .1 1 .1 1 .3 1-.8 1 .6 1-.4 1 .3 1 .2 1-.3 1-.4 1 .1 1 .2 1-.1 1 0 1-.2 1 .2 1-.1 1 .3 1-.1 1 .1 1-.6 1 .3 1-.1 1 .1 1-.1 1 0 1 .6 1-.5 1-.2" fill="none" stroke="#141414" stroke-width="1.4" stroke-linejoin="round"/>
<path d="M419 440.9l4 .6 4-.3 3.7-.2 1-1.2 1-2.3 1-2.1 1-2.3 1-2.2 1-1.6 1-1.9 1-1.8 1-1.3 1-1.4 1-1.3 1-1.5 1-1.6 1-1.1 1-1 1-1.3 1-1.5 1-.9 1-.7 1-1 1-1 1-.6 1-1 1-1.4 1-.9 1-.5 1-.2 1-.9 1-.4 1-.6 1-1 1-.4 1-.3 1-.6 1-.5 1-.3 1-1.3 1-.5 1-.1 1 .2 1-.4 1-.9 1 .4 1-.3 1-1.1 1-.6 1-.5 1 0 1 .5 1-.5 1-.9 1 0 1 0 1-.3 1-.1 1-.2 1-.4 1 .1 1-.7 1-.8 1 .3 1-.2 1 .3 1-.4 1-.4 1 .7 1-.3 1-.1 1-.4 1-.5 1 .5 1 0 1-1 1-.4 1-.2 1 .4 1 .7 1-.3 1-.4 1-.1 1 .1 1 .3 1 0 1 .2 1-.8 1-.4 1-.1 1-.1 1 .6 1-.1 1 0 1-.3 1-.6 1 .3 1-.1 1-.1 1-.1 1-.2 1 .3 1-.4 1-.2 1 .4 1 .1 1-.2 1-.2 1-.2 1-.3 1-.3 1 .8 1 .3 1-.4 1-.2 1-.4 1 0 1 0 1-.4 1 .6 1-.1 1-.4 1 .2 1 .1 1 .5 1-.6 1-.6 1 .7 1-.1 1-.3 1-.2 1 0 1 .4 1 .5 1-.1 1 0 1-.1 1-1 1 .2 1-.1 1-.3 1 .6 1-.4 1-.1 1 .2 1 .1 1 0 1 .2 1-.1 1 0 1 .1 1-.1 1 0 1-.3 1 .3 1 .3 1-1 1-.6 1 1.2 1 .3 1 .3 1 .2 1-.7 1-.3 1-.3 1 .2 1 .3 1 0 1-.3 1-.3 1-.2 1 .2 1 0 1-.1 1-.3 1 .1 1-.4 1-.4 1 .5 1 .6 1 0 1-.5 1 .4 1 .3 1 .2 1 0 1-.7 1-.1 1 .8 1 .6 1-.5 1-.2 1-.5 1 .1 1 .5 1-.4 1-.2 1 .1 1-.1 1-.2 1-.3 1 .6 1 .1 1-.5 1 .5 1 .4 1 .2 1-.6 1-.6 1 .1 1-.4 1 .3 1 0 1-.3 1 .8 1 .3 1-.5 1 .1 1 .4 1-.8 1-.4 1 .7 1 .2 1-.3 1-.1 1 .7 1 0 1-.4 1-.3 1-.2 1 .7 1-.3 1-.5 1 .7 1 .2 1-.3 1-.4 1 .2 1-.1 .8 72.5 .7-2.5 1-3 1-2.4 1-2 1-1.5 1-1.2 1-1 1-.8 1-.7 1-.5 1-.6 1-.3 1-.1 1-.1 1 .1 1 0 1-.2 1-.3 1-.2 1-.6 1 .4 1-.1 1 .2 1-.4 1 .1 1 0 1 .3 1-.1 1-.3 1-.2 1 .3 1-.1 1 .1 1 .1 1 .2 1 0 1-.4 1 0 1 .5 1-.4 1 .3 1-.2 1 .1 1 .3 1-.5 1 .4 1-.2 1-.1" fill="none" stroke="#141414" stroke-width="1.4" stroke-linejoin="round"/>
<path d="M419 440.9l4 0 4 .4 3.7-.3 1-.8 1-1.7 1-1.6 1-1.6 1-1 1-1.5 1-1.6 1-1.2 1-1.3 1-1.2 1-1.1 1-1.3 1-1.2 1-.6 1-1 1-.5 1-1.1 1-1.4 1-.8 1-.6 1-.5 1-1.1 1-.5 1-.4 1-.5 1-.5 1-.9 1-1 1-1 1-.5 1 .2 1-.4 1-1 1-.3 1-.1 1 .2 1-.9 1-1.1 1-.5 1-.4 1 .1 1-.2 1-.9 1 0 1 .5 1-.4 1-1 1-.8 1 .3 1-.2 1-.8 1-.3 1 .4 1 0 1-.8 1-.2 1-.4 1-.3 1 .3 1-.1 1-.1 1-.3 1-.4 1 .4 1-.6 1-.3 1 0 1-.6 1-.1 1-.3 1-.1 1 0 1 .1 1 .7 1 .1 1-.7 1-.6 1 .7 1 .3 1-.5 1-1 1-.4 1 1.1 1 .2 1-.9 1-.2 1 .8 1 .2 1-1.1 1-.8 1 .3 1 .7 1-.3 1-.6 1-.6 1-.1 1 .8 1 .3 1-.6 1 0 1 .1 1-.7 1 .3 1-.1 1-.3 1 .1 1 .1 1 .2 1-.1 1-.3 1-.1 1-.5 1 .1 1 1.2 1 .1 1-.3 1-.1 1-.4 1 .1 1 .2 1 0 1-.4 1-.2 1-.3 1 .3 1 .4 1-.4 1-.4 1 .2 1 .6 1 0 1 0 1-.4 1-.1 1 .2 1-1 1 0 1 .5 1-.2 1 .1 1-.2 1 .5 1 0 1-.2 1 .3 1-.2 1-.5 1 .1 1 .3 1-.3 1 0 1 .7 1 .2 1 .1 1 .1 1-.4 1-.4 1-.4 1 .3 1 .1 1-.2 1 .7 1-.2 1-.9 1-.4 1 .4 1 .6 1 0 1-.4 1-.2 1 .1 1 .3 1 .1 1-.3 1-.1 1-.1 1-.4 1 .2 1 .2 1 .2 1-.6 1-.2 1 .6 1-.4 1 0 1 .6 1-.1 1-.3 1 .3 1 0 1 .1 1 .3 1-.2 1 .1 1 .2 1-.4 1 0 1-.1 1-.2 1 .4 1-.1 1-.5 1-.4 1 0 1 .3 1 .4 1 .2 1-.5 1-.1 1 .8 1-.1 1-.3 1 .2 1 .5 1 .1 1 0 1-.8 1 0 1 .3 1-.2 1-.1 1-.2 1 0 1-.2 1 .8 1-.3 1-.3 1 .4 1-.6 1 .3 1 .4 1-.6 1 .1 1-.1 1 .4 1-.2 .8 60.4 .7-2.1 1-2.5 1-2 1-1.6 1-1.3 1-1.1 1-.8 1-.6 1-.6 1-.4 1-.4 1-.7 1 .4 1-.1 1-.1 1 0 1-.4 1-.2 1 .3 1-.4 1 .2 1-.3 1-.1 1 .2 1 .3 1-.1 1-.2 1-.7 1 .7 1 0 1 .1 1-.3 1 .4 1-.2 1-.5 1 .6 1 .2 1-.3 1-.3 1 .7 1-.2 1-.7 1 .7 1-.2 1 0 1-.5 1 0 1 .5" fill="none" stroke="#141414" stroke-width="1.4" stroke-linejoin="round"/>
<path d="M419 441.5l4-.4 4-.1 3.7 0 1-.6 1-1 1-1.1 1-1 1-.8 1-1.2 1-1 1-1 1-.9 1-1 1-.8 1-.8 1-.5 1-.5 1-1.3 1-.6 1-.4 1-.8 1-.6 1-.7 1-.7 1-.4 1-.5 1-.6 1-.6 1-.9 1-.4 1 .2 1-.6 1-.5 1-.4 1-.4 1-.5 1-.4 1-.5 1-.6 1-.1 1 0 1-.5 1-.2 1-.3 1-.4 1-.1 1-.2 1-.6 1-.7 1-.4 1-.2 1 .1 1-.9 1 .1 1 .4 1-.4 1 0 1-.3 1-.6 1-.1 1 .1 1-.2 1-.4 1-.4 1-.1 1-.1 1 .2 1-.3 1-.2 1 .1 1-.3 1-.3 1-.6 1 .2 1 .4 1-.5 1-.1 1-.2 1-.2 1 .1 1-.4 1-.3 1 .4 1-.4 1-.5 1 .6 1 .8 1-.3 1-.5 1-.4 1 .1 1 .1 1-.4 1 .1 1-.3 1-.3 1 .1 1-.2 1-.2 1-.5 1-.1 1 .7 1 .5 1 0 1-.6 1-.2 1-.1 1-.3 1 .4 1 .2 1-.4 1 .1 1 .3 1-.1 1-.4 1 .1 1 0 1-.2 1-.6 1-.2 1 .5 1-.1 1 .5 1 .8 1 0 1-.9 1-.3 1 .3 1-.1 1-.5 1 .1 1 .8 1 0 1 .1 1-.4 1-.4 1 .4 1-.4 1-.4 1 0 1 .3 1-.2 1-.1 1 .1 1 .1 1 0 1-.3 1 .2 1-.2 1-.2 1 .1 1 0 1 .1 1-.1 1 0 1 .1 1-.3 1-.2 1-.3 1 0 1 .7 1 0 1 .3 1-.2 1-.5 1-.2 1 .4 1 0 1-.2 1 .4 1 .6 1 .3 1-.5 1-.4 1 .3 1-.1 1-.8 1 .3 1 .3 1-.5 1 .1 1 .4 1-.6 1 .2 1 .9 1-.4 1-.9 1 .2 1 .3 1 .1 1 .3 1-.2 1 .1 1-.5 1-.6 1 .6 1 .3 1-.1 1 0 1-.3 1-.8 1 .6 1 1 1-.3 1-.6 1-.2 1 .4 1 .3 1 .2 1 .3 1 0 1-.5 1-.1 1 .2 1-.2 1-.1 1-.1 1-.3 1 .1 1 .1 1-.1 1 .4 1 .2 1-.7 1-.4 1 .2 1 .2 1 .1 1 .2 1 .1 1-.2 1-.1 1-.3 1 .1 1 .3 1-.4 1-.1 1 .1 1 0 .8 49 .7-1.7 1-2 1-1.6 1-1.3 1-1 1-.9 1-.6 1-.6 1-.4 1-.3 1-.7 1 .1 1 .2 1-.1 1-.7 1 .6 1-.6 1 0 1 .1 1-.1 1 0 1-.1 1 .2 1-.2 1-.2 1-.1 1 0 1 .2 1 .2 1-.1 1-.2 1 .2 1-.3 1 .2 1 .1 1-.2 1 .4 1 0 1-.4 1 .2 1-.1 1 .1 1 0 1 .2 1-.2 1 0 1 .1 1 0" fill="none" stroke="#141414" stroke-width="1.4" stroke-linejoin="round"/>
<path d="M419 441.4l4-.6 4 .4 3.7-.2 1-.4 1-.7 1-.8 1-.6 1-.6 1-.6 1-.8 1-.4 1-.6 1-.8 1-.1 1-.6 1-.5 1-.2 1-.7 1-.6 1-.5 1-.4 1-.2 1-.3 1-.8 1-.5 1 0 1-.7 1-.3 1 0 1-.4 1-.5 1-.3 1-.1 1-.6 1-.6 1-.3 1 0 1-.1 1-.7 1-.4 1-.4 1 0 1 .1 1 0 1-.6 1-.6 1-.3 1-.2 1-.3 1 .3 1 .1 1-.5 1-.8 1 .2 1 .4 1-.4 1-.2 1-.3 1-.2 1-.1 1-.2 1-.1 1-.5 1-.3 1 .3 1 .3 1-.4 1-.5 1-.1 1 .1 1-.4 1 .1 1 0 1-.6 1 .1 1 .5 1-.3 1-.5 1-.2 1 0 1 .2 1-.1 1-.3 1 0 1 .2 1-.3 1-.3 1-.1 1-.1 1 .3 1-.2 1-.3 1 .4 1-.2 1-.2 1 .2 1-.5 1 0 1 .1 1-.3 1-.2 1-.4 1 .2 1 .7 1 .5 1 .2 1-.3 1-.4 1-.1 1-.2 1-.3 1-.3 1 .2 1 .1 1-.2 1-.4 1-.1 1 1 1-.1 1-.4 1 .4 1-.1 1-.5 1 .2 1 .2 1-.7 1-.2 1 .1 1 .6 1-.3 1-.7 1 .3 1 .2 1-.2 1-.4 1 .1 1 .3 1 .1 1-.2 1 0 1 .1 1 .1 1-.2 1-.2 1 0 1 .1 1 .3 1-.2 1 .1 1 0 1 0 1-.1 1-.4 1-.3 1-.1 1 .2 1-.2 1 0 1 .7 1 .1 1-.2 1 0 1-.1 1-.3 1 .3 1 .1 1 0 1-.1 1-.1 1 .4 1-.2 1 .1 1 .4 1-1 1 .3 1 .1 1 0 1 .1 1-1 1-.1 1 .5 1 .1 1-.2 1 .5 1-.1 1-.2 1 .5 1-.6 1-.5 1 .4 1 .3 1 0 1-.4 1-.3 1 .5 1 .4 1 .1 1-.2 1-.4 1-.2 1 0 1-.3 1 .6 1 .4 1-.6 1 0 1 .2 1 .2 1-.3 1 .2 1 .2 1-.3 1 0 1 .3 1 .1 1-.3 1 .1 1-.5 1 0 1 .3 1-.4 1 .2 1 .6 1 0 1-.5 1 .2 1-.5 1-.2 1 .7 1-.2 1 0 1 0 1-.5 1 .4 1 .4 1-.1 1 0 1-.4 1 .2 .8 35.5 .7-1.2 1-1.5 1-1.2 1-.9 1-.8 1-.6 1-.5 1-.3 1-.4 1-.2 1-.1 1-.2 1-.3 1-.3 1 .6 1-.2 1-.2 1-.3 1 .5 1-.6 1 0 1 .7 1-.4 1 .1 1-.1 1 .4 1-.5 1 0 1-.3 1 .2 1-.4 1 .3 1 .1 1 .2 1 .1 1-.5 1-.1 1 .4 1-.3 1 .6 1-.1 1-.5 1 .3 1 .2 1-.5 1 .1 1 .1 1 .3" fill="none" stroke="#141414" stroke-width="1.4" stroke-linejoin="round"/>
<path d="M419 441.1l4-.2 4 .2 3.7-.1 1-.2 1-.3 1-.4 1-.3 1-.4 1-.4 1-.3 1-.4 1-.4 1 0 1-.3 1-.4 1-.2 1-.3 1-.4 1-.2 1-.3 1-.2 1-.1 1-.3 1-.3 1-.2 1-.2 1-.6 1-.2 1 0 1-.4 1-.1 1-.2 1-.4 1-.3 1 0 1 0 1-.1 1-.3 1-.3 1 .1 1-.2 1-.3 1 .2 1-.3 1-.6 1 0 1-.1 1 .4 1-.2 1-.6 1-.1 1-.2 1 .1 1-.1 1-.1 1 .2 1-.3 1-.2 1-.2 1-.2 1 .2 1-.3 1-.3 1 .2 1 0 1-.2 1 .2 1-.2 1-.2 1 .3 1-.4 1-.5 1-.1 1 .1 1 .3 1-.5 1-.4 1 .1 1 .4 1 0 1-.4 1-.2 1 0 1 0 1-.2 1-.1 1-.1 1 .1 1 0 1 0 1 .2 1-.2 1-.1 1 .1 1-.3 1 0 1 0 1 0 1 .1 1-.1 1-.1 1-.4 1 0 1 .4 1-.1 1-.2 1-.2 1-.1 1 .3 1-.3 1-.3 1 .1 1 .3 1 0 1-.6 1 .1 1 .5 1-.1 1-.3 1 0 1 .3 1-.1 1-.3 1 0 1-.1 1-.4 1 .2 1 .2 1 0 1 .1 1 0 1-.3 1 0 1 0 1 0 1 0 1 .2 1-.1 1-.7 1 .2 1 .3 1-.2 1 .1 1 .4 1-.1 1-.4 1 .2 1 .4 1-.3 1-.3 1 .1 1-.1 1-.2 1-.1 1 .2 1 .4 1-.1 1 .1 1-.4 1-.3 1 0 1 .1 1 .6 1-.5 1-.4 1 .3 1-.1 1-.2 1 .1 1 .1 1 .1 1-.3 1 0 1 .2 1 .1 1 0 1 .2 1-.1 1-.2 1 .2 1-.1 1 .1 1 .2 1-.1 1-.3 1-.2 1 .3 1 .2 1-.2 1-.3 1-.1 1-.2 1 .4 1 .3 1-.1 1 .2 1-.1 1-.2 1-.2 1-.1 1 .2 1 .4 1 .1 1-.4 1-.3 1 .2 1 .2 1 0 1 0 1 .1 1 0 1 0 1 .1 1-.3 1-.3 1 .1 1 .3 1 0 1-.3 1-.4 1 .1 1 .7 1-.2 1-.4 1 .2 1 .3 1-.2 1-.2 1 .2 1-.2 1 0 1 0 1 0 1 .3 1 0 1-.4 1 .1 1 .4 1-.1 .8 22.1 .7-.7 1-1 1-.7 1-.6 1-.5 1-.4 1-.3 1-.2 1-.2 1-.2 1 .1 1-.4 1-.2 1 .1 1 .1 1 .1 1-.4 1 .2 1-.1 1-.1 1-.4 1 0 1 .7 1-.6 1-.1 1 .1 1 .2 1 .4 1-.2 1-.2 1 0 1 .2 1-.1 1-.4 1 .7 1-.1 1-.5 1 .2 1 .2 1 0 1-.2 1 .1 1 .4 1-.5 1 .3 1-.1 1-.4 1 .5" fill="none" stroke="#141414" stroke-width="1.4" stroke-linejoin="round"/>
<path d="M419 441.1l4 .2 4 .1 3.7-.4 1-.1 1-.1 1-.2 1-.2 1-.2 1-.1 1-.1 1-.2 1 0 1-.1 1-.2 1-.2 1-.1 1-.2 1-.2 1-.1 1-.1 1-.1 1 0 1-.3 1-.1 1 .1 1-.1 1-.3 1-.2 1-.2 1 0 1 0 1-.2 1 .1 1-.1 1-.3 1-.1 1-.1 1-.1 1 0 1-.1 1-.2 1-.1 1-.1 1 .1 1-.1 1-.1 1-.1 1-.1 1-.2 1 0 1 .3 1 0 1-.3 1-.2 1-.1 1 .1 1-.1 1 0 1 .1 1-.2 1-.1 1 0 1 .1 1-.2 1 0 1 0 1-.4 1 0 1 .2 1-.1 1 0 1 .1 1-.3 1-.2 1 .1 1-.1 1-.2 1 0 1 .2 1 .1 1-.1 1-.3 1 .1 1 0 1 0 1 .1 1-.2 1-.2 1 .1 1-.1 1 .2 1 .1 1-.3 1-.3 1-.1 1-.1 1 .1 1 .2 1-.1 1 .1 1 0 1-.2 1 .1 1-.1 1-.4 1-.1 1 .3 1 .4 1-.2 1-.3 1 .1 1-.1 1-.1 1-.1 1 .1 1-.2 1-.3 1 .2 1 .1 1 .3 1 0 1 .1 1 0 1-.4 1 0 1 .1 1 .1 1 .2 1 0 1-.4 1-.2 1 .2 1-.2 1-.1 1 .4 1-.1 1-.1 1 .2 1 .2 1 0 1-.1 1-.2 1-.3 1-.3 1 .4 1 .4 1-.4 1 0 1 .1 1-.2 1-.1 1 .3 1-.1 1-.4 1 .3 1 .2 1 0 1-.3 1-.1 1 0 1 0 1 .3 1 .1 1-.1 1-.2 1-.1 1 .1 1 .2 1-.1 1 .1 1 .3 1-.4 1-.3 1 .3 1-.1 1 .2 1 0 1-.2 1-.2 1 .1 1 .1 1-.1 1 0 1-.1 1 0 1-.1 1 0 1 .3 1 .2 1-.3 1 0 1 0 1-.2 1 .1 1 .2 1-.1 1 0 1 .1 1 .1 1-.2 1-.3 1 .2 1-.1 1-.2 1 .3 1 .2 1-.3 1-.2 1 .2 1 .1 1-.1 1 .1 1 .2 1 0 1 0 1-.2 1-.1 1 .1 1 0 1 0 1 .1 1 .1 1-.2 1-.4 1 0 1 .4 1 .1 1-.3 1 .1 1 .2 1-.2 1-.2 1 .1 1 .1 1-.1 1 .3 1 .3 1-.3 1-.1 .8 11.7 .7-.4 1-.5 1-.4 1-.3 1-.3 1-.2 1-.2 1-.1 1-.1 1-.1 1-.3 1 .4 1-.3 1-.1 1-.2 1 .5 1-.2 1-.2 1 .4 1-.3 1 .1 1-.2 1 .2 1-.4 1 .2 1 .1 1-.2 1 .1 1 .3 1-.3 1 .4 1-.2 1-.1 1-.4 1 .8 1 0 1-.3 1-.1 1 0 1-.1 1 0 1 .2 1-.5 1 .4 1 .1 1-.5 1 .2 1-.2" fill="none" stroke="#141414" stroke-width="1.4" stroke-linejoin="round"/>
<path d="M419 440.6l4 .5 4-.4 3.7 .3 1 0 1-.1 1 0 1-.1 1 0 1 0 1-.1 1 0 1 0 1-.1 1 0 1-.1 1-.1 1 0 1 0 1 0 1-.1 1 0 1 0 1-.1 1-.1 1 .1 1 0 1-.1 1 0 1 0 1-.1 1 0 1 .1 1-.1 1-.2 1-.1 1 .1 1 0 1-.1 1 0 1-.1 1 0 1 .1 1 0 1-.1 1-.1 1 0 1 0 1 0 1 .1 1-.1 1-.1 1 0 1-.1 1 .1 1-.1 1-.1 1 .2 1 0 1-.1 1 .1 1-.1 1-.1 1 0 1 .1 1-.1 1 0 1 .1 1-.2 1 0 1 0 1 0 1-.1 1-.1 1 .1 1-.1 1-.1 1 0 1 0 1 .1 1-.1 1 .1 1 .1 1 0 1-.1 1 .1 1 0 1-.2 1-.1 1 0 1 0 1 0 1 0 1 0 1 .1 1-.1 1-.1 1 0 1 0 1 .1 1-.1 1 0 1 0 1 0 1 0 1-.1 1 .2 1 .1 1-.1 1 .1 1-.2 1 .1 1 0 1-.1 1-.1 1-.1 1 .1 1 0 1 0 1 0 1 0 1 0 1 0 1 .1 1 0 1 0 1-.2 1 .1 1 .1 1-.1 1 0 1 .1 1-.2 1 0 1-.1 1 0 1 .1 1 0 1 .1 1-.1 1-.3 1 .1 1 .2 1 0 1 .1 1 0 1-.2 1 0 1 .2 1-.2 1 .1 1 .1 1-.2 1-.1 1 .2 1-.1 1-.1 1 .2 1-.1 1-.1 1 .1 1 0 1-.1 1 .1 1-.1 1-.1 1 .2 1-.1 1 .1 1 .1 1-.1 1-.1 1 0 1 0 1 0 1 0 1 0 1-.1 1-.1 1 .1 1-.1 1 0 1 .2 1-.1 1 0 1 0 1 0 1 .1 1 0 1-.1 1 0 1 0 1 0 1 .1 1-.1 1 .1 1 0 1-.1 1 .2 1 0 1-.1 1 .1 1-.1 1 0 1 .1 1-.1 1 0 1 0 1 0 1-.2 1 .1 1 0 1-.2 1 .2 1 .1 1 0 1-.1 1-.1 1 .2 1-.1 1-.1 1 .1 1 .1 1-.2 1-.1 1 .2 1 .1 1-.1 1-.1 1 0 1-.1 1 .1 1 .2 1 .1 1-.1 1 0 1 0 1 0 1-.1 1-.1 .8 4 .7-.2 1-.1 1-.2 1-.1 1-.1 1 0 1-.1 1 0 1-.1 1 0 1-.2 1 .4 1 .3 1-.1 1-.7 1 .2 1 0 1 .7 1-.8 1 .2 1 .2 1-.1 1-.5 1 .8 1-1 1 .6 1-.2 1-.2 1 .2 1 0 1-.2 1 .2 1 .1 1 0 1-.5 1 .4 1 .1 1 .3 1 0 1-.7 1 .3 1 .2 1 .1 1 .2 1-.5 1-.2 1 .3 1 .1" fill="none" stroke="#141414" stroke-width="1.4" stroke-linejoin="round"/>
<path d="M419 440.8l4 0 4 .4 3.7-.2 1 0 1 0 1 0 1 0 1-.1 1 0 1 0 1 0 1 0 1 0 1 0 1 0 1 0 1 0 1 0 1 0 1-.1 1 0 1 0 1 0 1 0 1 0 1-.1 1 .1 1 0 1 0 1 0 1 0 1-.1 1-.1 1 .1 1 0 1 0 1 0 1 0 1 0 1-.1 1 0 1 0 1 0 1 0 1 0 1 0 1-.1 1 0 1 .1 1-.1 1 .1 1 0 1-.1 1 .1 1 0 1-.1 1 0 1 .1 1-.1 1-.1 1-.1 1 0 1 .1 1 .1 1 0 1 0 1-.1 1 0 1 0 1 0 1 0 1 0 1 0 1 0 1 0 1 0 1-.1 1 0 1 0 1 .1 1 .1 1 0 1-.1 1 0 1 0 1-.1 1 .1 1-.1 1 0 1 0 1 0 1 0 1 0 1 0 1 0 1 .1 1-.1 1 0 1 0 1 0 1 0 1 0 1 0 1-.1 1 .1 1 0 1-.1 1 .1 1 0 1-.1 1 0 1 0 1 0 1 0 1 0 1 0 1 0 1 0 1 0 1 0 1 .1 1 .1 1-.1 1-.1 1 .1 1 0 1 0 1-.1 1 0 1 .1 1 0 1 0 1 0 1-.1 1 .1 1-.1 1 .1 1 0 1-.1 1 .1 1 .1 1-.1 1-.1 1 0 1 0 1-.1 1 .1 1 0 1 0 1 0 1 0 1-.1 1 0 1 0 1 .1 1 .1 1-.1 1-.1 1 0 1 0 1 0 1 0 1 0 1 .1 1 0 1-.1 1 0 1 0 1 0 1-.1 1 .2 1 0 1-.1 1 0 1 .1 1 0 1 0 1-.1 1 0 1 .1 1 0 1-.1 1-.1 1 0 1 0 1 .2 1 0 1-.1 1-.1 1 .1 1 0 1 0 1 .1 1 0 1 0 1-.1 1 0 1 0 1-.1 1 .1 1-.1 1 .1 1 0 1-.1 1 0 1 .1 1 0 1 0 1 0 1 0 1 0 1 0 1-.1 1 0 1 .1 1 0 1-.1 1 .1 1 0 1 0 1 0 1 0 1 .2 1-.1 1-.3 1 0 1 .1 1 .1 1 0 1 0 1 0 1 0 1 0 1 0 1 0 1-.1 1 0 1 .1 1-.1 .8 1.3 .7 0 1-.1 1 0 1-.1 1 0 1 0 1 0 1 0 1-.1 1 0 1 0 1 .2 1 0 1-.5 1 .8 1-.6 1 .2 1 .3 1-.6 1-.3 1 .8 1-.7 1 .4 1-.2 1 .7 1-.4 1 .4 1-.4 1-.2 1 .3 1-.5 1 .2 1 .3 1 0 1-.4 1 .2 1-.1 1-.2 1 .6 1-.6 1 .3 1 0 1 0 1-.8 1 .8 1-.2 1 .5 1-.7" fill="none" stroke="#141414" stroke-width="1.4" stroke-linejoin="round"/>
<line x1="419.0" y1="441.0" x2="716.0" y2="441.0" stroke="#141414" stroke-width="2.4"/>
<line x1="430.2" y1="422.0" x2="430.2" y2="464.0" stroke="#141414" stroke-width="1.4"/>
<line x1="667.5" y1="326.0" x2="667.5" y2="470.0" stroke="#141414" stroke-width="1.4"/>
<path d="M72 499.3l16.8 0 0-24.7 166.1 0 0 31.7 66.3 0 0-6.7 48.6 0" fill="none" stroke="#4a4a4a" stroke-width="1.3" stroke-linejoin="round"/>
<line x1="88.8" y1="501.2" x2="254.9" y2="501.2" stroke="#4a4a4a" stroke-width="1.3"/>
<path d="M747.9 334.6l0 50.6 59.8 0" fill="none" stroke="#4a4a4a" stroke-width="1.4" stroke-linejoin="round"/>
<line x1="989.9" y1="107.9" x2="989.9" y2="424.7" stroke="#000" stroke-width="2.3"/>
<line x1="974.4" y1="424.7" x2="1284.4" y2="424.7" stroke="#000" stroke-width="2.3"/>
<line x1="974.5" y1="424.7" x2="989.9" y2="424.7" stroke="#000" stroke-width="2.3"/>
<text x="947.8" y="433.7" font-size="30.18" textLength="16.30" lengthAdjust="spacingAndGlyphs">0</text>
<line x1="974.5" y1="379.6" x2="989.9" y2="379.6" stroke="#000" stroke-width="2.3"/>
<text x="948.1" y="388.6" font-size="30.18" textLength="16.30" lengthAdjust="spacingAndGlyphs">1</text>
<line x1="974.5" y1="334.5" x2="989.9" y2="334.5" stroke="#000" stroke-width="2.3"/>
<text x="948.3" y="343.5" font-size="30.18" textLength="16.30" lengthAdjust="spacingAndGlyphs">2</text>
<line x1="974.5" y1="289.4" x2="989.9" y2="289.4" stroke="#000" stroke-width="2.3"/>
<text x="948.0" y="298.4" font-size="30.18" textLength="16.30" lengthAdjust="spacingAndGlyphs">3</text>
<line x1="974.5" y1="244.3" x2="989.9" y2="244.3" stroke="#000" stroke-width="2.3"/>
<text x="947.7" y="253.3" font-size="30.18" textLength="16.30" lengthAdjust="spacingAndGlyphs">4</text>
<line x1="974.5" y1="199.2" x2="989.9" y2="199.2" stroke="#000" stroke-width="2.3"/>
<text x="948.0" y="208.2" font-size="30.18" textLength="16.30" lengthAdjust="spacingAndGlyphs">5</text>
<line x1="974.5" y1="154.1" x2="989.9" y2="154.1" stroke="#000" stroke-width="2.3"/>
<text x="948.0" y="163.1" font-size="30.18" textLength="16.30" lengthAdjust="spacingAndGlyphs">6</text>
<line x1="974.5" y1="109.0" x2="989.9" y2="109.0" stroke="#000" stroke-width="2.3"/>
<text x="948.3" y="118.0" font-size="30.18" textLength="16.30" lengthAdjust="spacingAndGlyphs">7</text>
<line x1="1062.3" y1="424.7" x2="1062.3" y2="440.0" stroke="#000" stroke-width="2.3"/>
<line x1="1215.7" y1="424.7" x2="1215.7" y2="440.0" stroke="#000" stroke-width="2.3"/>
<rect x="1017.0" y="357.0" width="37.0" height="67.7" fill="#b5b7d9" stroke="#000" stroke-width="2.3"/>
<rect x="1071.0" y="283.1" width="36.7" height="141.6" fill="#7461ab" stroke="#000" stroke-width="2.3"/>
<rect x="1170.2" y="155.9" width="36.3" height="268.8" fill="#fadcb1" stroke="#000" stroke-width="2.3"/>
<rect x="1224.0" y="322.3" width="36.4" height="102.4" fill="#f98c40" stroke="#000" stroke-width="2.3"/>
<line x1="1035.5" y1="354.5" x2="1035.5" y2="359.0" stroke="#000" stroke-width="2.2"/>
<line x1="1024.5" y1="354.5" x2="1046.5" y2="354.5" stroke="#000" stroke-width="2.2"/>
<line x1="1024.5" y1="359.0" x2="1046.5" y2="359.0" stroke="#000" stroke-width="2.2"/>
<line x1="1089.3" y1="270.0" x2="1089.3" y2="297.7" stroke="#000" stroke-width="2.2"/>
<line x1="1076.3" y1="270.0" x2="1102.3" y2="270.0" stroke="#000" stroke-width="2.2"/>
<line x1="1076.3" y1="297.7" x2="1102.3" y2="297.7" stroke="#000" stroke-width="2.2"/>
<line x1="1188.3" y1="140.2" x2="1188.3" y2="172.0" stroke="#000" stroke-width="2.2"/>
<line x1="1177.3" y1="140.2" x2="1199.3" y2="140.2" stroke="#000" stroke-width="2.2"/>
<line x1="1177.3" y1="172.0" x2="1199.3" y2="172.0" stroke="#000" stroke-width="2.2"/>
<line x1="1242.0" y1="319.4" x2="1242.0" y2="324.7" stroke="#000" stroke-width="2.2"/>
<line x1="1231.0" y1="319.4" x2="1253.0" y2="319.4" stroke="#000" stroke-width="2.2"/>
<line x1="1231.0" y1="324.7" x2="1253.0" y2="324.7" stroke="#000" stroke-width="2.2"/>
<circle cx="1022.0" cy="350.4" r="5.4"/>
<circle cx="1040.0" cy="348.5" r="5.4"/>
<circle cx="1019.9" cy="363.7" r="5.4"/>
<circle cx="1030.3" cy="359.7" r="5.4"/>
<circle cx="1040.0" cy="361.3" r="5.4"/>
<circle cx="1049.0" cy="359.7" r="5.4"/>
<circle cx="1076.5" cy="285.6" r="5.4"/>
<circle cx="1102.6" cy="291.4" r="5.4"/>
<circle cx="1076.5" cy="296.0" r="5.4"/>
<circle cx="1076.5" cy="305.8" r="5.4"/>
<circle cx="1089.3" cy="303.5" r="5.4"/>
<circle cx="1102.6" cy="303.5" r="5.4"/>
<circle cx="1089.3" cy="202.8" r="5.4"/>
<circle cx="1188.3" cy="124.7" r="5.4"/>
<circle cx="1175.4" cy="173.6" r="5.4"/>
<circle cx="1201.2" cy="171.0" r="5.4"/>
<circle cx="1242.0" cy="316.6" r="5.4"/>
<circle cx="1229.0" cy="329.2" r="5.4"/>
<circle cx="1255.3" cy="324.7" r="5.4"/>
<line x1="1035.5" y1="181.1" x2="1089.0" y2="181.1" stroke="#000" stroke-width="2.3"/>
<line x1="1188.5" y1="104.6" x2="1242.0" y2="104.6" stroke="#000" stroke-width="2.3"/>
<rect x="1324.3" y="214.2" width="31.4" height="13.1" fill="#b5b7d9" stroke="#000" stroke-width="2.1"/>
<rect x="1324.3" y="251.8" width="31.4" height="13.1" fill="#7461ab" stroke="#000" stroke-width="2.1"/>
<rect x="1324.3" y="289.4" width="31.4" height="13.1" fill="#fadcb1" stroke="#000" stroke-width="2.1"/>
<rect x="1324.3" y="327.0" width="31.4" height="13.1" fill="#f98c40" stroke="#000" stroke-width="2.1"/>
<line x1="49.4" y1="647.3" x2="786" y2="647.3" stroke="#777" stroke-width="2.4" stroke-dasharray="4.8 5.2"/>
<line x1="49.4" y1="678.4" x2="786" y2="678.4" stroke="#777" stroke-width="2.4" stroke-dasharray="4.8 5.2"/>
<line x1="49.4" y1="810.3" x2="786" y2="810.3" stroke="#777" stroke-width="2.4" stroke-dasharray="4.8 5.2"/>
<line x1="49.4" y1="857.9" x2="786" y2="857.9" stroke="#777" stroke-width="2.4" stroke-dasharray="4.8 5.2"/>
<line x1="49.4" y1="1006.3" x2="786" y2="1006.3" stroke="#777" stroke-width="2.4" stroke-dasharray="4.8 5.2"/>
<line x1="49.4" y1="1037.7" x2="786" y2="1037.7" stroke="#777" stroke-width="2.4" stroke-dasharray="4.8 5.2"/>
<line x1="49.4" y1="1186.2" x2="786" y2="1186.2" stroke="#777" stroke-width="2.4" stroke-dasharray="4.8 5.2"/>
<line x1="49.4" y1="1217.2" x2="786" y2="1217.2" stroke="#777" stroke-width="2.4" stroke-dasharray="4.8 5.2"/>
<path d="M49 639.6l.6 14.1 .7 2.5 .6-21.1 .7 4.9 .6 15 .7 1.2 .6-21.4 .7-1 .6 16.8 .7 17.2 .6-28.7 .7 1 .6 12.7 .7 24 .6-41.8 .7 2.9 .6 16.1 .7-1.7 .6-16.7 .7 3.7 .6 13.6 .7 1.6 .6-18.2 .7 5.3 .6 18.6 .7-7.4 .6-23 .7 7.7 .6 14.2 .7 5.6 .6-22.2 .7-5.4 .6 31.8 .7-4.5 .6-34.4 .7 16.9 .6 16.5 .7-2.5 .6-14.5 .7-5.4 .6 16.4 .7-2.1 .6-15.5 .7 4.4 .6 39.1 .7-27.1 .6-12.9 .7-2.8 .6 17.4 .7-2.4 .6-17.5 .7 4.5 .6 11.3 .7 2.4 .6-20.2 .7 5.6 .6 16 .7 4 .6-19.6 .7 2.5 .6 16 .7 1.1 .6-15.9 .7-.1 .6 22.8 .7-6.7 .6-15.5 .7 .1 .6 18.9 .7 5.2 .6-33.2 .7 2.7 .6 29.1 .7-5.8 .6-15.7 .7-.5 .6 14.4 .7 .7 .6-15.4 .7 .1 .6 22.9 .7-8.9 .6-15.8 .7 3 .6 21.1 .7-9.5 .6-16.1 .7-.6 .6 41.6 .7-20.9 .6-22.6 .7 1 .6 14.7 .7 27.9 .6-42.2 .7 4.2 .6 14.3 .7 3.3 .6-21.6 .7 7.9 .6 12.9 .7 .1 .6-11.9 .7-1.3 .6 41.1 .7 .9 .6-42.3 .7-5 .6 18 .7 .9 .6-34.5 .7 16.9 .6 16.8 .7-4.6 .6-17.4 .7 3.9 .6 13.9 .7 2.2 .6-22.5 .7 5.1 .6 37.7 .7-19 .6-17.5 .7 1.2 .6 19 .7-2.9 .6-16.6 .7-2.8 .6 17.9 .7-2.3 .7-14.2 .6 2.7 .7 12.8 .6-.1 .7-14.8 .6 2.7 .7 14.4 .6-1.4 .7-17.3 .6 1 .7 24.9 .6-6.8 .7-13.9 .6-2.6 .7 29.9 .6-12.1 .7-13.6 .6-2.7 .7 16.8 .6-1.2 .7-16.8 .6-4.6 .7 20.2 .6 2.7 .7-23.3 .6 2.5 .7 19.6 .6-3.7 .7-21.1 .6 8.4 .7 12.1 .6-.3 .7-17.6 .6 6 .7 12.7 .6 .8 .7-20.2 .6 4.1 .7 15.4 .6 23.5 .7-42.1 .6-.2 .7 29.4 .6-5.2 .7-20.4 .6-.9 .7 16.8 .6 8.2 .7-22.4 .6-.1 .7 18.7 .6 4.8 .7-23.2 .6-4.3 .7 15.9 .6 9.1 .7-28.5 .6 10.1 .7 18.6 .6-5.7 .7-12.2 .6-2.6 .7 19.4 .6-6.6 .7-14.4 .6 1.6 .7 15.8 .6-4.5 .7-17.1 .6 4.5 .7 15.9 .6 2.2 .7-28.7 .6 10.6 .7 14.3 .6 1.6 .7-22.2 .6 .3 .7 18.9 .6 2.5 .7-17.2 .6 1.6 .7 20.8 .6-1.4 .7-22.3 .6 2.7 .7 51.4 .6-37.4 .7-13.4 .6 3.5 .7 14.5 .6 1.2 .7-15.4 .6 1.7 .7 20.4 .6-10.2 .7-21.6 .6 4.7 .7 14.8 .6-1.2 .7-19.6 .6 12.1 .7 13.7 .6 .8 .7-16.3 .6-1.4 .7 13.3 .6 2.9 .7-27.2 .6 9.7 .7 60.6 .6-46 .7-24.8 .6 7.6 .7 16.3 .6-1.9 .7-11.4 .6-6 .7 20.2 .6 4.8 .7-16.2 .6-2.2 .7 14.2 .6-.9 .7-14.7 .6 .4 .7 14 .6-3.7 .7-17.4 .6 2.3 .7 16.5 .6-.5 .7-15 .6 2.5 .7 13.8 .6 3.2 .7-16.2 .6 2.2 .7 13.6 .6 10 .7-27.5 .6 5.5 .7 19.4 .6-.4 .7-16.3 .6-3.7 .7 29.4 .6-17.3 .7-13.3 .6-7.8 .7 20.2 .6 5.3 .7-25.3 .6-1.7 .7 16.8 .6 1.4 .7-15.6 .6-7 .7 24.4 .6 4.7 .7-18.8 .6 0 .7 40.6 .6-24 .7-18.6 .6 1.4 .7 37.7 .6-18.9 .7-20.3 .6 .9 .7 32.3 .6-11.6 .7-13.4 .6-4.7 .7 36.7 .6-22.9 .7-13 .6-6 .7 22.1 .6 3.1 .7-13.3 .6 1.3 .7 13.5 .6 19.4 .7-32.1 .6-2.8 .7 14.9 .6-4.7 .7-12.1 .6-14.3 .7 27.4 .6 5.5 .7-19 .6 .9 .7 15.9 .6-4.2 .7-13.9 .6-8.7 .7 30.7 .6-11.7 .7-13.4 .6-10.2 .7 38.7 .6-15.5 .7-13.8 .6-.6 .7 14.9 .6 4.6 .7-17 .6 .4 .7 19.4 .6-3.7 .7-14 .6-9.4 .7 29.6 .6-5.4 .7-14.1 .6-.4 .7 20 .6 23.9 .7-47.5 .6 1.3 .7 21 .6-9.1 .7-11.7 .6-2.3 .7 18.9 .6 .5 .7-24.3 .6 6.8 .7 19.7 .6-5.1 .7-18.3 .6 1.7 .7 17.6 .6-1.3 .7-18.6 .6 1.7 .7 22.7 .6-8.5 .7-18.8 .6 5 .7 19 .6-4.6 .7-12.4 .6-3 .7 26.3 .6-11 .7-17.9 .6 2.4 .7 14 .6 10.8 .7-27.9 .6 5.2 .7 31.8 .6-15.5 .7-20.4 .6 4.6 .7 11.5 .6 .6 .7-12.9 .6-1.2 .7 14.4 .6 6.6 .7-17.9 .6-5.5 .7 25.9 .6 5.2 .7-28.7 .6-6 .7 21.3 .6 13 .7-27.4 .6 .8 .7 24.7 .6 33.5 .7-69.5 .6 11.3 .7 24.9 .6-7.5 .7-13.3 .6-3.1 .7 17.5 .6-.7 .7-19.3 .6 2.4 .7 19.2 .6-3.9 .7-15.4 .6 2 .7 11.6 .6 .1 .7-16.6 .6 4.4 .7 45.6 .6-32.6 .7-20.7 .6 5.3 .7 14.3 .6 2.3 .7-12.6 .6 .4 .7 15.9 .6-1.9 .7-15.2 .6-1.9 .7 20 .6 1.1 .7-25 .6 3.8 .7 15.6 .6-3.4 .7-12 .6-9.1 .7 22.6 .6 2.6 .7-19.2 .6-2.5 .7 17.2 .6 .9 .7-15.7 .6-3.1 .7 16.6 .6 7.8 .7-30.9 .6 7.7 .7 14.7 .6 .5 .7-20.6 .6 13.1 .7 27.5 .6-3.4 .7-22.1 .6 .3 .7 23.9 .6-13.5 .7-14.5 .6-3.2 .7 14.1 .6 3.1 .7-17.1 .6 .2 .7 17.7 .6 2.8 .7-19.5 .6-3.5 .7 17.6 .6 7.2 .7-23 .6 3.1 .7 12.1 .6-1.7 .7-12.5 .6-3.9 .7 23.1 .6-5.4 .7-13.8 .6 1.6 .7 14.2 .6 .8 .7-16.5 .6 6.1 .7 17.7 .6 5.3 .7-23.3 .6-1.2 .7 18.5 .6-5.4 .7-12.7 .6-2.7 .7 18.8 .6 5.1 .6-21.8 .7-2.9 .6 18.3 .7-.1 .6-14 .7 1 .6 14.8 .7-.2 .6-15.8 .7 1.9 .6 20.4 .7-3.7 .6-19.9 .7-10.3 .6 24.5 .7 .2 .6-13.6 .7-.5 .6 13.5 .7 .3 .6-21.3 .7 2.3 .6 17.6 .7-2.1 .6-19.2 .7 3.6 .6 15.7 .7 3 .6-15.6 .7-3.1 .6 24.2 .7 6.1 .6-25.6 .7-7.4 .6 18.9 .7-1.6 .6-12.9 .7-.2 .6 12.4 .7-.9 .6-12.2 .7-1.4 .6 50.2 .7-34.2 .6-17 .7 .6 .6 22.5 .7 .8 .6-18.8 .7-5 .6 18.3 .7-.1 .6-13.6 .7 33.8 .6 19.5 .7-2.1 .6-19.4 .7 3.2 .6 12.3 .7-.2 .6-13.1 .7 .1 .6 17.5 .7-1.6 .6-18.5 .7-6.8 .6 19.9 .7 .7 .6-14.3 .7 3.5 .6 13.8 .7 2.8 .6-22.4 .7 3.1 .6 14.1 .7-.5 .6-12.6 .7-2.4 .6 14.3 .7 7.6 .6-23.7 .7-30.6 .6 16.1 .7 6.8 .6-26.9 .7 1.2 .6 17.7 .7 22.2 .6-35.5 .7-2.3 .6 12.7 .7 .4 .6-26.3 .7 10.6 .6 14.9 .7 1.1 .6-13.1 .7 .8 .6 30.1 .7 30.9 .6-59 .7 1.8 .6 15.5 .7 5.1 .6-16.4 .7-4.6 .6 14.7 .7 .3 .6-18.6 .7-1.1 .6 20.4 .7 1.2 .6-25 .7 2.4 .6 12.3 .7 1.8 .6-15.8 .7 1.3 .6 16 .7 4.7 .6-20 .7 6 .6 13.2 .7 .1 .6-17.6 .7 5.1 .6 14.1 .7 55 .6-67 .7-11.2 .6 20.2 .7-3 .6-15.6 .7-1.4 .6 21.9 .7-1.9 .6-12.8 .7-.3 .6 22.8 .7-9.4 .6-17.6 .7 .2 .6 20.8 .7 1.3 .6-20.5 .7 5.2 .6 15.5 .7-1.3 .6-18.9 .7-2.3 .6 12.5 .7 .9 .6-14.9 .7-1.4 .6 17.6 .7 10 .6-22 .7 1 .6 14.5 .7 4.2 .6-17.3 .7-.5 .6 16.7 .7 .4 .6-17.4 .7-.1 .6 18.7 .7-4.5 .6-13 .7-6.7 .6 23.5 .7-2.3 .6-13.6 .7-.2 .6 38.7 .7-27.1 .6-12.5 .7-4.2 .6 17.2 .7-1.2 .6-18.4 .7 3.8 .6 13.5 .7 1.8 .6-17.4 .7-7.6 .6 19 .7 1.9 .6-17.2 .7 1.9 .6 16.3 .7 4.5 .6-16.7 .7 .1 .6 14 .7 1.6 .6-13.4 .7-2.4 .6 20 .7-1.2 .6-15.9 .7-4.4 .6 13.2 .7 3.9 .6-20.5 .7 1.9 .6 31.7 .7-12.2 .6-13.6 .7 5.3 .6 22.6 .7-10.2 .6-17.1 .7-.3 .6 22.6 .7-14.8 .6-13.3 .7-.5 .6 15.9 .7-.1 .6-15.6 .7-7.5 .6 28.6 .7 .5 .6-17 .7-8.4 .6 22.4 .7-1.2 .6-14.9 .7-1.3 .6 24.7 .7-8.8 .6-16.1 .7-2.4 .6 21.5 .7-2.8 .6-18.4 .7 4.6 .6 21.8 .7-8.4 .6-14.2 .7 2.1 .6 26.4 .7-13.1 .6-18.8 .7 6 .6 41.5 .7-30.2 .6-17.1 .7 4.8 .6 11.5 .7 1.4 .6-14.5 .7-2.6 .6 29.8 .7-5.6 .6-19.6 .7-3.7 .6 38 .7-21.4 .6-14 .7-2.2 .6 16.4 .7 9.9 .6-28.4 .7 1.8 .6 18 .7-2 .6-13.5 .7-1 .6 14.3 .7-2.6 .6-16.4 .7 3.7 .6 15.1 .7 14.5 .6-38.7 .7 7.9 .6 19.9 .7-3.2 .6-15.8 .7-3.8 .6 25.5 .7-1.5 .6-19.4 .7-1.6 .6 25.6 .7-3.8 .6-21.7 .7 5.2 .6 12.9 .7 2.8 .6-15.4 .7-7 .6 22.8 .7-2.8 .6-16 .7-5.4 .6 26.7 .7-7.5 .6-13.2 .7-1.2 .6 14.8 .7 6.9 .6-24.7 .7-2.2 .6 17.3 .7 8.1 .6-22 .7-4 .6 28.2 .7-7.9 .6-15.3 .7-5.6 .6 22.8 .7-1 .6-15.9 .7 5.2 .6 12.9 .7 44.5 .6-24.1 .7-2.3 .6 16.4 .7 6.1 .6-22.6 .7-1.1 .6 13.8 .7 4.4 .6-21.5 .7-2.9 .6 18.2 .7 2.3 .6-14.6 .7-2.1 .6 15.1 .7-4.3 .6-13.5 .7 .6 .6 12.3 .7 .2 .6-12.9 .7 .2 .6 16 .7-4.6 .6-17.6 .7-.9 .6 20.5 .7 4 .6-18.3 .7 3.2 .6 15.3 .7 1.7 .6-16.5 .7-36.6 .6 29.3 .7-2 .6-20.1 .7-1.7 .6 14.7 .7-.5 .6-14.4 .7 32.1 .6 15.3 .7 2.6 .6-28.2 .7 2.2 .6 19.7 .7 .2 .6-18 .7 8.1 .6 12.9 .7-1.7 .6-19.2 .7-1 .6 22.8 .7-2.7 .6-15.8 .7-1.8 .6 18.8 .7-3.2 .6-12.6 .7 .2 .6 16.5 .7-3.5 .6-15.3 .7 2 .6 13.9 .7 6.4 .6-16.7 .7-1 .6 15.3 .7 2.4 .6-17.2 .7-3.1 .6 30.9 .7-17.8 .6-21.4 .7 7.6 .6 16.6 .7 3.4 .6-18.2 .7-2.4 .6 21.7 .7 21.7 .6-37.8 .7 .4 .6 16 .7-2.9 .6-12.6 .7-49.5 .6 36.4 .7-11.7 .6-15.9 .7 .5 .6 19 .7 0 .6-18.9 .7 5.5 .6 16.7 .7 12.3 .6-27.5 .7-1.8 .6 20 .7-2.7 .6-20.4 .7-9.6 .6 22.9 .7 1.1 .6-16.6 .7 2.4 .6 14 .7 4 .6-14.7 .7-2.4 .6 18.1 .7-3 .6-12 .7-1.5 .6 13.9 .7-1.8 .6-16.8 .7-.1 .6 25.2 .7 2.7 .6-20.3 .7-4.1 .6 17.4 .7-2.2 .6-15 .7-.5 .6 19.7 .7-4.9 .6-15.4 .7-.5 .6 17.7 .7 5 .6-20.2 .7 .3 .6 20.7 .7-7.9 .6-20 .7 .8 .6 20 .7 10 .6-29.5 .7 1.4 .6 16.4 .7-1.9 .6-19 .7 4.2 .6 14.8 .7 40.4 .6-19 .7-4.2 .6 20.3 .7 .2 .6-23.6 .7 5.7 .6 15.9 .7 5.7 .6-23.3 .7 2.1 .6 19.1 .7-.5 .6-17.6 .7-3.2 .6 17.4 .7-.5 .6-15.9 .7-1.7 .6 24.8 .7 .3 .6-22.5 .7-6.4 .6 29.1 .7 4.3 .6-36.1 .7 10.3 .6 17.4 .7-6.5 .6-12.8 .7-1.4 .6 12.7 .7 2.7 .6-13.9 .7 .8 .6 13.6 .7 8.7 .6-28.2 .7 47.5 .6-18.5 .7-2.8 .6-16.2 .7 .1 .6 14.3 .7 3.1 .6-16.4 .7-.5 .6 16.2 .7 7.4 .6-30.1 .7 3.3 .6 13.3 .7 6.1 .6-20.8 .7 2.7 .6 15.2 .7 .3 .6-15.2 .7-9.8 .6 25.9 .7-.1 .6-16.5 .7-1.9 .6 12.9 .7-2 .6-16.6 .7 4.5 .6 14.6 .7 3.8 .6-15.9 .7 3.2 .6 16.6 .7-1.7 .6-15.3 .7-5.1 .6 16.9 .7-4.8 .6-13.3 .7 .1 .6 12.6 .7 3.7 .6-15.5 .7 .1 .6 27.9 .7-6 .6-24.8 .7 6.4 .6 15.3 .7 2 .6-17.6 .7-2.4 .6 19.6 .7-1.6 .6-20.6 .7-3.7 .6 16.3 .7 5.8 .6-18.1 .7 1.1 .6 15.1 .7 4.5 .6-16.3 .7 .9 .6 14.9 .7-2.6 .6-12.1 .7-10.6 .6 25.1 .7-6.9 .6-11.5 .7-4 .6 16.2 .7 4 .6-21.1 .7 6.6 .6 16.2 .7-.1 .6-14.4 .7 3.2 .6 14.8 .7-1.2 .6-13.9 .7-7.8 .6 41.2 .7-56.5 .6-17 .7 5.5 .6 14.4 .7-1.1 .6-18.3 .7 4.1 .6 19 .7 1 .6-18.2 .7-6.3 .6 19.7 .7-1.3 .6-18.4 .7-.5 .6 20.2 .7-2.2 .6-15 .7 3.2 .6 11.7 .7 2.2 .6-15.6 .7-9.8 .6 23.5 .7 10.7 .6-29.3 .7 1.3 .6 17.6 .7-4.1 .6-13.4 .7-3.9 .6 15.6 .7-1.8 .6-12.1 .7-7.2 .6 21" fill="none" stroke="#000" stroke-width="2.2" stroke-linejoin="round" stroke-linejoin="miter" stroke-miterlimit="1.2"/>
<path d="M49 793.5l.6 19.7 .7-4.7 .6-11.9 .7 .8 .6 16 .7 8.2 .6-28.1 .7 7.8 .6 17.3 .7-4 .6-13.9 .7-.1 .6 14.1 .7 2.2 .6-17.6 .7 52.2 .6 17.9 .7-2.7 .6-15.7 .7 1.6 .6 18.9 .7-2.1 .6-13.9 .7 1.3 .6 17.6 .7-2.3 .6-19.9 .7-47 .6 12.6 .7 .3 .6-22 .7 .1 .6 13 .7 6.2 .6-21.5 .7-4.5 .6 61.1 .7-34.1 .6-23 .7-.9 .6 25.4 .7-5.7 .6-14.7 .7 .2 .6 16.1 .7 51.9 .6-16.8 .7-8.4 .6 23.4 .7 4.7 .6-24.2 .7 3.3 .6 20.1 .7-2.6 .6-12.6 .7-5.5 .6 24.1 .7-6.2 .6-13.1 .7-1.2 .6 25.6 .7-10.3 .6-12.7 .7-8.2 .6 22.7 .7-.7 .6-15.4 .7-1.3 .6 13.8 .7 9.9 .6-22.4 .7-1.2 .6 15.7 .7 6.7 .6-29.8 .7 7.9 .6 11.1 .7 2.5 .6-14 .7-2.5 .6 24.6 .7-7.7 .6-13.8 .7 1.6 .6 21.6 .7 6 .6-35.4 .7 12.4 .6 14.9 .7-1.4 .6-19.1 .7 5.2 .6 16.4 .7 6.3 .6-19.7 .7-2.1 .6 17.1 .7-5.5 .6-14.2 .7-53.3 .6 16.9 .7 7.3 .6-32.2 .7 7 .6 21.4 .7-6.8 .6-15.3 .7-6 .6 18.2 .7-.7 .6-18.4 .7 1.7 .6 16 .7-1.6 .6-14.8 .7 2.8 .6 13 .7 8.1 .6-18.9 .7-.2 .6 20.9 .7-7.9 .6-12.7 .7-10 .6 22 .7 .4 .6-19.2 .7 4.5 .6 12.8 .7 .4 .7-12.3 .6 .7 .7 15.8 .6 27.7 .7-43 .6-.6 .7 20.3 .6-1.2 .7-19.1 .6 1.1 .7 18.1 .6-.3 .7-11.8 .6-1.8 .7 48.3 .6-32.4 .7-17.1 .6-.5 .7 14.5 .6-.3 .7-17.3 .6-7.4 .7 58.1 .6-33.6 .7-17.6 .6 .3 .7 13.4 .6 3.7 .7-14 .6-3.2 .7 46.7 .6-31.6 .7-19.4 .6 3.8 .7 20.4 .6-9.3 .7-20.6 .6 7.6 .7 17.6 .6-.7 .7-13.8 .6-2.7 .7 14.5 .6 .9 .7-19.3 .6 4 .7 33.4 .6-16.4 .7-16.3 .6-.9 .7 19.6 .6 3.9 .7-18.6 .6-5 .7 33.1 .6-9.3 .7-18.4 .6-8.3 .7 52.3 .6-29.7 .7-14.7 .6-1.6 .7 16.2 .6-.8 .7-14.6 .6-3.3 .7 17 .6-.8 .7-18.8 .6-6.2 .7 24.9 .6-1 .7-16.5 .6 4.9 .7 13.2 .6 0 .7-14.6 .6 1.4 .7 15.4 .6 .3 .7-20.7 .6 8.4 .7 17.3 .6 5.2 .7-22.5 .6-3.2 .7 17.3 .6-.8 .7-21.9 .6 5.7 .7 16.3 .6-.2 .7-11.4 .6-5 .7 22.6 .6-9.3 .7-14.9 .6 1.4 .7 15.8 .6 32.4 .7-49.7 .6-3.4 .7 22.3 .6-8.9 .7-11.9 .6-2.9 .7 13 .6 2.7 .7-18.1 .6 2.1 .7 13.4 .6 13.4 .7-30.5 .6 8.7 .7 16.9 .6-4.4 .7-11.6 .6-.4 .7 12.3 .6-1.9 .7-19.7 .6 5.5 .7 16.8 .6-.3 .7-13.3 .6-.7 .7 11.8 .6 4.1 .7-18 .6-2.2 .7 15.5 .6 6.6 .7-30.3 .6 7.8 .7 17.1 .6 .8 .7-13 .6 1.2 .7 11.7 .6 54.2 .7-19.5 .6 3.1 .7 24 .6-4.5 .7-15.9 .6-19.8 .7 39.4 .6-51.5 .7-21 .6 .9 .7 38.6 .6-21.4 .7-14.1 .6-1.2 .7 16.7 .6-2.9 .7-13.8 .6-7.4 .7 17.6 .6 1.1 .7-14.5 .6-1.8 .7 51.1 .6-32.8 .7-18.7 .6 2.9 .7 17.4 .6-2.7 .7-11.8 .6-1.4 .7 20 .6-6.7 .7-16.5 .6 .5 .7 17.9 .6 43.5 .7-62.8 .6 0 .7 14 .6 4.2 .7-16.5 .6-.1 .7 24.9 .6-5 .7-48 .6 27.6 .7 17.6 .6-3.8 .7-12.5 .6-3 .7 21.5 .6-.8 .7-25.5 .6 1.5 .7 23 .6-7.3 .7-16.9 .6 .8 .7 16.7 .6 2.1 .7-11.3 .6-2.5 .7 14.9 .6 .9 .7-16.7 .6-1.5 .7 20.4 .6 5.9 .7-22 .6 0 .7 15.3 .6-.5 .7-13.6 .6-2.9 .7 13.5 .6 1.7 .7-28.9 .6 12.7 .7 26.3 .6-5.5 .7-19.2 .6 2.6 .7 17 .6-2.2 .7-18.5 .6-7.1 .7 24.1 .6-2.1 .7-16.9 .6-4 .7 21.6 .6-4.2 .7-20.7 .6 9 .7 48.2 .6-33.3 .7-23 .6 3.1 .7 22.8 .6-1 .7-11.7 .6-3.5 .7 21.2 .6 8.8 .7-27 .6-3.9 .7 16.5 .6 .2 .7-21.6 .6-1.9 .7 28 .6-7.9 .7-14.7 .6-7.5 .7 25.5 .6 4.6 .7-24.6 .6-1 .7 26 .6-9.6 .7-12.6 .6-2.6 .7 16.1 .6 2.3 .7-18.8 .6 1.7 .7 16.8 .6 2.8 .7-17.2 .6 2 .7 20 .6 41.2 .7-63.4 .6 1.5 .7 24.5 .6-7.5 .7-22.1 .6 2.5 .7 17.1 .6-1.4 .7-17.7 .6 2.7 .7 44.9 .6-18.7 .7-23.8 .6 2.2 .7 14.9 .6-3.4 .7-14.5 .6 .9 .7 23.3 .6-11.1 .7-17.3 .6-.8 .7 17.1 .6 3.2 .7-15.9 .6-1.3 .7 14.4 .6 10.7 .7-28.4 .6 1.8 .7 15.4 .6-1.2 .7-11.6 .6 .7 .7 17.1 .6 11 .7-27.4 .6-2.2 .7 17.5 .6-.2 .7-18.1 .6-.6 .7 18.6 .6-1.9 .7-17.1 .6 5.4 .7 13.7 .6 4 .7-18.1 .6-.2 .7 21 .6 39.9 .7-58.3 .6-4.2 .7 17.2 .6-2.4 .7-19.7 .6 2.6 .7 13.4 .6 1.7 .7-14.6 .6 1.6 .7 60.2 .6-44.6 .7-13.9 .6 1.4 .7 15.7 .6-4.4 .7-14.9 .6-7.5 .7 21.2 .6 15.3 .7-32.8 .6 7.8 .7 14.1 .6-1.3 .7-12.2 .6-.5 .7 14.2 .6-3 .7-12.5 .6-1.2 .7 11.9 .6 1.2 .7-13.5 .6-1.9 .7 13 .6 51.1 .7-63.2 .6 .5 .7 13.8 .6 4.5 .7-22.6 .6 4.9 .7 15.3 .6 14.9 .7-41.6 .6 7.8 .7 14.5 .6 3.5 .6-18.8 .7-1.6 .6 19.5 .7 2.9 .6-23.5 .7 5.3 .6 13.6 .7 3.6 .6-20.9 .7 3.6 .6 15.8 .7 7.9 .6-24.4 .7-.4 .6 15.5 .7 3.3 .6-22.7 .7 4.8 .6 17.4 .7-3.4 .6-15 .7 3.1 .6 20.8 .7-4.6 .6-17.1 .7-6.8 .6 26.7 .7-5.3 .6-17.7 .7-5.4 .6 27.4 .7-2.1 .6-21.1 .7 5.9 .6 16.7 .7-1.5 .6-18.4 .7-7.7 .6 24 .7-.8 .6-17.4 .7 .2 .6 15.7 .7 10.8 .6-23.8 .7 6.1 .6 25 .7-12.5 .6-11.4 .7-3.9 .6 14.9 .7-.2 .6-20.5 .7 2 .6 66.9 .7-55 .6-12.9 .7 1.5 .6 12.3 .7 1.1 .6-13.2 .7-1.4 .6 12.5 .7 57 .6-74 .7 4 .6 14.6 .7 3 .6-17.4 .7 3.7 .6 16 .7 3.9 .6-24.5 .7-23.9 .6 44.8 .7-1.7 .6-19.4 .7-4 .6 20.7 .7-.6 .6-17.1 .7 3.9 .6 13 .7 .1 .6-14.4 .7-7.9 .6 22.1 .7 .4 .6-21.6 .7 7.8 .6 15.8 .7 14.5 .6-31 .7-7.2 .6 25 .7 32.1 .6-53.7 .7-3.8 .6 22.2 .7-2.4 .6-13.4 .7-2.6 .6 19.1 .7-6.2 .6-12.8 .7-2.7 .6 18.3 .7 4.4 .6-16.9 .7 1.6 .6 12 .7 1 .6-11.7 .7 1.7 .6 11.6 .7 .7 .6-13.7 .7-2 .6 19.5 .7-5.7 .6-12.8 .7-2.2 .6 14.3 .7 35.1 .6-48.3 .7-4 .6 30.4 .7-2 .6-29.3 .7-.4 .6 21.1 .7 .8 .6-16.2 .7 1.9 .6 20.5 .7-6.1 .6-13.6 .7-11.6 .6 22.5 .7 2.9 .6-18.4 .7-3.9 .6 20.9 .7 2.1 .6-14.6 .7 .2 .6 15.1 .7 1.4 .6-16 .7-8.6 .6 25.9 .7-1.9 .6-19.3 .7 .9 .6 20.7 .7-1.9 .6-17.7 .7 1.1 .6 18.3 .7-3.7 .6-18.5 .7 2.3 .6 21.7 .7 42 .6-59.6 .7-2.3 .6 61.8 .7-51.9 .6-13.8 .7-8.9 .6 22.8 .7 3.3 .6-16.9 .7 1.1 .6 16.4 .7-2.2 .6-11.8 .7-3.1 .6 16 .7 4.1 .6-18.1 .7 2.6 .6 11.6 .7 7.6 .6-23.3 .7 4 .6 16.4 .7-1.4 .6-14.1 .7-1.1 .6 15.5 .7 7.3 .6-20.8 .7-7.3 .6 25.3 .7-.9 .6-27.3 .7 5.2 .6 16.9 .7-7.3 .6-19.3 .7 4.7 .6 15.3 .7 3.3 .6-12.4 .7 2 .6 16.6 .7 8.9 .6-25.7 .7 .3 .6 13.2 .7 29 .6-46.7 .7 2.3 .6 14 .7 .9 .6-22 .7 4.5 .6 17.1 .7-1 .6-13.7 .7-4.2 .6 29.8 .7-11.7 .6-15.1 .7-14 .6 37.3 .7-9.5 .6-14.8 .7 2.2 .6 12 .7-.9 .6-13 .7-4 .6 19.7 .7 0 .6-18.1 .7-3.4 .6 32.3 .7 24.8 .6-48 .7-5.2 .6 17.6 .7 2.9 .6-32.5 .7 14.9 .6 11.7 .7 2.3 .6-27.6 .7 4.6 .6 19.5 .7 .1 .6-19.7 .7 3.5 .6 18.4 .7-.8 .6-12.7 .7 .4 .6 14.9 .7 6.9 .6-28.4 .7 10.8 .6 11.4 .7 2.8 .6-21.6 .7-1.5 .6 20 .7-.5 .6-13 .7-2.5 .6 16.2 .7 2.9 .6-13.2 .7-2.4 .6 18.1 .7-2.6 .6-15.1 .7-2.7 .6 17.2 .7-.8 .6-16.2 .7 .5 .6 12.2 .7 1.7 .6-14.8 .7-1.2 .6 17.4 .7 .7 .6-23.2 .7 5.5 .6 13.2 .7 2.5 .6-17.4 .7 6.1 .6 21.5 .7-5.9 .6-14.4 .7-6 .6 14.6 .7-1.5 .6-13.2 .7-3 .6 16.2 .7 1.5 .6-16.4 .7 .6 .6 17.1 .7-1 .6-12.6 .7-5.1 .6 20.3 .7-3.9 .6-14.1 .7 2.3 .6 18.6 .7-2.2 .6-17.6 .7-.8 .6 15.2 .7-.3 .6-13.7 .7 .7 .6 12.6 .7 0 .6-12 .7-7.6 .6 21.5 .7-.3 .6-13.3 .7-2.8 .6 76.5 .7 0 .6-74.7 .7 1.9 .6 72.9 .7-55.4 .6-22.5 .7 3.3 .6 14.7 .7 1 .6-14.6 .7 1.5 .6 16.5 .7 .2 .6-14.7 .7 0 .6 33 .7-18 .6-14.7 .7-3.4 .6 17.4 .7 1.8 .6-19.8 .7-8.3 .6 26.2 .7-3 .6-24.5 .7 4.1 .6 21.2 .7-3.3 .6-19.4 .7 7 .6 25.3 .7-12.1 .6-11.1 .7-1.5 .6 29 .7-10.1 .6-30.8 .7 9.6 .6 16.9 .7 .5 .6-13.5 .7-2.6 .6 15.6 .7-2.5 .6-15.3 .7-2 .6 20.1 .7-3.3 .6-12.2 .7 .3 .6 18.6 .7-.1 .6-18.3 .7-1.1 .6 37.5 .7-24.7 .6-13.6 .7-4.8 .6 21.6 .7-5.3 .6-18.6 .7 5 .6 14.5 .7-2.8 .6-11.3 .7-3.7 .6 13.7 .7 4 .6-39.7 .7 14.6 .6 25.4 .7 2.7 .6-21.5 .7 2.7 .6 14.5 .7-.2 .6-12.8 .7-3.8 .6 13.3 .7 2 .6-14 .7-1.2 .6 14.1 .7 .3 .6-12.1 .7-4.3 .6 18.8 .7 8.4 .6-23.5 .7 5.6 .6 21.4 .7-8.9 .6-11.7 .7-3.3 .6 14.9 .7-.8 .6-18.5 .7 1.3 .6 18.5 .7 1.6 .6-17.2 .7 2.1 .6 11.8 .7-1.2 .6-11.6 .7 2.2 .6 13.4 .7 .1 .6-11.8 .7-2.1 .6 14.3 .7 1.2 .6-14.9 .7-.2 .6 13.4 .7 .3 .6-15.1 .7 1.1 .6 20.4 .7-5.8 .6-14 .7-3.6 .6 14.3 .7-.8 .6-14.9 .7-1 .6 14.7 .7 1 .6-16 .7 3.4 .6 15.8 .7 4.2 .6-16.6 .7-5.5 .6 23.8 .7-1.3 .6-21.2 .7-.9 .6 21 .7 .3 .6-24.3 .7 5.8 .6 23.3 .7-3.1 .6-19.4 .7 .1 .6 15.1 .7 .3 .6-15 .7 .4 .6 19.3 .7 48.6 .6-67.8 .7-5.8 .6 72.7 .7-59.1 .6-13.1 .7 .4 .6 12.6 .7 3.7 .6-21.2 .7 6.9 .6 17 .7-3.2 .6-16.5 .7 2.5 .6 13.5 .7-.9 .6-14 .7-3.3 .6 21.3 .7 2.7 .6-18.6 .7-4.1 .6 19.8 .7 7 .6-24.9 .7-8.8 .6 27.2 .7-1.1 .6-25.3 .7 8.4 .6 14.4 .7-.6 .6-21.3 .7 4.5 .6 16.1 .7 48.2 .6-64.8 .7-2.2 .6 67.5 .7-51.4 .6-13.5 .7 1.9 .6 15.1 .7 2.5 .6-16.9 .7-1.8 .6 22 .7-4.9 .6-12.5 .7-9.4 .6 31.8 .7 3 .6-24.3 .7-.7 .6 15.3 .7 9.7 .6-22.5 .7-.5 .6 14.8 .7 2.2 .6-20 .7-1.8 .6 26 .7 7.2 .6-36.1 .7 3.2 .6 13.3 .7 6.6 .6-18.3 .7 1.7 .6 15.6 .7 1.6 .6-16.9 .7 2.4 .6 12.5 .7 .8 .6-25.9 .7 9.9 .6 17 .7-5.8 .6-16.5 .7 2.5 .6 18.1 .7-7.1 .6-18 .7 2.8 .6 19.5 .7-.2 .6-27.6 .7 .8 .6 20.5 .7 1.7 .6-12.7 .7 .6 .6 15.1 .7-2.7 .6-17 .7-1.4 .6 17.1 .7 2.4 .6-14.3 .7 .6 .6 18.3 .7-.8 .6-16.7 .7 3.6 .6 20.8 .7-3.5 .6-18.6 .7 2.9 .6 20 .7-2.4 .6-21.1 .7 .1 .6 21.7 .7-11.5 .6-16.1 .7-1.7 .6 21.9 .7-4.2 .6-19 .7 3.1 .6 18.6 .7-2.1 .6-12.8 .7 .9 .6 16.9 .7 .5 .6-18.7 .7-4.2 .6 20.4 .7 2.8 .6-24.6 .7 4.6 .6 21.5 .7-1.4 .6-18.9 .7 4.7 .6 15.2 .7 11.6 .6-25.2 .7-1.9 .6 15.1 .7 2 .6-25.5 .7 5.1 .6 19.4" fill="none" stroke="#000" stroke-width="2.2" stroke-linejoin="round" stroke-linejoin="miter" stroke-miterlimit="1.2"/>
<path d="M49 1003.3l.6 18.5 .7-1.5 .6-15.8 .7-2.8 .6 18.9 .7-.1 .6-16.7 .7-9.4 .6 21.3 .7-.9 .6-21.2 .7 5.1 .6 14.8 .7 4.1 .6-22.1 .7 2.4 .6 21.1 .7-1 .6-17.4 .7 1.1 .6 15.9 .7 6.3 .6-23.6 .7-.4 .6 26.6 .7-1.3 .6-26.3 .7-1.3 .6 25.2 .7-7.4 .6-15.6 .7-2.2 .6 16.3 .7-.3 .6-25.2 .7 2.2 .6 19.9 .7 1.3 .6-14.8 .7 1.1 .6 17.7 .7 3.9 .6-20.9 .7-1.2 .6 20.5 .7 2.4 .6-21.2 .7 1.7 .6 18.9 .7-5.3 .6-19.9 .7 .1 .6 16.6 .7 2.5 .6-20.3 .7 1.9 .6 21.1 .7 4.6 .6-25.6 .7-2.3 .6 19.3 .7 .5 .6-15.8 .7 2 .6 23.7 .7-8 .6-17.7 .7 5 .6 17.5 .7 3.7 .6-17.1 .7-1.4 .6 18.1 .7-3.2 .6-14.4 .7-9.3 .6 23.5 .7 2.8 .6-29 .7 4.5 .6 15.7 .7-1.1 .6-27 .7 9.4 .6 18.7 .7-1.9 .6-18.1 .7 1.7 .6 19.9 .7-2.1 .6-15.9 .7-18.5 .6 36.6 .7 9 .6-24.1 .7-2.5 .6 21.1 .7 4.1 .6-20.8 .7 .9 .6 27 .7-5 .6-23.3 .7-4 .6 15.1 .7-.1 .6-17.9 .7-2.4 .6 20 .7 1.1 .6-16.4 .7 4.5 .6 19.4 .7 15.5 .6-32.2 .7 .3 .6 23.2 .7-12.3 .6-21.7 .7 .6 .6 19.4 .7 2.4 .6-22.4 .7 .4 .6 17.2 .7 3.3 .6-19.5 .7 1 .6 18.7 .7 3.9 .7-20.6 .6-4.2 .7 25.2 .6 10.3 .7-28.7 .6-2.8 .7 18.4 .6 1.4 .7-21.8 .6 2.6 .7 17.2 .6-.8 .7-20.1 .6 .1 .7 23.4 .6-3 .7-16.9 .6-7.3 .7 24.2 .6-3 .7-17.2 .6-3.2 .7 22.2 .6 4.4 .7-20.2 .6 .9 .7 23.1 .6-5.4 .7-14.5 .6-1.8 .7 17.7 .6 .3 .7-15.4 .6-1.7 .7 17.2 .6-2.2 .7-16.8 .6-4.1 .7 15.8 .6 .2 .7-14.9 .6-2.3 .7 18.2 .6 4.3 .7-22.6 .6 3.5 .7 17.8 .6 .9 .7-21.2 .6 6.7 .7 21.7 .6-4.6 .7-15.7 .6-1.4 .7 21 .6-3.3 .7-20.4 .6-3.2 .7 22.6 .6-.3 .7-35.8 .6 12.1 .7 29.9 .6-4.3 .7-20.7 .6-1.3 .7 21.7 .6-7.1 .7-15.7 .6-.2 .7 16 .6 1.1 .7-15.1 .6-8 .7 24.9 .6 .2 .7-16.6 .6-2.6 .7 15.3 .6-1 .7-15.1 .6-2.8 .7 21.1 .6 .2 .7-16.2 .6-5.1 .7 23.1 .6-.5 .7-19.2 .6-.7 .7 23.3 .6 3.7 .7-23.4 .6 .6 .7 17.6 .6 11 .7-28.7 .6 3.5 .7 25.6 .6-8.3 .7-21.7 .6-10.2 .7 31.3 .6-3.7 .7-17.2 .6-.3 .7 22 .6-3.5 .7-23.6 .6 3.4 .7 20.1 .6 .1 .7-21.4 .6-3.9 .7 23.7 .6-7.1 .7-22 .6 5.1 .7 21.9 .6-2.3 .7-22.3 .6 2.9 .7 14.3 .6 6.1 .7-16.6 .6-6.8 .7 22.9 .6 6 .7-22 .6 3.6 .7 19.7 .6 2 .7-15.2 .6-2.1 .7 22.3 .6-4.1 .7-19.8 .6-2 .7 15.8 .6 6.2 .7-28.8 .6 4.8 .7 15.9 .6 5.6 .7-33.6 .6 10.2 .7 25.1 .6 .7 .7-24.8 .6 2.5 .7 20.5 .6 .9 .7-26.1 .6 3.9 .7 16.5 .6 2.6 .7-22.2 .6-4 .7 24.2 .6 2.2 .7-18.7 .6-.7 .7 20.9 .6-7.8 .7-16.9 .6-2 .7 16.2 .6 2.4 .7-17.1 .6 .8 .7 19.7 .6 .7 .7-18.9 .6 4.1 .7 16.8 .6 1.3 .7-17.4 .6-.8 .7 18 .6-5.5 .7-17.4 .6-2.1 .7 21.5 .6-6.1 .7-17.8 .6 2.9 .7 16.5 .6 3 .7-17.5 .6 2 .7 24.6 .6 10.2 .7-40.1 .6 2.6 .7 15.7 .6 5.4 .7-18.6 .6-.8 .7 15.9 .6-2.1 .7-17.1 .6-4.2 .7 22.7 .6 5.1 .7-26.8 .6 5.9 .7 15.9 .6 .6 .7-17.2 .6 2.6 .7 17.9 .6 .8 .7-21.6 .6 2.6 .7 23 .6 1.7 .7-20 .6 1.7 .7 17.9 .6-.1 .7-20.6 .6-.3 .7 19.4 .6-2 .7-22.9 .6-.4 .7 25.3 .6 6.6 .7-35.6 .6 .8 .7 23.7 .6 6.2 .7-29.1 .6 8.3 .7 25.8 .6-5.9 .7-16.7 .6-4.5 .7 24.6 .6-6 .7-21.9 .6-1.6 .7 18.8 .6 .6 .7-21 .6-7.3 .7 24.1 .6 4 .7-20.6 .6 4.3 .7 16.1 .6 5.5 .7-19.1 .6 1.3 .7 16.7 .6 1.5 .7-20.9 .6 7.6 .7 17.1 .6-.3 .7-16.2 .6-6.2 .7 20.5 .6 5.4 .7-26.4 .6-5.9 .7 17.8 .6-2.4 .7-15.4 .6 .9 .7 16.7 .6 2.7 .7-20.7 .6 8.9 .7 25.9 .6-2 .7-23.9 .6-3.4 .7 23.7 .6-5.6 .7-14.9 .6-2.4 .7 16.5 .6-1.8 .7-24 .6 5.4 .7 21 .6-7 .7-17.8 .6 1.1 .7 15.9 .6 8.1 .7-19.7 .6-2.1 .7 17.5 .6 10.1 .7-22.5 .6 1 .7 16.2 .6 2 .7-18.7 .6-1.1 .7 17 .6-1.2 .7-16.7 .6-8.1 .7 20.9 .6 .1 .7-15.7 .6-.3 .7 15.5 .6-.7 .7-18.7 .6 3.4 .7 19.5 .6 4.4 .7-17.2 .6-8.9 .7 26.2 .6 2.4 .7-18.4 .6-4.1 .7 23.2 .6-7.8 .7-19.1 .6-.8 .7 20.8 .6-7.2 .7-17 .6-.1 .7 20.5 .6 4.4 .7-25.4 .6 4.4 .7 17.9 .6 .7 .7-16.6 .6-9.5 .7 29.5 .6-.6 .7-16.7 .6-1 .7 17 .6 1.5 .7-20 .6-2.9 .7 20.4 .6-1.4 .7-20.8 .6 .7 .7 16.4 .6-.4 .7-16.9 .6 2.6 .7 16.8 .6 6 .7-22 .6-4.9 .7 26.2 .6-.9 .7-16.7 .6-2.1 .7 17.5 .6-.6 .7-15.9 .6-3.3 .7 17.5 .6 6 .7-24.4 .6-1.2 .7 23.5 .6-7.6 .6-16.2 .7 3 .6 15.9 .7 .7 .6-16.8 .7 1.4 .6 19.8 .7 4.6 .6-22 .7-.6 .6 16.3 .7 .8 .6-19.9 .7 2 .6 17.2 .7-2.4 .6-18.1 .7-4.7 .6 25 .7-3.8 .6-16.2 .7 .7 .6 23.6 .7 1 .6-21.8 .7 .1 .6 16 .7 5.3 .6-22.8 .7-.3 .6 15.3 .7 20.7 .6-38.6 .7 .2 .6 17.7 .7 20.7 .6-45 .7 10.2 .6 16.1 .7 1.7 .6-20.5 .7-1.1 .6 23.5 .7 1.2 .6-17.9 .7-1.9 .6 18.7 .7 1.1 .6-16.6 .7-2.4 .6 19 .7-3.6 .6-18 .7-1.6 .6 16.4 .7 1 .6-15.6 .7 27.4 .6 28.5 .7-7.7 .6-16.4 .7-3.6 .6 17.8 .7-1.2 .6-18.4 .7-.3 .6 15.9 .7-2.5 .6-16.7 .7 .5 .6 19.4 .7 6.6 .6-29.5 .7 1.9 .6 17.4 .7 .3 .6-18.6 .7 1.6 .6 18 .7 .8 .6-16.5 .7 4.5 .6 25.6 .7-5 .6-20.4 .7 5.3 .6 19.5 .7-3.9 .6-22.3 .7-2.3 .6 26.1 .7-9.9 .6-18.5 .7 2.3 .6 15.7 .7 4.3 .6-19.7 .7 1.8 .6 20.8 .7-4 .6-18.7 .7 3 .6 18.2 .7 2.4 .6-17.8 .7 1.8 .6 29 .7-6.8 .6-24.2 .7-1.1 .6 20.9 .7 1.5 .6-20.3 .7-6.3 .6 18.4 .7 1.8 .6-26.6 .7 4 .6 16.5 .7-28.8 .6-14.9 .7 .8 .6 15.1 .7 5.3 .6-24.9 .7 4.5 .6 23.7 .7 2.4 .6-20.2 .7 1.7 .6 14.8 .7-2.3 .6-16.2 .7-3.8 .6 17.9 .7 3.1 .6-17.5 .7-1.2 .6 18.4 .7-4 .6-16.6 .7-5.2 .6 19.5 .7 1.3 .6-16.4 .7 3.1 .6 19.4 .7 2.9 .6-18 .7-5.2 .6 26.6 .7-4.3 .6-19.2 .7-3.4 .6 17.3 .7 .2 .6-21.3 .7 3.3 .6 23.9 .7-6.5 .6-15.4 .7-2 .6 28 .7-6.8 .6-21.2 .7-.1 .6 26.8 .7-3.2 .6-20.7 .7 2.1 .6 30.2 .7-17 .6-16 .7-4.6 .6 19.5 .7 6.1 .6-27.7 .7 4.5 .6 19.9 .7 .4 .6-21.6 .7 1.4 .6 17.3 .7 .8 .6-22.7 .7 9.2 .6 15.9 .7 5.8 .6-21.8 .7 .2 .6 23.5 .7-1.3 .6-19.5 .7 .4 .6 17.1 .7 2 .6-23.7 .7-1.8 .6 17.3 .7 .8 .6-18 .7-11.3 .6 29.1 .7-1.5 .6-17.9 .7-.6 .6 15.8 .7-1.8 .6-19.6 .7 8.3 .6 16.2 .7 2.9 .6-19.7 .7-.8 .6 18.8 .7-.2 .6-14.7 .7-1.4 .6 20.4 .7-5.6 .6-18 .7-1.3 .6 23.4 .7-4.8 .6-14.7 .7-4.3 .6 24.6 .7 3.8 .6-26.9 .7 2.4 .6 22.9 .7-3.1 .6-16.2 .7-3.1 .6 18.9 .7 3.5 .6-29.1 .7 5.3 .6 22.6 .7 6.7 .6-36.1 .7 7.3 .6 24.2 .7-8.8 .6-26.4 .7 6.2 .6 22.9 .7 9.2 .6-38.2 .7 7.5 .6 17.9 .7-1.7 .6-15.2 .7 3.6 .6 15.5 .7 5.9 .6-16 .7 1.7 .6 15.7 .7-.8 .6-20.1 .7-5 .6 25 .7-7.8 .6-19.3 .7 2.9 .6 17.6 .7-3.8 .6-14.8 .7-7.1 .6 22.9 .7 1.7 .6-25.4 .7 14.3 .6 24.8 .7-5.4 .6-16.4 .7-4.5 .6 17.6 .7-5 .6-20.1 .7-.5 .6 21.1 .7 6.5 .6-33.5 .7 5.3 .6 21 .7 5 .6-26.4 .7 7.5 .6 15.8 .7 .8 .6-20.7 .7-2.4 .6 23.1 .7-3.9 .6-22.4 .7 2.2 .6 17 .7-1.8 .6-17.8 .7-.5 .6 19.6 .7 1.9 .6-18.6 .7 3.4 .6 14.7 .7 1.5 .6-18.4 .7-1.5 .6 23.1 .7 3.2 .6-17.6 .7-.9 .6 22.5 .7-1.5 .6-23.3 .7-2.7 .6 24.1 .7-1.3 .6-15.3 .7-6.8 .6 22.8 .7 18.9 .6-36.2 .7-2.8 .6 16 .7-3.2 .6-16.8 .7-8.7 .6 30 .7-1.5 .6-17.5 .7-.8 .6 16.6 .7 4.3 .6-19.3 .7 2.7 .6 18.6 .7 .4 .6-18.2 .7 .6 .6 16 .7-.7 .6-16 .7-2.3 .6 15.5 .7 2.5 .6-18.5 .7-.6 .6 15.3 .7 4.7 .6-23.8 .7 5.6 .6 16.1 .7-1.1 .6-18.2 .7-1.4 .6 23.8 .7-.4 .6-18.4 .7-5.8 .6 19.3 .7 3.4 .6-18.3 .7 .4 .6 26.3 .7-12.4 .6-21.2 .7 5.7 .6 17.9 .7 3.2 .6-18 .7 4.1 .6 18.8 .7 1.4 .6-23.3 .7 4.6 .6 17.4 .7 2.4 .6-18.5 .7-1.9 .6 17.2 .7 .2 .6-24.7 .7-5.3 .6 19.7 .7-1.8 .6-17.8 .7 2.2 .6 17.4 .7 5.4 .6-18.4 .7-5.4 .6 24.7 .7 18.5 .6-45.4 .7 7.7 .6 16.8 .7 7.2 .6-20.8 .7-.1 .6 23.3 .7-.5 .6-26.4 .7 31.4 .6 15.4 .7-6.4 .6-20.9 .7 1.7 .6 17.5 .7 2.8 .6-28.8 .7 7.9 .6 19.3 .7-1 .6-14.8 .7 0 .6 17.1 .7 1.4 .6-19.4 .7 6.1 .6 23.9 .7-4.7 .6-17.1 .7-.4 .6 20.4 .7-5.2 .6-16.6 .7-3.7 .6 17.3 .7 .2 .6-28.4 .7 8.1 .6 23.2 .7-2.8 .6-16.9 .7-8.1 .6 25 .7 7.3 .6-21.3 .7 2 .6 19.7 .7-2.6 .6-21.5 .7 2.6 .6 21.2 .7-6.2 .6-19.4 .7-2.1 .6 17.5 .7 5.6 .6-23.1 .7 .9 .6 16.3 .7 2 .6-17.8 .7 2.5 .6 17.5 .7 4.2 .6-21 .7-5.8 .6 26.9 .7-2.1 .6-16.8 .7-.2 .6 17.7 .7-2.8 .6-15.8 .7 .1 .6 19.6 .7-6.6 .6-18.9 .7-1.7 .6 20.4 .7 .1 .6-17.1 .7-3.5 .6 21.7 .7-3.1 .6-16.9 .7-3.7 .6 20.5 .7 1.6 .6-15.7 .7-1.3 .6 19.2 .7 4.7 .6-18.4 .7-1.8 .6 20.1 .7 4.1 .6-23.4 .7 2.6 .6 24.8 .7-7 .6-18.1 .7-.5 .6 19.1 .7 .4 .6-18.2 .7-1.3 .6 17.1 .7-4.9 .6-16.6 .7 .2 .6 19.9 .7-1.9 .6-15.6 .7-1.6 .6 18.5 .7 4.3 .6-20.6 .7 2.9 .6 18.9 .7-2.8 .6-16.8 .7-3.9 .6 16.3 .7 .5 .6-17.3 .7 .1 .6 17.5 .7 4.1 .6-31.5 .7 10.1 .6 16 .7 2.4 .6-18.3 .7 1.2 .6 16.4 .7 .1 .6-22.5 .7 7 .6 17.7 .7-5.7 .6-24.2 .7 1.6 .6 18.9 .7 3.7 .6-34.2 .7 15.8 .6 23.7 .7-.7 .6-20.2 .7 .7 .6 20.5 .7-2.3 .6-15.5 .7-3 .6 15.9 .7 3.1 .6-33.1 .7 11.7 .6 16.8 .7 5.5 .6-22.7 .7 2.1 .6 17.1 .7-29.7 .6-17.1 .7 1.6 .6 16.4 .7 3.7 .6-17.5 .7-1.4 .6 23.2 .7-3.9 .6-15.6 .7-5.7 .6 24.7 .7-3.5 .6-22.7 .7 .7 .6 22.3 .7-4.3 .6-18.7 .7-2.7 .6 26.3 .7 .5 .6-20 .7 1.5 .6 17.3 .7-.5 .6-17.8 .7 1.8 .6 28.3 .7-11.4 .6-17.4 .7-.6 .6 20.2 .7 3.2 .6-29.8 .7-8.5 .6 23.6 .7-.7 .6-21.4 .7 6.4 .6 18.6 .7 5.4 .6-19 .7 1.3 .6 18.2 .7 6 .6-24 .7 2.5 .6 14.5 .7-.5 .6-25.6 .7 9.6 .6 14.9 .7 3.4 .6-17.1 .7 1 .6 17.4 .7-3.3 .6-15.2 .7-13.4 .6 24.6 .7-1.7 .6-15.1 .7 1.7 .6 15.5 .7 1.7 .6-14.8 .7-1.2 .6 19.7 .7 2.6 .6-21.8 .7 4.2 .6 17.1" fill="none" stroke="#000" stroke-width="2.2" stroke-linejoin="round" stroke-linejoin="miter" stroke-miterlimit="1.2"/>
<path d="M49 1179.8l.6 17.2 .7 1.7 .6-16.4 .7 1.4 .6 14.8 .7-.3 .6-16.2 .7-1.5 .6 20.3 .7-5 .6-15.4 .7-6.3 .6 20.6 .7 2.4 .6-28.1 .7 3 .6 18.1 .7 4.4 .6-23.2 .7-.4 .6 29.5 .7-2.4 .6-16 .7-.9 .6 17.1 .7 .2 .6-18.9 .7-6.9 .6 22.5 .7-4.9 .6-17 .7 0 .6 21.6 .7-2.5 .6-18.3 .7 2.8 .6 21.6 .7 3.6 .6-22.2 .7 .7 .6 16.2 .7 3.5 .6-19.5 .7-3.7 .6 23 .7-3.9 .6-22.4 .7-1.5 .6 17.4 .7 2.1 .6-17.8 .7-.6 .6 18.3 .7 2.2 .6-21.8 .7 4.5 .6 16.3 .7 2.5 .6-16.1 .7-2.2 .6 24.3 .7-1.5 .6-19.5 .7-4 .6 20.1 .7-1.5 .6-26.4 .7 4.4 .6 23.6 .7-.7 .6-15.2 .7-2.9 .6 16.3 .7-1.3 .6-16.1 .7-4.1 .6 18.7 .7 5.1 .6-23.7 .7 6.3 .6 25.2 .7-10.1 .6-15.2 .7 1.6 .6 19.6 .7 5.3 .6-23.8 .7 1.1 .6 21.9 .7-6.7 .6-16.3 .7-9.5 .6 21.5 .7-1.4 .6-18 .7-1.4 .6 17.2 .7-2.4 .6-15.9 .7-8.1 .6 25.7 .7 7.4 .6-17.3 .7 .4 .6 16.3 .7 .4 .6-21.8 .7 2.6 .6 22.3 .7-4.4 .6-19 .7-3.9 .6 17.7 .7 .9 .6-23.1 .7-.6 .6 21.9 .7 4.7 .6-16.9 .7 5.7 .6 16.2 .7 1.6 .6-19.2 .7-1.3 .6 18.1 .7-1.4 .6-18.7 .7 2.6 .6 20.8 .7-6.7 .7-15.8 .6-6.9 .7 18.1 .6 2 .7-19.1 .6 .5 .7 17.4 .6 6 .7-25.1 .6-2.2 .7 22.2 .6 14 .7-34.9 .6 1.7 .7 24.6 .6-2.5 .7-16.6 .6-3.1 .7 20.8 .6 .1 .7-21.9 .6-6.4 .7 34.3 .6 2.4 .7-26.6 .6-1.7 .7 18.3 .6-1.2 .7-35 .6 16.6 .7 17.3 .6-.4 .7-17.9 .6 3.3 .7 20.2 .6 3.3 .7-20.4 .6-1.1 .7 17.4 .6 3.2 .7-19 .6-2.4 .7 22.5 .6-10.2 .7-17.2 .6 .2 .7 18.5 .6-2.4 .7-23.4 .6 9.1 .7 22.8 .6 1.2 .7-18.1 .6 2.5 .7 16.8 .6 3.3 .7-20.2 .6-7.1 .7 19.6 .6-2.4 .7-19.1 .6-2.2 .7 18.5 .6-.7 .7-25.7 .6-3.2 .7 32.8 .6-4.8 .7-20.1 .6 9.6 .7 20.1 .6 .4 .7-23 .6 7.2 .7 14.7 .6 .7 .7-25.7 .6 1.2 .7 21.9 .6-8.9 .7-20 .6 2 .7 17.6 .6 3.4 .7-21.2 .6 6.1 .7 22.3 .6 4.6 .7-21.8 .6-1 .7 21.6 .6-2 .7-20.5 .6-3.3 .7 17.1 .6-2 .7-20.2 .6 2 .7 18.4 .6 6.2 .7-23 .6-.8 .7 20.8 .6 .2 .7-21.7 .6 10.4 .7 16.1 .6 2.8 .7-17.2 .6-.7 .7 17.1 .6-3.3 .7-15.8 .6-6.8 .7 23.8 .6-6.8 .7-18.2 .6-.8 .7 16.8 .6-.7 .7-15.2 .6-1.3 .7 21.3 .6 2.7 .7-16.5 .6 2 .7 26 .6-6.5 .7-17.1 .6-2.5 .7 24 .6-8.3 .7-16.4 .6-8.4 .7 28.2 .6-1.6 .7-18.7 .6 1.4 .7 19.7 .6-5.9 .7-19.5 .6-3.8 .7 16.3 .6 6.5 .7-21.6 .6 5.1 .7 18.3 .6 4.3 .7-20.5 .6 5.8 .7 16.8 .6 7.4 .7-23.3 .6-2.4 .7 14.6 .6-1.8 .7-19.3 .6-4.3 .7 29.9 .6-9.8 .7-16.1 .6-2.2 .7 20.5 .6-.2 .7-22.2 .6-7.5 .7 23.1 .6 .6 .7-21.4 .6-1.1 .7 25.2 .6 4.1 .7-20.9 .6 .9 .7 17.7 .6 .3 .7-20.6 .6 1.1 .7 16.5 .6 .1 .7-18.8 .6 2.1 .7 15.5 .6 3.9 .7-20.5 .6 6.8 .7 15.4 .6 .5 .7-17.3 .6 1.2 .7 15.6 .6 8.8 .7-30.6 .6-2.9 .7 24.5 .6-1.1 .7-28 .6 6.6 .7 16.6 .6 2.9 .7-22.3 .6-2.2 .7 25.3 .6-4.3 .7-15.1 .6-1.2 .7 17.8 .6 1.2 .7-16.2 .6-2.9 .7 22.4 .6 .8 .7-17.3 .6-4.8 .7 22.2 .6 4.3 .7-21.8 .6 1 .7 20.8 .6 2.7 .7-28.1 .6 6.8 .7 14.4 .6 .4 .7-19.4 .6-1.4 .7 17.6 .6 2.7 .7-19.2 .6-3.1 .7 20.8 .6 2.7 .7-17.6 .6 1.2 .7 18.3 .6-.2 .7-16.9 .6 1.5 .7 19.2 .6-5.3 .7-19.3 .6 13.3 .7 33.2 .6-3.4 .7-20.1 .6-3.4 .7 26.3 .6-7.7 .7-15.4 .6 .8 .7 19.4 .6-.5 .7-25.1 .6 11.4 .7 19.3 .6-2.1 .7-16.7 .6-3 .7 18.7 .6-.3 .7-27 .6 8 .7 17.1 .6-2.9 .7-16.9 .6 1.8 .7 26.2 .6-7.9 .7-15.3 .6-3.2 .7 20.8 .6-4 .7-16.2 .6-1.3 .7 21.5 .6-3.1 .7-16 .6 .8 .7 23.3 .6-2.6 .7-19.9 .6 2.8 .7 21.7 .6-6 .7-16.2 .6-5.3 .7 21.6 .6 .5 .7-23.8 .6 2.8 .7 20.9 .6-1.2 .7-18.7 .6-1 .7 27.5 .6 .1 .7-21.2 .6-.8 .7 19.3 .6-1.9 .7-22 .6 1.5 .7 15.1 .6 0 .7-33.6 .6 17.7 .7 21.5 .6-3 .7-21 .6 6.8 .7 16.3 .6 1.6 .7-17.4 .6-2.8 .7 19.5 .6-2.9 .7-15.5 .6 .4 .7 19.1 .6 19.6 .7-42.7 .6-3.2 .7 24.6 .6 3.5 .7-27 .6-3.8 .7 20 .6 4.2 .7-23.8 .6 8.6 .7 19.3 .6-2.5 .7-17.7 .6-2 .7 18.8 .6 1 .7-17 .6-11.5 .7 34.4 .6-5.8 .7-18 .6-.7 .7 19.3 .6-.6 .7-34.6 .6-5.4 .7 34.7 .6-2.1 .7-22.2 .6 6.4 .7 16.6 .6 6 .7-18.9 .6 .2 .7 21.3 .6 1.1 .7-17.2 .6 .4 .7 23.1 .6-8.9 .7-17.1 .6-7.2 .7 23 .6-3.1 .7-20.9 .6 1.6 .7 14.8 .6 5.8 .7-20.6 .6 5.2 .7 17.7 .6-1.5 .6-15.1 .7-1 .6 18.6 .7 .2 .6-17.3 .7 1.6 .6 22.8 .7-9.4 .6-17.2 .7-1.1 .6 16 .7 2 .6-20.1 .7-38 .6 34.5 .7-5.4 .6-19.3 .7-3 .6 20.6 .7 0 .6-15.7 .7 3.2 .6 19.3 .7-1 .6-17.1 .7-5.1 .6 22.4 .7-7.4 .6-19 .7 1.6 .6 15.2 .7 4 .6-23.7 .7 2.1 .6 17.2 .7 1.6 .6-19.1 .7 2.7 .6 19 .7 .8 .6-16.2 .7-4.3 .6 24.4 .7-1.7 .6-15.3 .7-5.9 .6 22.8 .7-3.5 .6-14.6 .7-2.5 .6 22.7 .7 0 .6-21.6 .7-5.5 .6 21.3 .7-2.8 .6-16.3 .7-1.5 .6 18.5 .7 5.1 .6-26.1 .7-8.8 .6 33.2 .7 26.8 .6-49.7 .7 7.6 .6 17.4 .7 2.2 .6-26.8 .7-5.5 .6 28.2 .7-4.8 .6-25.1 .7 3.8 .6 18.2 .7 2.4 .6-20.7 .7 7 .6 18.2 .7 1.1 .6-24.2 .7 7.9 .6 17 .7 4.4 .6-20.3 .7-3 .6 21 .7 .4 .6-20.2 .7-.9 .6 18.6 .7-1 .6-19.7 .7-8.1 .6 22.5 .7 2.6 .6-19 .7-4.9 .6 18.7 .7 5.8 .6-24.9 .7 6.7 .6 15 .7 5 .6-17.9 .7-.5 .6 28.4 .7-4.8 .6-16.6 .7 .1 .6 18.7 .7-4.3 .6-15.7 .7-3.9 .6 22.6 .7-6.9 .6-19.9 .7-3.3 .6 16.9 .7 4 .6-31.1 .7 6.3 .6 24.4 .7-2.9 .6-19.2 .7 1.2 .6 18.6 .7 5.4 .6-16.7 .7 1.7 .6 20.3 .7-4 .6-23 .7 2.2 .6 14.5 .7-.3 .6-16.9 .7-6.6 .6 22.5 .7-.7 .6-16.2 .7 .7 .6 15.6 .7 2.5 .6-14.7 .7 .2 .6 22.4 .7-4.4 .6-21.2 .7 2.1 .6 26.3 .7-10.5 .6-15.6 .7-2.4 .6 18.1 .7 11.2 .6-27.8 .7 2 .6 24.6 .7-3.1 .6-26.7 .7 1.9 .6 16.3 .7 1 .6-16.5 .7-4.9 .6 25.1 .7-3.4 .6-19.6 .7-4.2 .6 27.8 .7 3.9 .6-16.5 .7 2.8 .6 17.2 .7 .2 .6-20.6 .7 1.6 .6 21.4 .7 4.3 .6-28.3 .7-1.7 .6 15.7 .7-1.6 .6-19.4 .7 2.6 .6 16.9 .7 1 .6-20 .7-1.2 .6 18.2 .7-.8 .6-16.1 .7 1 .6 19.3 .7-.4 .6-18.1 .7-1.3 .6 18.1 .7-.3 .6-18.8 .7 2.8 .6 17.9 .7-4.1 .6-19.5 .7 .3 .6 19.1 .7-2.6 .6-16.8 .7 3.5 .6 15.8 .7 5.1 .6-16 .7 2.7 .6 18.1 .7-1.5 .6-19.3 .7 2.8 .6 17.8 .7-2 .6-23.8 .7 5.8 .6 15.3 .7-2.4 .6-14.2 .7-4.3 .6 16.8 .7-.7 .6-25.4 .7 5.5 .6 20.4 .7 7.9 .6-33.2 .7 10.9 .6 17.4 .7 8.5 .6-31 .7 9.4 .6 17.4 .7 2.8 .6-23.1 .7 1 .6 15.7 .7-5.1 .6-16.3 .7-3.1 .6 23 .7-1.6 .6-20.8 .7 30.2 .6 16 .7 9.2 .6-20.3 .7-4.5 .6 29.8 .7 3.2 .6-21.6 .7-.9 .6 18.3 .7-1.1 .6-27 .7-34.1 .6 23.3 .7 6.9 .6-35.4 .7 7.5 .6 18 .7 7.4 .6-24.4 .7 5.3 .6 14.7 .7 5.6 .6-17.7 .7 7.1 .6 21.9 .7-6.8 .6-16.7 .7-9.3 .6 27.3 .7-8.2 .6-16.1 .7-3.6 .6 16.7 .7 .6 .6-21.5 .7-.9 .6 16.1 .7 5.1 .6-23 .7 4.1 .6 17 .7 8.2 .6-20.8 .7-2.7 .6 21.7 .7 1.2 .6-21.3 .7 3.4 .6 19.2 .7 4.2 .6-26.5 .7 7.8 .6 16.8 .7 1.7 .6-19.2 .7-7.5 .6 19.4 .7-.3 .6-16.6 .7-2.7 .6 16.1 .7 .2 .6-21.4 .7 2.7 .6 17.9 .7 .9 .6-19.9 .7 5.5 .6 18.8 .7 2 .6-16.5 .7 2.8 .6 14.6 .7 1.5 .6-16 .7-3.3 .6 20.8 .7-6 .6-18.7 .7-3.6 .6 16.2 .7-1.8 .6-15.5 .7 2.5 .6 16.7 .7 2.8 .6-17.7 .7 2.3 .6 17.6 .7-.7 .6-14.8 .7 1.6 .6 17.9 .7-3.5 .6-29.7 .7 11.8 .6 16.6 .7-.6 .6-17.3 .7 1.1 .6 15.7 .7-.7 .6-26.8 .7 9 .6 21.2 .7-1.2 .6-21.6 .7 1.5 .6 17 .7 16.3 .6-27.8 .7-.2 .6 23.2 .7-6.3 .6-16.4 .7-13.8 .6 28.8 .7-3.8 .6-16.4 .7-4.3 .6 22.7 .7 .6 .6-23 .7 6.6 .6 16.1 .7 2.4 .6-15.4 .7-.2 .6 16 .7 7.6 .6-20.9 .7 .6 .6 17.5 .7 6.8 .6-28.2 .7 3 .6 17 .7-.8 .6-19.9 .7-7.8 .6 23.8 .7 4 .6-25.9 .7 .5 .6 18.9 .7-3.3 .6-15.7 .7-1.8 .6 17.7 .7 0 .6-25.2 .7 12.3 .6 15.9 .7-.3 .6-16.8 .7 0 .6 18.1 .7 0 .6-17.2 .7 .2 .6 16.2 .7 0 .6-16.1 .7-3.6 .6 25.8 .7-11.6 .6-17.1 .7-9.1 .6 26.4 .7-1.5 .6-17 .7 2.1 .6 15.5 .7 2.2 .6-16.4 .7 0 .6 20.8 .7 4.9 .6-27.2 .7 .1 .6 25.3 .7-4.3 .6-19.9 .7-2.6 .6 22.6 .7 .2 .6-27.9 .7 11.8 .6 14.8 .7 8.9 .6-24.9 .7 6.2 .6 18.5 .7 1.9 .6-21.8 .7-6.7 .6 24.1 .7-3.4 .6-21.2 .7 .3 .6 14.9 .7-2.3 .6-20.8 .7 2.5 .6 20.6 .7 1.3 .6-24.8 .7 7.6 .6 18.7 .7 6.1 .6-19 .7 1.5 .6 20.4 .7-4.2 .6-18.2 .7 .1 .6 15.5 .7-2.7 .6-16.9 .7-8.2 .6 25.6 .7 15.9 .6-34.1 .7-.4 .6 33.9 .7-20.4 .6-14.8 .7-1.3 .6 20.5 .7 3.3 .6-21.7 .7 1.8 .6 18.1 .7 1.2 .6-25.5 .7 12.6 .6 15.5 .7 1.5 .6-16.3 .7-.7 .6 16.4 .7 6.3 .6-25.8 .7-.4 .6 16.6 .7 1.5 .6-20 .7-.9 .6 15.4 .7 5.6 .6-27.8 .7 3.3 .6 15.2 .7 31.7 .6-17.3 .7 4.6 .6 14.5 .7 13.7 .6-26.5 .7 2.1 .6 23.1 .7-2.5 .6-26.7 .7 6.5 .6 19.9 .7 .3 .6-24.7 .7-.7 .6 22.1 .7-7.1 .6-19.6 .7 .5 .6 19.1 .7-1.3 .6-17.3 .7-3.4 .6 29.4 .7-6.7 .6-16.1 .7-4.7 .6 23.3 .7-3.2 .6-19.4 .7 6.8 .6 15.4 .7 4.4 .6-15.8 .7-.5 .6 15.8 .7-3 .6-15.8 .7-5 .6 18.1 .7-2 .6-18.1 .7-3.8 .6 29.3 .7-6.3 .6-19.5 .7 4.1 .6 14.9 .7-28.1 .6-18.4 .7-2.6 .6 22.9 .7 6.3 .6-18.3 .7-2 .6 18.5 .7-.6 .6-20.7 .7 2.6 .6 16.4 .7 4.8 .6-25.3 .7-4.4 .6 21.8 .7-.4 .6-23.2 .7 .6 .6 24.9 .7 5.3 .6-22.9 .7 2.3 .6 19.4 .7-2.4 .6-15.3 .7 1.3 .6 17.8 .7 .2 .6-23.7 .7 2.5 .6 18.5 .7 .3 .6-24.2 .7 1.4 .6 17.1 .7 .1 .6-16.9 .7 2.6 .6 17.7 .7 3.4 .6-20 .7-1.5 .6 30.3 .7-5.8 .6-24.6 .7 5 .6 21.7 .7-1.8 .6-18.1 .7 .2 .6 21.3 .7-5.5 .6-16.8 .7-9.6 .6 21.5 .7 2.2 .6-23.9 .7-4.4 .6 25.4 .7-1.2 .6-15.4 .7-.6 .6 15 .7 10.7 .6-26.9 .7 2.8 .6 15.4 .7 .4 .6-21.3 .7 7 .6 15.3 .7 2.9 .6-17.2 .7-.2 .6 18.2 .7-.5 .6-20.2 .7-4 .6 27.2" fill="none" stroke="#000" stroke-width="2.2" stroke-linejoin="round" stroke-linejoin="miter" stroke-miterlimit="1.2"/>
<rect x="992.9" y="677.3" width="7.08" height="0.8" fill="none" stroke="#4d4d4d" stroke-width="1.2"/>
<rect x="1000.0" y="674.9" width="7.08" height="3.2" fill="none" stroke="#4d4d4d" stroke-width="1.2"/>
<rect x="1007.1" y="668.8" width="7.08" height="9.3" fill="none" stroke="#4d4d4d" stroke-width="1.2"/>
<rect x="1014.1" y="660.9" width="7.08" height="17.2" fill="none" stroke="#4d4d4d" stroke-width="1.2"/>
<rect x="1021.2" y="656.4" width="7.08" height="21.7" fill="none" stroke="#4d4d4d" stroke-width="1.2"/>
<rect x="1028.3" y="659.7" width="7.08" height="18.4" fill="none" stroke="#4d4d4d" stroke-width="1.2"/>
<rect x="1035.4" y="666.9" width="7.08" height="11.2" fill="none" stroke="#4d4d4d" stroke-width="1.2"/>
<rect x="1042.5" y="673.5" width="7.08" height="4.6" fill="none" stroke="#4d4d4d" stroke-width="1.2"/>
<rect x="1049.5" y="675.8" width="7.08" height="2.3" fill="none" stroke="#4d4d4d" stroke-width="1.2"/>
<rect x="1056.6" y="675.9" width="7.08" height="2.2" fill="none" stroke="#4d4d4d" stroke-width="1.2"/>
<rect x="1063.7" y="675.1" width="7.08" height="3.0" fill="none" stroke="#4d4d4d" stroke-width="1.2"/>
<rect x="1070.8" y="674.5" width="7.08" height="3.6" fill="none" stroke="#4d4d4d" stroke-width="1.2"/>
<rect x="1077.9" y="674.3" width="7.08" height="3.8" fill="none" stroke="#4d4d4d" stroke-width="1.2"/>
<rect x="1084.9" y="674.3" width="7.08" height="3.8" fill="none" stroke="#4d4d4d" stroke-width="1.2"/>
<rect x="1092.0" y="670.2" width="7.08" height="7.9" fill="none" stroke="#4d4d4d" stroke-width="1.2"/>
<rect x="1099.1" y="666.8" width="7.08" height="11.3" fill="none" stroke="#4d4d4d" stroke-width="1.2"/>
<rect x="1106.2" y="653.9" width="7.08" height="24.2" fill="none" stroke="#4d4d4d" stroke-width="1.2"/>
<rect x="1113.3" y="630.0" width="7.08" height="48.1" fill="none" stroke="#4d4d4d" stroke-width="1.2"/>
<rect x="1120.3" y="612.3" width="7.08" height="65.8" fill="none" stroke="#4d4d4d" stroke-width="1.2"/>
<rect x="1127.4" y="599.5" width="7.08" height="78.6" fill="none" stroke="#4d4d4d" stroke-width="1.2"/>
<rect x="1134.5" y="590.1" width="7.08" height="88.0" fill="none" stroke="#4d4d4d" stroke-width="1.2"/>
<rect x="1141.6" y="605.1" width="7.08" height="73.0" fill="none" stroke="#4d4d4d" stroke-width="1.2"/>
<rect x="1148.7" y="619.2" width="7.08" height="58.9" fill="none" stroke="#4d4d4d" stroke-width="1.2"/>
<rect x="1155.7" y="648.9" width="7.08" height="29.2" fill="none" stroke="#4d4d4d" stroke-width="1.2"/>
<rect x="1162.8" y="670.4" width="7.08" height="7.7" fill="none" stroke="#4d4d4d" stroke-width="1.2"/>
<rect x="1169.9" y="673.5" width="7.08" height="4.6" fill="none" stroke="#4d4d4d" stroke-width="1.2"/>
<rect x="1177.0" y="677.0" width="7.08" height="1.1" fill="none" stroke="#4d4d4d" stroke-width="1.2"/>
<line x1="955.6" y1="589.4" x2="955.6" y2="678.1" stroke="#000" stroke-width="2.3"/>
<line x1="944.6" y1="678.1" x2="1241.3" y2="678.1" stroke="#000" stroke-width="2.3"/>
<line x1="944.6" y1="678.1" x2="955.6" y2="678.1" stroke="#000" stroke-width="2.3"/>
<text x="923.7" y="689.0" font-size="30.18" textLength="16.30" lengthAdjust="spacingAndGlyphs">0</text>
<line x1="944.6" y1="633.8" x2="955.6" y2="633.8" stroke="#000" stroke-width="2.3"/>
<text x="874.8" y="644.6" font-size="30.18" textLength="65.18" lengthAdjust="spacingAndGlyphs">6000</text>
<line x1="944.6" y1="589.4" x2="955.6" y2="589.4" stroke="#000" stroke-width="2.3"/>
<text x="858.5" y="600.3" font-size="30.18" textLength="81.48" lengthAdjust="spacingAndGlyphs">12000</text>
<line x1="957.4" y1="678.1" x2="957.4" y2="690.3" stroke="#000" stroke-width="2.3"/>
<text x="945.0" y="717.0" font-size="30.18" textLength="26.05" lengthAdjust="spacingAndGlyphs">-1</text>
<line x1="1028.3" y1="678.1" x2="1028.3" y2="690.3" stroke="#000" stroke-width="2.3"/>
<text x="1020.1" y="717.0" font-size="30.18" textLength="16.30" lengthAdjust="spacingAndGlyphs">0</text>
<line x1="1099.1" y1="678.1" x2="1099.1" y2="690.3" stroke="#000" stroke-width="2.3"/>
<text x="1090.5" y="717.0" font-size="30.18" textLength="16.30" lengthAdjust="spacingAndGlyphs">1</text>
<line x1="1169.9" y1="678.1" x2="1169.9" y2="690.3" stroke="#000" stroke-width="2.3"/>
<text x="1161.8" y="717.0" font-size="30.18" textLength="16.30" lengthAdjust="spacingAndGlyphs">2</text>
<line x1="1240.7" y1="678.1" x2="1240.7" y2="690.3" stroke="#000" stroke-width="2.3"/>
<text x="1232.6" y="717.0" font-size="30.18" textLength="16.30" lengthAdjust="spacingAndGlyphs">3</text>
<text x="1023.6" y="742.5" font-size="30.18" textLength="165.15" lengthAdjust="spacingAndGlyphs">Current (pA)</text>
<text x="839.4" y="683.4" font-size="30.18" transform="rotate(-90 839.4 683.4)" textLength="95.11" lengthAdjust="spacingAndGlyphs">Counts</text>
<path d="M987.9 678l1.5 0 1.4-.1 1.4-.1 1.4-.1 1.4-.2 1.4-.2 1.5-.3 1.4-.4 1.4-.5 1.4-.6 1.4-.7 1.4-.8 1.5-1.1 1.4-1.1 1.4-1.3 1.4-1.5 1.4-1.5 1.4-1.6 1.4-1.6 1.5-1.6 1.4-1.5 1.4-1.4 1.4-1.2 1.4-.9 1.4-.7 1.5-.3 1.4 0 1.4 .3 1.4 .6 1.4 .9 1.4 1.2 1.5 1.4 1.4 1.4 1.4 1.6 1.4 1.6 1.4 1.5 1.4 1.5 1.5 1.4 1.4 1.2 1.4 1.1 1.4 .9 1.4 .8 1.4 .6 1.4 .5 1.5 .3 1.4 .3 1.4 .1 1.4 .1 1.4 0 1.4-.1 1.5-.1 1.4-.1 1.4-.1 1.4-.2 1.4-.1 1.4-.2 1.5-.1 1.4-.1 1.4-.2 1.4-.1 1.4-.1 1.4-.1 1.5 0 1.4-.1 1.4 0 1.4 0 1.4 0 1.4 0 1.4 0 1.5-.1 1.4 0 1.4-.1 1.4-.1 1.4-.2 1.4-.3 1.5-.4 1.4-.5 1.4-.7 1.4-.9 1.4-1.1 1.4-1.3 1.5-1.6 1.4-1.9 1.4-2.3 1.4-2.5 1.4-2.9 1.4-3.2 1.5-3.6 1.4-3.9 1.4-4.2 1.4-4.4 1.4-4.7 1.4-4.8 1.4-4.9 1.5-4.8 1.4-4.8 1.4-4.5 1.4-4.3 1.4-3.8 1.4-3.4 1.5-2.8 1.4-2.1 1.4-1.5 1.4-.8 1.4 .1 1.4 .7 1.5 1.5 1.4 2.2 1.4 2.8 1.4 3.4 1.4 3.8 1.4 4.3 1.5 4.6 1.4 4.8 1.4 4.9 1.4 4.9 1.4 4.8 1.4 4.8 1.4 4.5 1.5 4.3 1.4 3.9 1.4 3.7 1.4 3.4 1.4 3 1.4 2.6 1.5 2.4 1.4 2 1.4 1.8 1.4 1.5 1.4 1.3 1.4 1 1.5 .9 1.4 .7 1.4 .6 1.4 .4 1.4 .4" fill="none" stroke="#d62931" stroke-width="3.5" stroke-linejoin="round" stroke-linecap="round"/>
<rect x="1000.0" y="856.5" width="7.08" height="1.2" fill="none" stroke="#4d4d4d" stroke-width="1.2"/>
<rect x="1007.1" y="855.5" width="7.08" height="2.2" fill="none" stroke="#4d4d4d" stroke-width="1.2"/>
<rect x="1014.1" y="853.7" width="7.08" height="4.0" fill="none" stroke="#4d4d4d" stroke-width="1.2"/>
<rect x="1021.2" y="851.6" width="7.08" height="6.1" fill="none" stroke="#4d4d4d" stroke-width="1.2"/>
<rect x="1028.3" y="849.3" width="7.08" height="8.4" fill="none" stroke="#4d4d4d" stroke-width="1.2"/>
<rect x="1035.4" y="852.0" width="7.08" height="5.7" fill="none" stroke="#4d4d4d" stroke-width="1.2"/>
<rect x="1042.5" y="854.4" width="7.08" height="3.3" fill="none" stroke="#4d4d4d" stroke-width="1.2"/>
<rect x="1049.5" y="855.5" width="7.08" height="2.2" fill="none" stroke="#4d4d4d" stroke-width="1.2"/>
<rect x="1056.6" y="855.8" width="7.08" height="1.9" fill="none" stroke="#4d4d4d" stroke-width="1.2"/>
<rect x="1063.7" y="856.1" width="7.08" height="1.6" fill="none" stroke="#4d4d4d" stroke-width="1.2"/>
<rect x="1070.8" y="856.2" width="7.08" height="1.5" fill="none" stroke="#4d4d4d" stroke-width="1.2"/>
<rect x="1077.9" y="856.2" width="7.08" height="1.5" fill="none" stroke="#4d4d4d" stroke-width="1.2"/>
<rect x="1084.9" y="856.1" width="7.08" height="1.6" fill="none" stroke="#4d4d4d" stroke-width="1.2"/>
<rect x="1092.0" y="855.8" width="7.08" height="1.9" fill="none" stroke="#4d4d4d" stroke-width="1.2"/>
<rect x="1099.1" y="855.3" width="7.08" height="2.4" fill="none" stroke="#4d4d4d" stroke-width="1.2"/>
<rect x="1106.2" y="854.4" width="7.08" height="3.3" fill="none" stroke="#4d4d4d" stroke-width="1.2"/>
<rect x="1113.3" y="850.4" width="7.08" height="7.3" fill="none" stroke="#4d4d4d" stroke-width="1.2"/>
<rect x="1120.3" y="847.1" width="7.08" height="10.6" fill="none" stroke="#4d4d4d" stroke-width="1.2"/>
<rect x="1127.4" y="839.4" width="7.08" height="18.3" fill="none" stroke="#4d4d4d" stroke-width="1.2"/>
<rect x="1134.5" y="828.4" width="7.08" height="29.3" fill="none" stroke="#4d4d4d" stroke-width="1.2"/>
<rect x="1141.6" y="814.1" width="7.08" height="43.6" fill="none" stroke="#4d4d4d" stroke-width="1.2"/>
<rect x="1148.7" y="793.8" width="7.08" height="63.9" fill="none" stroke="#4d4d4d" stroke-width="1.2"/>
<rect x="1155.7" y="783.2" width="7.08" height="74.5" fill="none" stroke="#4d4d4d" stroke-width="1.2"/>
<rect x="1162.8" y="779.4" width="7.08" height="78.3" fill="none" stroke="#4d4d4d" stroke-width="1.2"/>
<rect x="1169.9" y="795.8" width="7.08" height="61.9" fill="none" stroke="#4d4d4d" stroke-width="1.2"/>
<rect x="1177.0" y="821.8" width="7.08" height="35.9" fill="none" stroke="#4d4d4d" stroke-width="1.2"/>
<rect x="1184.1" y="839.4" width="7.08" height="18.3" fill="none" stroke="#4d4d4d" stroke-width="1.2"/>
<rect x="1191.1" y="852.7" width="7.08" height="5.0" fill="none" stroke="#4d4d4d" stroke-width="1.2"/>
<rect x="1198.2" y="856.4" width="7.08" height="1.3" fill="none" stroke="#4d4d4d" stroke-width="1.2"/>
<line x1="955.6" y1="768.8" x2="955.6" y2="857.7" stroke="#000" stroke-width="2.3"/>
<line x1="944.6" y1="857.7" x2="1241.3" y2="857.7" stroke="#000" stroke-width="2.3"/>
<line x1="944.6" y1="857.7" x2="955.6" y2="857.7" stroke="#000" stroke-width="2.3"/>
<text x="923.7" y="868.6" font-size="30.18" textLength="16.30" lengthAdjust="spacingAndGlyphs">0</text>
<line x1="944.6" y1="813.2" x2="955.6" y2="813.2" stroke="#000" stroke-width="2.3"/>
<text x="874.8" y="824.1" font-size="30.18" textLength="65.18" lengthAdjust="spacingAndGlyphs">6000</text>
<line x1="944.6" y1="768.8" x2="955.6" y2="768.8" stroke="#000" stroke-width="2.3"/>
<text x="858.5" y="779.7" font-size="30.18" textLength="81.48" lengthAdjust="spacingAndGlyphs">12000</text>
<line x1="957.4" y1="857.7" x2="957.4" y2="869.9" stroke="#000" stroke-width="2.3"/>
<text x="945.0" y="896.6" font-size="30.18" textLength="26.05" lengthAdjust="spacingAndGlyphs">-1</text>
<line x1="1028.3" y1="857.7" x2="1028.3" y2="869.9" stroke="#000" stroke-width="2.3"/>
<text x="1020.1" y="896.6" font-size="30.18" textLength="16.30" lengthAdjust="spacingAndGlyphs">0</text>
<line x1="1099.1" y1="857.7" x2="1099.1" y2="869.9" stroke="#000" stroke-width="2.3"/>
<text x="1090.5" y="896.6" font-size="30.18" textLength="16.30" lengthAdjust="spacingAndGlyphs">1</text>
<line x1="1169.9" y1="857.7" x2="1169.9" y2="869.9" stroke="#000" stroke-width="2.3"/>
<text x="1161.8" y="896.6" font-size="30.18" textLength="16.30" lengthAdjust="spacingAndGlyphs">2</text>
<line x1="1240.7" y1="857.7" x2="1240.7" y2="869.9" stroke="#000" stroke-width="2.3"/>
<text x="1232.6" y="896.6" font-size="30.18" textLength="16.30" lengthAdjust="spacingAndGlyphs">3</text>
<text x="1023.6" y="922.1" font-size="30.18" textLength="165.15" lengthAdjust="spacingAndGlyphs">Current (pA)</text>
<text x="839.4" y="863.0" font-size="30.18" transform="rotate(-90 839.4 863.0)" textLength="95.11" lengthAdjust="spacingAndGlyphs">Counts</text>
<path d="M973.8 857.7l1.4 0 1.4 0 1.4 0 1.4 0 1.5 0 1.4 0 1.4 0 1.4 0 1.4-.1 1.4 0 1.5 0 1.4 0 1.4-.1 1.4-.1 1.4 0 1.4-.1 1.5-.1 1.4-.2 1.4-.1 1.4-.2 1.4-.2 1.4-.3 1.5-.2 1.4-.4 1.4-.3 1.4-.4 1.4-.4 1.4-.4 1.4-.4 1.5-.5 1.4-.4 1.4-.5 1.4-.4 1.4-.4 1.4-.3 1.5-.3 1.4-.3 1.4-.2 1.4-.1 1.4 0 1.4 0 1.5 .1 1.4 .2 1.4 .2 1.4 .3 1.4 .4 1.4 .4 1.5 .4 1.4 .4 1.4 .5 1.4 .4 1.4 .4 1.4 .4 1.4 .4 1.5 .4 1.4 .3 1.4 .3 1.4 .3 1.4 .2 1.4 .2 1.5 .1 1.4 .1 1.4 .1 1.4 .1 1.4 0 1.4 0 1.5 0 1.4 0 1.4-.1 1.4-.1 1.4 0 1.4-.1 1.5-.1 1.4-.1 1.4-.1 1.4-.1 1.4-.1 1.4-.1 1.4-.2 1.5-.1 1.4-.1 1.4-.1 1.4-.1 1.4-.1 1.4-.1 1.5-.1 1.4-.1 1.4-.1 1.4 0 1.4-.1 1.4 0 1.5-.1 1.4 0 1.4 0 1.4 0 1.4 0 1.4 0 1.5 0 1.4 0 1.4-.1 1.4 0 1.4-.2 1.4-.1 1.4-.2 1.5-.3 1.4-.5 1.4-.5 1.4-.8 1.4-.9 1.4-1.1 1.5-1.4 1.4-1.6 1.4-2 1.4-2.2 1.4-2.7 1.4-2.9 1.5-3.3 1.4-3.6 1.4-4 1.4-4.2 1.4-4.3 1.4-4.6 1.5-4.5 1.4-4.5 1.4-4.4 1.4-4.2 1.4-3.7 1.4-3.4 1.4-2.8 1.5-2.1 1.4-1.5 1.4-.7 1.4 0 1.4 .8 1.4 1.5 1.5 2.2 1.4 2.8 1.4 3.4 1.4 3.8 1.4 4.2 1.4 4.4 1.5 4.6 1.4 4.6 1.4 4.6 1.4 4.5 1.4 4.2 1.4 4 1.5 3.7 1.4 3.4 1.4 3.1 1.4 2.7 1.4 2.4 1.4 2.1 1.4 1.7 1.5 1.5 1.4 1.3 1.4 1 1.4 .8 1.4 .7 1.4 .6 1.5 .4 1.4 .3 1.4 .3 1.4 .2 1.4 .1 1.4 .1 1.5 .1 1.4 .1 1.4 0 1.4 0 1.4 .1" fill="none" stroke="#d62931" stroke-width="3.5" stroke-linejoin="round" stroke-linecap="round"/>
<rect x="985.8" y="1036.4" width="7.08" height="0.6" fill="none" stroke="#4d4d4d" stroke-width="1.2"/>
<rect x="1000.0" y="1033.7" width="7.08" height="3.3" fill="none" stroke="#4d4d4d" stroke-width="1.2"/>
<rect x="1007.1" y="1018.3" width="7.08" height="18.7" fill="none" stroke="#4d4d4d" stroke-width="1.2"/>
<rect x="1014.1" y="1009.0" width="7.08" height="28.0" fill="none" stroke="#4d4d4d" stroke-width="1.2"/>
<rect x="1021.2" y="1009.0" width="7.08" height="28.0" fill="none" stroke="#4d4d4d" stroke-width="1.2"/>
<rect x="1028.3" y="1009.0" width="7.08" height="28.0" fill="none" stroke="#4d4d4d" stroke-width="1.2"/>
<rect x="1035.4" y="1010.5" width="7.08" height="26.5" fill="none" stroke="#4d4d4d" stroke-width="1.2"/>
<rect x="1042.5" y="1020.4" width="7.08" height="16.6" fill="none" stroke="#4d4d4d" stroke-width="1.2"/>
<rect x="1049.5" y="1030.4" width="7.08" height="6.6" fill="none" stroke="#4d4d4d" stroke-width="1.2"/>
<rect x="1056.6" y="1035.8" width="7.08" height="1.2" fill="none" stroke="#4d4d4d" stroke-width="1.2"/>
<rect x="1063.7" y="1036.4" width="7.08" height="0.6" fill="none" stroke="#4d4d4d" stroke-width="1.2"/>
<rect x="1084.9" y="1036.4" width="7.08" height="0.6" fill="none" stroke="#4d4d4d" stroke-width="1.2"/>
<rect x="1099.1" y="1033.7" width="7.08" height="3.3" fill="none" stroke="#4d4d4d" stroke-width="1.2"/>
<rect x="1106.2" y="1012.7" width="7.08" height="24.3" fill="none" stroke="#4d4d4d" stroke-width="1.2"/>
<rect x="1113.3" y="990.6" width="7.08" height="46.4" fill="none" stroke="#4d4d4d" stroke-width="1.2"/>
<rect x="1120.3" y="970.4" width="7.08" height="66.6" fill="none" stroke="#4d4d4d" stroke-width="1.2"/>
<rect x="1127.4" y="959.8" width="7.08" height="77.2" fill="none" stroke="#4d4d4d" stroke-width="1.2"/>
<rect x="1134.5" y="956.4" width="7.08" height="80.6" fill="none" stroke="#4d4d4d" stroke-width="1.2"/>
<rect x="1141.6" y="960.9" width="7.08" height="76.1" fill="none" stroke="#4d4d4d" stroke-width="1.2"/>
<rect x="1148.7" y="979.7" width="7.08" height="57.3" fill="none" stroke="#4d4d4d" stroke-width="1.2"/>
<rect x="1155.7" y="1007.2" width="7.08" height="29.8" fill="none" stroke="#4d4d4d" stroke-width="1.2"/>
<rect x="1162.8" y="1020.4" width="7.08" height="16.6" fill="none" stroke="#4d4d4d" stroke-width="1.2"/>
<rect x="1169.9" y="1035.0" width="7.08" height="2.0" fill="none" stroke="#4d4d4d" stroke-width="1.2"/>
<rect x="1177.0" y="1035.7" width="7.08" height="1.3" fill="none" stroke="#4d4d4d" stroke-width="1.2"/>
<line x1="955.6" y1="948.8" x2="955.6" y2="1037.0" stroke="#000" stroke-width="2.3"/>
<line x1="944.6" y1="1037.0" x2="1241.3" y2="1037.0" stroke="#000" stroke-width="2.3"/>
<line x1="944.6" y1="1037.0" x2="955.6" y2="1037.0" stroke="#000" stroke-width="2.3"/>
<text x="923.7" y="1047.9" font-size="30.18" textLength="16.30" lengthAdjust="spacingAndGlyphs">0</text>
<line x1="944.6" y1="992.9" x2="955.6" y2="992.9" stroke="#000" stroke-width="2.3"/>
<text x="874.8" y="1003.8" font-size="30.18" textLength="65.18" lengthAdjust="spacingAndGlyphs">4500</text>
<line x1="944.6" y1="948.8" x2="955.6" y2="948.8" stroke="#000" stroke-width="2.3"/>
<text x="874.8" y="959.7" font-size="30.18" textLength="65.18" lengthAdjust="spacingAndGlyphs">9000</text>
<line x1="957.4" y1="1037.0" x2="957.4" y2="1049.2" stroke="#000" stroke-width="2.3"/>
<text x="945.0" y="1075.9" font-size="30.18" textLength="26.05" lengthAdjust="spacingAndGlyphs">-1</text>
<line x1="1028.3" y1="1037.0" x2="1028.3" y2="1049.2" stroke="#000" stroke-width="2.3"/>
<text x="1020.1" y="1075.9" font-size="30.18" textLength="16.30" lengthAdjust="spacingAndGlyphs">0</text>
<line x1="1099.1" y1="1037.0" x2="1099.1" y2="1049.2" stroke="#000" stroke-width="2.3"/>
<text x="1090.5" y="1075.9" font-size="30.18" textLength="16.30" lengthAdjust="spacingAndGlyphs">1</text>
<line x1="1169.9" y1="1037.0" x2="1169.9" y2="1049.2" stroke="#000" stroke-width="2.3"/>
<text x="1161.8" y="1075.9" font-size="30.18" textLength="16.30" lengthAdjust="spacingAndGlyphs">2</text>
<line x1="1240.7" y1="1037.0" x2="1240.7" y2="1049.2" stroke="#000" stroke-width="2.3"/>
<text x="1232.6" y="1075.9" font-size="30.18" textLength="16.30" lengthAdjust="spacingAndGlyphs">3</text>
<text x="1023.6" y="1101.4" font-size="30.18" textLength="165.15" lengthAdjust="spacingAndGlyphs">Current (pA)</text>
<text x="839.4" y="1042.3" font-size="30.18" transform="rotate(-90 839.4 1042.3)" textLength="95.11" lengthAdjust="spacingAndGlyphs">Counts</text>
<path d="M987.9 1036.6l1.5-.2 1.4-.2 1.4-.2 1.4-.3 1.4-.4 1.4-.5 1.5-.5 1.4-.7 1.4-.8 1.4-.9 1.4-1.1 1.4-1.2 1.5-1.3 1.4-1.5 1.4-1.6 1.4-1.8 1.4-1.8 1.4-1.9 1.4-1.9 1.5-1.9 1.4-1.9 1.4-1.7 1.4-1.6 1.4-1.5 1.4-1.1 1.5-1 1.4-.6 1.4-.3 1.4 0 1.4 .3 1.4 .6 1.5 1 1.4 1.1 1.4 1.5 1.4 1.6 1.4 1.7 1.4 1.9 1.5 1.9 1.4 1.9 1.4 1.9 1.4 1.8 1.4 1.8 1.4 1.6 1.4 1.5 1.5 1.3 1.4 1.2 1.4 1.1 1.4 .9 1.4 .8 1.4 .7 1.5 .5 1.4 .5 1.4 .4 1.4 .3 1.4 .2 1.4 .2 1.5 .2 1.4 .1 1.4 .1 1.4 0 1.4 .1 1.4 0 1.5 0 1.4 0 1.4 0 1.4 0 1.4-.1 1.4 0 1.4-.1 1.5-.1 1.4-.2 1.4-.2 1.4-.2 1.4-.3 1.4-.4 1.5-.5 1.4-.7 1.4-.7 1.4-1 1.4-1.1 1.4-1.4 1.5-1.5 1.4-1.9 1.4-2.1 1.4-2.5 1.4-2.8 1.4-3.1 1.5-3.4 1.4-3.8 1.4-4 1.4-4.3 1.4-4.5 1.4-4.7 1.4-4.8 1.5-4.8 1.4-4.8 1.4-4.5 1.4-4.4 1.4-4 1.4-3.5 1.5-3.1 1.4-2.4 1.4-1.8 1.4-1.1 1.4-.4 1.4 .4 1.5 1.1 1.4 1.8 1.4 2.4 1.4 3.1 1.4 3.5 1.4 4 1.5 4.4 1.4 4.5 1.4 4.8 1.4 4.8 1.4 4.8 1.4 4.7 1.4 4.5 1.5 4.3 1.4 4 1.4 3.8 1.4 3.4 1.4 3.1 1.4 2.8 1.5 2.5 1.4 2.1 1.4 1.9 1.4 1.5 1.4 1.4 1.4 1.1 1.5 1 1.4 .7 1.4 .7 1.4 .5 1.4 .4" fill="none" stroke="#d62931" stroke-width="3.5" stroke-linejoin="round" stroke-linecap="round"/>
<rect x="1007.1" y="1213.7" width="7.08" height="2.8" fill="none" stroke="#4d4d4d" stroke-width="1.2"/>
<rect x="1014.1" y="1192.7" width="7.08" height="23.8" fill="none" stroke="#4d4d4d" stroke-width="1.2"/>
<rect x="1021.2" y="1187.2" width="7.08" height="29.3" fill="none" stroke="#4d4d4d" stroke-width="1.2"/>
<rect x="1028.3" y="1187.2" width="7.08" height="29.3" fill="none" stroke="#4d4d4d" stroke-width="1.2"/>
<rect x="1035.4" y="1193.7" width="7.08" height="22.8" fill="none" stroke="#4d4d4d" stroke-width="1.2"/>
<rect x="1042.5" y="1208.1" width="7.08" height="8.4" fill="none" stroke="#4d4d4d" stroke-width="1.2"/>
<rect x="1113.3" y="1208.1" width="7.08" height="8.4" fill="none" stroke="#4d4d4d" stroke-width="1.2"/>
<rect x="1120.3" y="1188.2" width="7.08" height="28.3" fill="none" stroke="#4d4d4d" stroke-width="1.2"/>
<rect x="1127.4" y="1161.8" width="7.08" height="54.7" fill="none" stroke="#4d4d4d" stroke-width="1.2"/>
<rect x="1134.5" y="1140.4" width="7.08" height="76.1" fill="none" stroke="#4d4d4d" stroke-width="1.2"/>
<rect x="1141.6" y="1134.2" width="7.08" height="82.3" fill="none" stroke="#4d4d4d" stroke-width="1.2"/>
<rect x="1148.7" y="1156.9" width="7.08" height="59.6" fill="none" stroke="#4d4d4d" stroke-width="1.2"/>
<rect x="1155.7" y="1182.8" width="7.08" height="33.7" fill="none" stroke="#4d4d4d" stroke-width="1.2"/>
<rect x="1162.8" y="1205.9" width="7.08" height="10.6" fill="none" stroke="#4d4d4d" stroke-width="1.2"/>
<rect x="1169.9" y="1213.7" width="7.08" height="2.8" fill="none" stroke="#4d4d4d" stroke-width="1.2"/>
<line x1="955.6" y1="1128.2" x2="955.6" y2="1216.5" stroke="#000" stroke-width="2.3"/>
<line x1="944.6" y1="1216.5" x2="1241.3" y2="1216.5" stroke="#000" stroke-width="2.3"/>
<line x1="944.6" y1="1216.5" x2="955.6" y2="1216.5" stroke="#000" stroke-width="2.3"/>
<text x="923.7" y="1227.4" font-size="30.18" textLength="16.30" lengthAdjust="spacingAndGlyphs">0</text>
<line x1="944.6" y1="1172.3" x2="955.6" y2="1172.3" stroke="#000" stroke-width="2.3"/>
<text x="874.8" y="1183.2" font-size="30.18" textLength="65.18" lengthAdjust="spacingAndGlyphs">2500</text>
<line x1="944.6" y1="1128.2" x2="955.6" y2="1128.2" stroke="#000" stroke-width="2.3"/>
<text x="874.8" y="1139.1" font-size="30.18" textLength="65.18" lengthAdjust="spacingAndGlyphs">5000</text>
<line x1="957.4" y1="1216.5" x2="957.4" y2="1228.7" stroke="#000" stroke-width="2.3"/>
<text x="945.0" y="1255.4" font-size="30.18" textLength="26.05" lengthAdjust="spacingAndGlyphs">-1</text>
<line x1="1028.3" y1="1216.5" x2="1028.3" y2="1228.7" stroke="#000" stroke-width="2.3"/>
<text x="1020.1" y="1255.4" font-size="30.18" textLength="16.30" lengthAdjust="spacingAndGlyphs">0</text>
<line x1="1099.1" y1="1216.5" x2="1099.1" y2="1228.7" stroke="#000" stroke-width="2.3"/>
<text x="1090.5" y="1255.4" font-size="30.18" textLength="16.30" lengthAdjust="spacingAndGlyphs">1</text>
<line x1="1169.9" y1="1216.5" x2="1169.9" y2="1228.7" stroke="#000" stroke-width="2.3"/>
<text x="1161.8" y="1255.4" font-size="30.18" textLength="16.30" lengthAdjust="spacingAndGlyphs">2</text>
<line x1="1240.7" y1="1216.5" x2="1240.7" y2="1228.7" stroke="#000" stroke-width="2.3"/>
<text x="1232.6" y="1255.4" font-size="30.18" textLength="16.30" lengthAdjust="spacingAndGlyphs">3</text>
<text x="1023.6" y="1280.9" font-size="30.18" textLength="165.15" lengthAdjust="spacingAndGlyphs">Current (pA)</text>
<text x="839.4" y="1221.8" font-size="30.18" transform="rotate(-90 839.4 1221.8)" textLength="95.11" lengthAdjust="spacingAndGlyphs">Counts</text>
<path d="M1008.5 1213.3l1.4-1.2 1.4-1.5 1.4-1.9 1.4-2.2 1.5-2.5 1.4-2.8 1.4-3 1.4-3 1.4-3 1.4-2.7 1.5-2.4 1.4-1.8 1.4-1.1 1.4-.4 1.4 .4 1.4 1.1 1.4 1.8 1.5 2.4 1.4 2.7 1.4 3 1.4 3 1.4 3 1.4 2.8 1.5 2.5 1.4 2.2 1.4 1.9 1.4 1.5 1.4 1.2 1.4 .9 1.5 .7 1.4 .5 1.4 .4 1.4 .2 1.4 .2 1.4 .1 1.5 .1 1.4 0 1.4 .1 1.4 0 1.4 0 1.4 0 1.4 0 1.5 0 1.4 0 1.4 0 1.4 0 1.4 0 1.4 0 1.5 0 1.4 0 1.4 0 1.4 0 1.4 0 1.4 0 1.5 0 1.4 0 1.4 0 1.4 0 1.4 0 1.4 0 1.5 0 1.4 0 1.4 0 1.4 0 1.4-.1 1.4 0 1.4-.1 1.5 0 1.4-.2 1.4-.2 1.4-.2 1.4-.4 1.4-.6 1.5-.7 1.4-1 1.4-1.3 1.4-1.7 1.4-2.1 1.4-2.6 1.5-3.2 1.4-3.7 1.4-4.4 1.4-5 1.4-5.5 1.4-6 1.5-6.3 1.4-6.4 1.4-6.4 1.4-6.1 1.4-5.6 1.4-4.8 1.4-3.9 1.5-2.6 1.4-1.4 1.4 0 1.4 1.4 1.4 2.6 1.4 3.9 1.5 4.8 1.4 5.6 1.4 6.1 1.4 6.4 1.4 6.4 1.4 6.3 1.5 6 1.4 5.5 1.4 5 1.4 4.4 1.4 3.7 1.4 3.2 1.5 2.6 1.4 2.1 1.4 1.7 1.4 1.3 1.4 1 1.4 .7 1.4 .6 1.5 .4" fill="none" stroke="#d62931" stroke-width="3.5" stroke-linejoin="round" stroke-linecap="round"/>
<line x1="1381.9" y1="700.6" x2="1381.9" y2="1167.0" stroke="#000" stroke-width="2.3"/>
<line x1="1366.5" y1="1167.0" x2="1654.0" y2="1167.0" stroke="#000" stroke-width="2.3"/>
<line x1="1366.5" y1="1167.0" x2="1381.9" y2="1167.0" stroke="#000" stroke-width="2.3"/>
<text x="1318.1" y="1179.3" font-size="30.18" textLength="40.73" lengthAdjust="spacingAndGlyphs">0.0</text>
<line x1="1366.5" y1="1073.9" x2="1381.9" y2="1073.9" stroke="#000" stroke-width="2.3"/>
<text x="1318.6" y="1086.2" font-size="30.18" textLength="40.73" lengthAdjust="spacingAndGlyphs">0.2</text>
<line x1="1366.5" y1="980.9" x2="1381.9" y2="980.9" stroke="#000" stroke-width="2.3"/>
<text x="1318.0" y="993.2" font-size="30.18" textLength="40.73" lengthAdjust="spacingAndGlyphs">0.4</text>
<line x1="1366.5" y1="887.8" x2="1381.9" y2="887.8" stroke="#000" stroke-width="2.3"/>
<text x="1318.3" y="900.1" font-size="30.18" textLength="40.73" lengthAdjust="spacingAndGlyphs">0.6</text>
<line x1="1366.5" y1="794.8" x2="1381.9" y2="794.8" stroke="#000" stroke-width="2.3"/>
<text x="1318.3" y="807.1" font-size="30.18" textLength="40.73" lengthAdjust="spacingAndGlyphs">0.8</text>
<line x1="1366.5" y1="701.7" x2="1381.9" y2="701.7" stroke="#000" stroke-width="2.3"/>
<text x="1318.1" y="714.0" font-size="30.18" textLength="40.73" lengthAdjust="spacingAndGlyphs">1.0</text>
<rect x="1408.5" y="841.3" width="35.5" height="325.7" fill="#bfb4d9" stroke="#000" stroke-width="2.3"/>
<rect x="1459.2" y="735.2" width="35.6" height="431.8" fill="#684d9e" stroke="#000" stroke-width="2.3"/>
<rect x="1542.0" y="845.9" width="35.6" height="321.1" fill="#fddfa9" stroke="#000" stroke-width="2.3"/>
<rect x="1593.0" y="836.6" width="35.6" height="330.4" fill="#fbb435" stroke="#000" stroke-width="2.3"/>
<line x1="1426.0" y1="836.3" x2="1426.0" y2="847.8" stroke="#000" stroke-width="2.2"/>
<line x1="1418.8" y1="836.3" x2="1433.2" y2="836.3" stroke="#000" stroke-width="2.2"/>
<line x1="1418.8" y1="847.8" x2="1433.2" y2="847.8" stroke="#000" stroke-width="2.2"/>
<line x1="1477.2" y1="729.3" x2="1477.2" y2="741.4" stroke="#000" stroke-width="2.2"/>
<line x1="1470.0" y1="729.3" x2="1484.4" y2="729.3" stroke="#000" stroke-width="2.2"/>
<line x1="1470.0" y1="741.4" x2="1484.4" y2="741.4" stroke="#000" stroke-width="2.2"/>
<line x1="1560.0" y1="821.3" x2="1560.0" y2="870.8" stroke="#000" stroke-width="2.2"/>
<line x1="1552.8" y1="821.3" x2="1567.2" y2="821.3" stroke="#000" stroke-width="2.2"/>
<line x1="1552.8" y1="870.8" x2="1567.2" y2="870.8" stroke="#000" stroke-width="2.2"/>
<line x1="1610.9" y1="821.3" x2="1610.9" y2="853.0" stroke="#000" stroke-width="2.2"/>
<line x1="1603.7" y1="821.3" x2="1618.1" y2="821.3" stroke="#000" stroke-width="2.2"/>
<line x1="1603.7" y1="853.0" x2="1618.1" y2="853.0" stroke="#000" stroke-width="2.2"/>
<circle cx="1413.0" cy="832.0" r="5.3"/>
<circle cx="1420.2" cy="827.6" r="5.3"/>
<circle cx="1438.9" cy="827.6" r="5.3"/>
<circle cx="1432.0" cy="837.1" r="5.3"/>
<circle cx="1420.2" cy="846.3" r="5.3"/>
<circle cx="1420.2" cy="864.4" r="5.3"/>
<circle cx="1432.6" cy="860.7" r="5.3"/>
<circle cx="1489.5" cy="710.6" r="5.3"/>
<circle cx="1477.2" cy="720.4" r="5.3"/>
<circle cx="1464.2" cy="729.0" r="5.3"/>
<circle cx="1489.5" cy="733.6" r="5.3"/>
<circle cx="1477.2" cy="743.4" r="5.3"/>
<circle cx="1464.2" cy="757.2" r="5.3"/>
<circle cx="1489.5" cy="752.9" r="5.3"/>
<circle cx="1560.0" cy="799.4" r="5.3"/>
<circle cx="1560.0" cy="855.8" r="5.3"/>
<circle cx="1560.0" cy="883.7" r="5.3"/>
<circle cx="1610.9" cy="808.4" r="5.3"/>
<circle cx="1610.9" cy="837.1" r="5.3"/>
<circle cx="1610.9" cy="864.4" r="5.3"/>
<line x1="1426.0" y1="695.4" x2="1476.6" y2="695.4" stroke="#000" stroke-width="2.2"/>
<line x1="1560.0" y1="783.0" x2="1610.3" y2="783.0" stroke="#000" stroke-width="2.2"/>
<line x1="1767.1" y1="700.6" x2="1767.1" y2="1167.0" stroke="#000" stroke-width="2.3"/>
<line x1="1751.7" y1="1167.0" x2="2040.0" y2="1167.0" stroke="#000" stroke-width="2.3"/>
<line x1="1751.7" y1="1167.0" x2="1767.1" y2="1167.0" stroke="#000" stroke-width="2.3"/>
<text x="1727.3" y="1179.3" font-size="30.18" textLength="16.30" lengthAdjust="spacingAndGlyphs">0</text>
<line x1="1751.7" y1="1011.9" x2="1767.1" y2="1011.9" stroke="#000" stroke-width="2.3"/>
<text x="1711.1" y="1024.2" font-size="30.18" textLength="32.59" lengthAdjust="spacingAndGlyphs">10</text>
<line x1="1751.7" y1="856.8" x2="1767.1" y2="856.8" stroke="#000" stroke-width="2.3"/>
<text x="1711.1" y="869.1" font-size="30.18" textLength="32.59" lengthAdjust="spacingAndGlyphs">20</text>
<line x1="1751.7" y1="701.7" x2="1767.1" y2="701.7" stroke="#000" stroke-width="2.3"/>
<text x="1711.1" y="714.0" font-size="30.18" textLength="32.59" lengthAdjust="spacingAndGlyphs">30</text>
<rect x="1793.8" y="929.7" width="35.4" height="237.3" fill="#bfb4d9" stroke="#000" stroke-width="2.3"/>
<rect x="1844.9" y="844.4" width="35.4" height="322.6" fill="#684d9e" stroke="#000" stroke-width="2.3"/>
<rect x="1927.5" y="903.3" width="35.4" height="263.7" fill="#fddfa9" stroke="#000" stroke-width="2.3"/>
<rect x="1978.5" y="878.5" width="35.5" height="288.5" fill="#fbb435" stroke="#000" stroke-width="2.3"/>
<line x1="1811.5" y1="901.8" x2="1811.5" y2="956.3" stroke="#000" stroke-width="2.2"/>
<line x1="1804.3" y1="901.8" x2="1818.7" y2="901.8" stroke="#000" stroke-width="2.2"/>
<line x1="1804.3" y1="956.3" x2="1818.7" y2="956.3" stroke="#000" stroke-width="2.2"/>
<line x1="1862.2" y1="804.0" x2="1862.2" y2="884.4" stroke="#000" stroke-width="2.2"/>
<line x1="1855.0" y1="804.0" x2="1869.4" y2="804.0" stroke="#000" stroke-width="2.2"/>
<line x1="1855.0" y1="884.4" x2="1869.4" y2="884.4" stroke="#000" stroke-width="2.2"/>
<line x1="1945.6" y1="875.4" x2="1945.6" y2="932.0" stroke="#000" stroke-width="2.2"/>
<line x1="1938.4" y1="875.4" x2="1952.8" y2="875.4" stroke="#000" stroke-width="2.2"/>
<line x1="1938.4" y1="932.0" x2="1952.8" y2="932.0" stroke="#000" stroke-width="2.2"/>
<line x1="1995.9" y1="833.4" x2="1995.9" y2="922.6" stroke="#000" stroke-width="2.2"/>
<line x1="1988.7" y1="833.4" x2="2003.1" y2="833.4" stroke="#000" stroke-width="2.2"/>
<line x1="1988.7" y1="922.6" x2="2003.1" y2="922.6" stroke="#000" stroke-width="2.2"/>
<circle cx="1811.5" cy="844.2" r="5.3"/>
<circle cx="1811.5" cy="864.3" r="5.3"/>
<circle cx="1811.5" cy="881.0" r="5.3"/>
<circle cx="1811.5" cy="911.2" r="5.3"/>
<circle cx="1811.5" cy="976.1" r="5.3"/>
<circle cx="1811.5" cy="1003.9" r="5.3"/>
<circle cx="1811.5" cy="1024.7" r="5.3"/>
<circle cx="1850.0" cy="748.5" r="5.3"/>
<circle cx="1875.0" cy="743.4" r="5.3"/>
<circle cx="1862.0" cy="779.3" r="5.3"/>
<circle cx="1875.0" cy="775.3" r="5.3"/>
<circle cx="1862.2" cy="910.5" r="5.3"/>
<circle cx="1862.2" cy="963.3" r="5.3"/>
<circle cx="1862.2" cy="991.7" r="5.3"/>
<circle cx="1945.4" cy="850.6" r="5.3"/>
<circle cx="1945.6" cy="912.2" r="5.3"/>
<circle cx="1945.6" cy="948.7" r="5.3"/>
<circle cx="1996.0" cy="804.6" r="5.3"/>
<circle cx="1996.0" cy="871.3" r="5.3"/>
<circle cx="1996.0" cy="958.8" r="5.3"/>
<line x1="1811.7" y1="722.1" x2="1862.3" y2="722.1" stroke="#000" stroke-width="2.2"/>
<line x1="1945.4" y1="786.5" x2="1996.0" y2="786.5" stroke="#000" stroke-width="2.2"/>
<text x="1393.9" y="681.6" font-size="25.23" font-style="italic" textLength="13.63" lengthAdjust="spacingAndGlyphs">p</text>
<text x="1414.1" y="681.6" font-size="25.23" textLength="13.49" lengthAdjust="spacingAndGlyphs">&lt;</text>
<text x="1435.3" y="681.6" font-size="25.23" textLength="71.56" lengthAdjust="spacingAndGlyphs">0.0001</text>
<text x="1565.9" y="770.0" font-size="25.23" textLength="38.33" lengthAdjust="spacingAndGlyphs">n.s.</text>
<text x="1779.5" y="708.9" font-size="25.23" font-style="italic" textLength="13.63" lengthAdjust="spacingAndGlyphs">p</text>
<text x="1799.1" y="708.9" font-size="25.23" textLength="13.97" lengthAdjust="spacingAndGlyphs">=</text>
<text x="1821.2" y="708.9" font-size="25.23" textLength="73.76" lengthAdjust="spacingAndGlyphs">0.0014</text>
<text x="1951.3" y="775.0" font-size="25.23" textLength="38.66" lengthAdjust="spacingAndGlyphs">n.s.</text>
<text x="1295.2" y="954.0" font-size="30.18" transform="rotate(-90 1295.2 954.0)" font-style="italic" textLength="19.54" lengthAdjust="spacingAndGlyphs">P</text>
<text x="1305.0" y="934.6" font-size="17.51" transform="rotate(-90 1305.0 934.6)" font-style="italic" textLength="13.22" lengthAdjust="spacingAndGlyphs">O</text>
<text x="1688.3" y="1054.8" font-size="30.18" transform="rotate(-90 1688.3 1054.8)" textLength="242.16" lengthAdjust="spacingAndGlyphs">Conductance (pS)</text>
<text x="1340.7" y="1199.4" font-size="29.66" textLength="92.84" lengthAdjust="spacingAndGlyphs" transform="rotate(-33.3 1433.5 1199.4)">Control</text>
<text x="1348.1" y="1199.0" font-size="29.66" textLength="148.90" lengthAdjust="spacingAndGlyphs" transform="rotate(-33.3 1497 1199)">10 µM RTG</text>
<text x="1474.7" y="1199.8" font-size="29.66" textLength="92.84" lengthAdjust="spacingAndGlyphs" transform="rotate(-33.3 1567.5 1199.8)">Control</text>
<text x="1466.1" y="1200.0" font-size="29.66" textLength="162.29" lengthAdjust="spacingAndGlyphs" transform="rotate(-33.3 1628.4 1200)">10 µM Ebio1</text>
<text x="1726.4" y="1198.9" font-size="29.66" textLength="92.84" lengthAdjust="spacingAndGlyphs" transform="rotate(-33.3 1819.2 1198.9)">Control</text>
<text x="1733.6" y="1198.0" font-size="29.66" textLength="148.90" lengthAdjust="spacingAndGlyphs" transform="rotate(-33.3 1882.5 1198)">10 µM RTG</text>
<text x="1860.0" y="1198.9" font-size="29.66" textLength="92.84" lengthAdjust="spacingAndGlyphs" transform="rotate(-33.3 1952.8 1198.9)">Control</text>
<text x="1852.0" y="1200.8" font-size="29.66" textLength="162.29" lengthAdjust="spacingAndGlyphs" transform="rotate(-33.3 2014.3 1200.8)">10 µM Ebio1</text>
</svg>
</body></html>
